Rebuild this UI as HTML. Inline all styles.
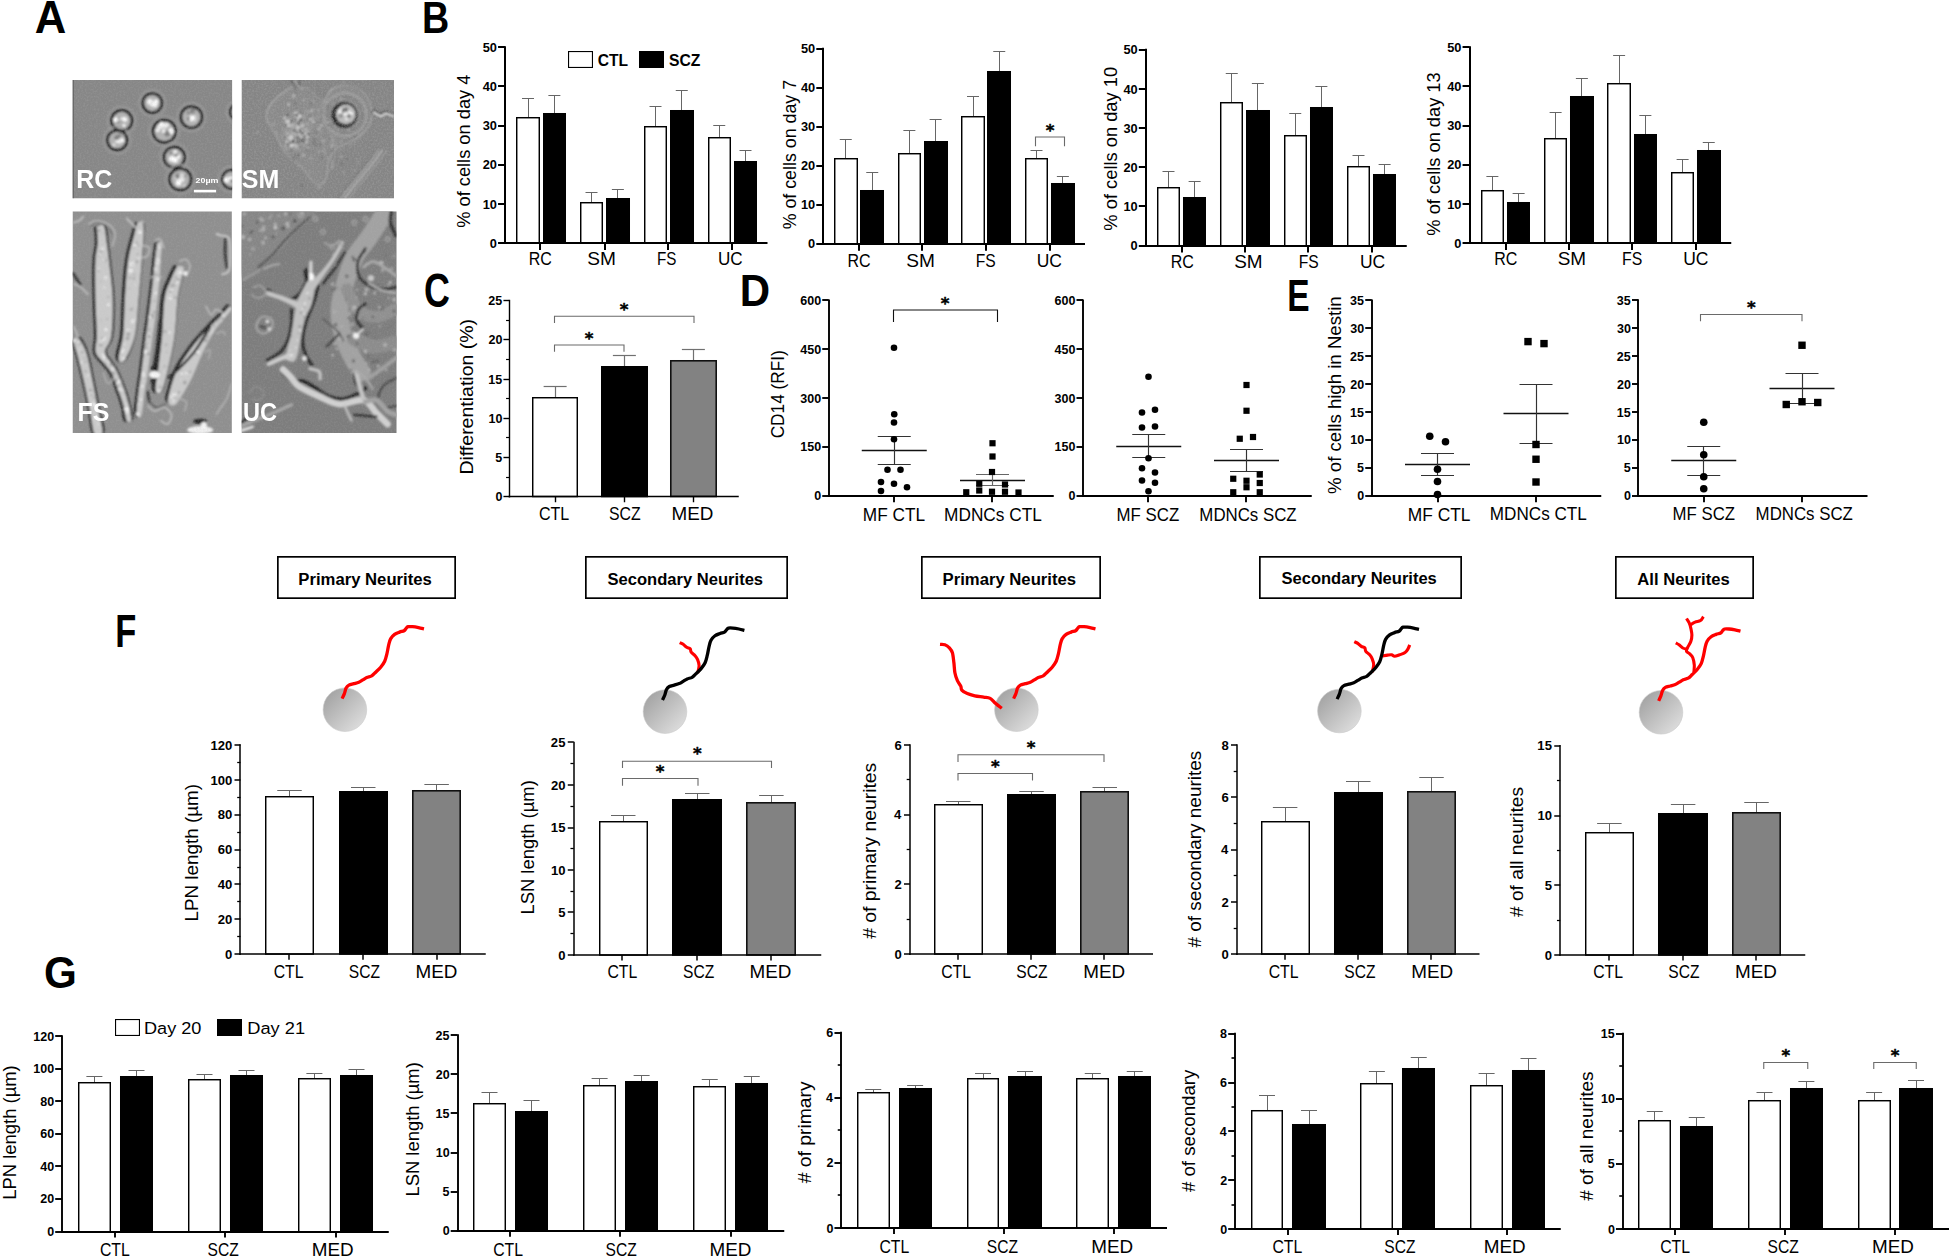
<!DOCTYPE html>
<html lang="en"><head><meta charset="utf-8"><title>Figure</title>
<style>
html,body{margin:0;padding:0;background:#fff}
svg{display:block}
svg text{font-family:"Liberation Sans",sans-serif}
</style></head><body>
<svg width="1949" height="1256" viewBox="0 0 1949 1256">
<rect width="1949" height="1256" fill="#fff"/>
<text transform="translate(34.66 32.50) scale(0.9386 1)" font-size="46.51" font-weight="bold" fill="#000">A</text>
<text transform="translate(421.95 32.50) scale(0.8647 1)" font-size="43.60" font-weight="bold" fill="#000">B</text>
<text transform="translate(424.06 307.03) scale(0.7583 1)" font-size="47.32" font-weight="bold" fill="#000">C</text>
<text transform="translate(739.66 305.50) scale(0.9483 1)" font-size="44.33" font-weight="bold" fill="#000">D</text>
<text transform="translate(1287.24 310.50) scale(0.7431 1)" font-size="45.06" font-weight="bold" fill="#000">E</text>
<text transform="translate(115.17 647.00) scale(0.7531 1)" font-size="45.78" font-weight="bold" fill="#000">F</text>
<text transform="translate(44.06 988.31) scale(0.9566 1)" font-size="44.14" font-weight="bold" fill="#000">G</text>
<g id="panelA">
<defs>
<filter id="b1" x="-10%" y="-10%" width="120%" height="120%"><feGaussianBlur stdDeviation="0.8"/></filter>
<filter id="b2" x="-10%" y="-10%" width="120%" height="120%"><feGaussianBlur stdDeviation="1.2"/></filter>
<filter id="b3" x="-10%" y="-10%" width="120%" height="120%"><feGaussianBlur stdDeviation="2.2"/></filter>
<filter id="bt" x="-5%" y="-5%" width="110%" height="110%"><feGaussianBlur stdDeviation="0.35"/></filter>
<filter id="nz" x="0" y="0" width="100%" height="100%"><feTurbulence type="fractalNoise" baseFrequency="0.55" numOctaves="2" seed="3" result="t"/><feColorMatrix type="matrix" values="0 0 0 0 0.5  0 0 0 0 0.5  0 0 0 0 0.5  1.2 0 0 0 -0.45"/></filter>
<clipPath id="cRC"><rect x="72.5" y="80" width="159.7" height="118.2"/></clipPath>
<clipPath id="cSM"><rect x="241.5" y="80" width="152.5" height="118.2"/></clipPath>
<clipPath id="cFS"><rect x="72.5" y="211.4" width="159.3" height="221.6"/></clipPath>
<clipPath id="cUC"><rect x="241.5" y="211.4" width="155" height="221.6"/></clipPath>
</defs>
<g clip-path="url(#cRC)">
<rect x="72.5" y="80" width="160" height="119" fill="#878787"/>
<g filter="url(#b1)">
<circle cx="152.3" cy="103.1" r="13.4" fill="none" stroke="#9c9c9c" stroke-width="1.4"/>
<circle cx="152.3" cy="103.1" r="10.8" fill="#1c1c1c"/>
<circle cx="152.3" cy="103.1" r="8.1" fill="#b2b2b2"/>
<circle cx="151.9" cy="103.9" r="2.3" fill="#ffffff"/>
<circle cx="152.6" cy="102.6" r="2.2" fill="#dcdcdc"/>
<circle cx="152.4" cy="103.6" r="1.9" fill="#f0f0f0"/>
<circle cx="154.5" cy="104.5" r="2.5" fill="#ffffff"/>
<circle cx="156.0" cy="101.8" r="2.2" fill="#ffffff"/>
<circle cx="150.1" cy="102.0" r="2.8" fill="#ffffff"/>
<circle cx="151.5" cy="102.8" r="1.9" fill="#dcdcdc"/>
<circle cx="153.7" cy="104.4" r="2.5" fill="#f0f0f0"/>
<circle cx="155.1" cy="105.2" r="1.6" fill="#ffffff"/>
<circle cx="151.9" cy="103.0" r="1.4" fill="#f0f0f0"/>
<circle cx="121.7" cy="120.6" r="14.1" fill="none" stroke="#9c9c9c" stroke-width="1.4"/>
<circle cx="121.7" cy="120.6" r="11.5" fill="#1c1c1c"/>
<circle cx="121.7" cy="120.6" r="8.8" fill="#b2b2b2"/>
<circle cx="118.0" cy="120.7" r="2.5" fill="#7e7e7e"/>
<circle cx="119.0" cy="119.0" r="1.7" fill="#8a8a8a"/>
<circle cx="124.0" cy="125.5" r="1.4" fill="#fff"/>
<circle cx="115.7" cy="119.7" r="2.4" fill="#fff"/>
<circle cx="121.3" cy="120.3" r="2.1" fill="#f0f0f0"/>
<circle cx="121.7" cy="119.6" r="2.0" fill="#ffffff"/>
<circle cx="122.2" cy="120.5" r="2.1" fill="#8a8a8a"/>
<circle cx="123.2" cy="119.1" r="2.3" fill="#dcdcdc"/>
<circle cx="116.2" cy="120.7" r="1.4" fill="#ffffff"/>
<circle cx="124.8" cy="119.5" r="2.3" fill="#ffffff"/>
<circle cx="117.2" cy="140.2" r="13.6" fill="none" stroke="#9c9c9c" stroke-width="1.4"/>
<circle cx="117.2" cy="140.2" r="11.0" fill="#1c1c1c"/>
<circle cx="117.2" cy="140.2" r="8.3" fill="#b2b2b2"/>
<circle cx="117.0" cy="138.2" r="2.2" fill="#fff"/>
<circle cx="118.0" cy="138.6" r="1.9" fill="#fff"/>
<circle cx="113.8" cy="145.1" r="1.8" fill="#dcdcdc"/>
<circle cx="117.5" cy="140.5" r="2.5" fill="#f0f0f0"/>
<circle cx="117.0" cy="137.7" r="2.7" fill="#7e7e7e"/>
<circle cx="119.7" cy="141.6" r="2.1" fill="#f0f0f0"/>
<circle cx="119.5" cy="135.2" r="1.7" fill="#7e7e7e"/>
<circle cx="121.6" cy="139.8" r="1.9" fill="#f0f0f0"/>
<circle cx="117.9" cy="141.1" r="1.6" fill="#f0f0f0"/>
<circle cx="122.5" cy="140.6" r="1.6" fill="#fff"/>
<circle cx="191.4" cy="117.1" r="14.4" fill="none" stroke="#9c9c9c" stroke-width="1.4"/>
<circle cx="191.4" cy="117.1" r="11.8" fill="#1c1c1c"/>
<circle cx="191.4" cy="117.1" r="9.1" fill="#b2b2b2"/>
<circle cx="194.4" cy="117.2" r="1.9" fill="#dcdcdc"/>
<circle cx="191.0" cy="117.9" r="2.6" fill="#dcdcdc"/>
<circle cx="188.4" cy="112.7" r="2.0" fill="#8a8a8a"/>
<circle cx="192.6" cy="110.9" r="2.5" fill="#7e7e7e"/>
<circle cx="189.1" cy="118.8" r="2.0" fill="#7e7e7e"/>
<circle cx="191.8" cy="117.3" r="1.6" fill="#f0f0f0"/>
<circle cx="194.7" cy="119.9" r="1.5" fill="#dcdcdc"/>
<circle cx="191.8" cy="117.7" r="1.8" fill="#ffffff"/>
<circle cx="192.8" cy="117.7" r="1.9" fill="#fff"/>
<circle cx="191.4" cy="119.6" r="1.8" fill="#ffffff"/>
<circle cx="164.3" cy="131.2" r="15.1" fill="none" stroke="#9c9c9c" stroke-width="1.4"/>
<circle cx="164.3" cy="131.2" r="12.5" fill="#1c1c1c"/>
<circle cx="164.3" cy="131.2" r="9.8" fill="#b2b2b2"/>
<circle cx="167.2" cy="133.8" r="2.8" fill="#7e7e7e"/>
<circle cx="163.6" cy="131.3" r="1.5" fill="#fff"/>
<circle cx="164.1" cy="127.4" r="2.3" fill="#dcdcdc"/>
<circle cx="171.7" cy="132.3" r="2.1" fill="#f0f0f0"/>
<circle cx="161.6" cy="124.5" r="2.4" fill="#fff"/>
<circle cx="171.1" cy="130.3" r="2.3" fill="#fff"/>
<circle cx="157.2" cy="130.4" r="1.8" fill="#f0f0f0"/>
<circle cx="158.3" cy="130.0" r="1.8" fill="#f0f0f0"/>
<circle cx="159.6" cy="127.1" r="2.4" fill="#f0f0f0"/>
<circle cx="166.5" cy="125.1" r="2.4" fill="#f0f0f0"/>
<circle cx="174.3" cy="157.2" r="14.1" fill="none" stroke="#9c9c9c" stroke-width="1.4"/>
<circle cx="174.3" cy="157.2" r="11.5" fill="#1c1c1c"/>
<circle cx="174.3" cy="157.2" r="8.8" fill="#b2b2b2"/>
<circle cx="175.4" cy="160.4" r="2.4" fill="#ffffff"/>
<circle cx="175.1" cy="154.0" r="1.6" fill="#dcdcdc"/>
<circle cx="177.3" cy="156.4" r="2.7" fill="#fff"/>
<circle cx="176.7" cy="156.5" r="1.6" fill="#f0f0f0"/>
<circle cx="172.0" cy="157.6" r="2.0" fill="#dcdcdc"/>
<circle cx="176.1" cy="154.4" r="2.3" fill="#8a8a8a"/>
<circle cx="170.7" cy="152.7" r="1.5" fill="#7e7e7e"/>
<circle cx="175.3" cy="152.1" r="2.0" fill="#f0f0f0"/>
<circle cx="170.3" cy="159.0" r="1.4" fill="#fff"/>
<circle cx="172.1" cy="158.9" r="2.7" fill="#fff"/>
<circle cx="180.3" cy="179.3" r="14.6" fill="none" stroke="#9c9c9c" stroke-width="1.4"/>
<circle cx="180.3" cy="179.3" r="12.0" fill="#1c1c1c"/>
<circle cx="180.3" cy="179.3" r="9.3" fill="#b2b2b2"/>
<circle cx="184.3" cy="185.5" r="1.3" fill="#dcdcdc"/>
<circle cx="185.2" cy="175.9" r="1.5" fill="#8a8a8a"/>
<circle cx="177.4" cy="177.3" r="2.7" fill="#f0f0f0"/>
<circle cx="179.4" cy="179.0" r="1.3" fill="#fff"/>
<circle cx="178.0" cy="176.2" r="2.7" fill="#7e7e7e"/>
<circle cx="181.7" cy="179.2" r="2.6" fill="#ffffff"/>
<circle cx="180.3" cy="181.5" r="1.7" fill="#dcdcdc"/>
<circle cx="178.5" cy="182.9" r="2.6" fill="#ffffff"/>
<circle cx="182.5" cy="177.9" r="2.0" fill="#dcdcdc"/>
<circle cx="181.8" cy="175.8" r="2.5" fill="#dcdcdc"/>
<circle cx="231.5" cy="179.3" r="13.1" fill="none" stroke="#9c9c9c" stroke-width="1.4"/>
<circle cx="231.5" cy="179.3" r="10.5" fill="#1c1c1c"/>
<circle cx="231.5" cy="179.3" r="7.8" fill="#b2b2b2"/>
<circle cx="232.1" cy="180.0" r="2.1" fill="#8a8a8a"/>
<circle cx="230.5" cy="179.7" r="1.3" fill="#8a8a8a"/>
<circle cx="232.0" cy="180.0" r="2.2" fill="#ffffff"/>
<circle cx="229.7" cy="178.6" r="2.1" fill="#dcdcdc"/>
<circle cx="226.9" cy="179.8" r="2.6" fill="#ffffff"/>
<circle cx="231.5" cy="180.9" r="2.5" fill="#dcdcdc"/>
<circle cx="231.3" cy="179.3" r="2.6" fill="#ffffff"/>
<circle cx="228.1" cy="180.6" r="2.1" fill="#dcdcdc"/>
<circle cx="232.0" cy="180.9" r="2.1" fill="#8a8a8a"/>
<circle cx="226.0" cy="180.1" r="2.3" fill="#fff"/>
<circle cx="238.0" cy="112.0" r="11.6" fill="none" stroke="#9c9c9c" stroke-width="1.4"/>
<circle cx="238.0" cy="112.0" r="9.0" fill="#1c1c1c"/>
<circle cx="238.0" cy="112.0" r="6.3" fill="#b2b2b2"/>
<circle cx="241.5" cy="110.2" r="1.6" fill="#7e7e7e"/>
<circle cx="238.3" cy="112.4" r="2.0" fill="#ffffff"/>
<circle cx="237.1" cy="110.3" r="1.6" fill="#fff"/>
<circle cx="238.8" cy="108.1" r="1.5" fill="#fff"/>
<circle cx="237.0" cy="110.7" r="1.7" fill="#f0f0f0"/>
<circle cx="238.9" cy="111.8" r="2.7" fill="#7e7e7e"/>
<circle cx="238.5" cy="111.5" r="2.3" fill="#f0f0f0"/>
<circle cx="239.0" cy="113.6" r="2.1" fill="#fff"/>
<circle cx="236.6" cy="112.7" r="1.4" fill="#fff"/>
<circle cx="240.4" cy="112.3" r="2.0" fill="#ffffff"/>
</g>
<rect x="72.5" y="80" width="160" height="119" filter="url(#nz)" opacity="0.35"/>
<rect x="72.5" y="80" width="1" height="119" fill="#4a4a4a"/>
<rect x="193.9" y="189.8" width="22.2" height="2.6" fill="#fff"/>
<g filter="url(#bt)">
<text transform="translate(195.59 182.80) scale(1.1425 1)" font-size="7.80" font-weight="bold" fill="#fff">20µm</text>
<text transform="translate(76.32 188.30) scale(0.9956 1)" font-size="25.00" font-weight="bold" fill="#fff">RC</text>
</g>
</g>
<g clip-path="url(#cSM)">
<rect x="241.5" y="80" width="153" height="119" fill="#858585"/>
<g filter="url(#b1)">
<path d="M292.17 86.03C289.83 87.70 281.97 92.72 278.13 96.06C274.28 99.40 271.11 102.25 269.10 106.09C267.09 109.94 264.92 114.11 266.09 119.13C267.26 124.14 273.11 130.66 276.12 136.18C279.13 141.70 280.13 147.21 284.14 152.23C288.16 157.24 295.51 161.42 300.19 166.27C304.87 171.12 308.72 178.31 312.23 181.32C315.74 184.32 318.92 185.16 321.26 184.32C323.60 183.49 325.10 180.15 326.27 176.30C327.44 172.46 326.61 165.94 328.28 161.26C329.95 156.58 331.62 152.06 336.30 148.22C340.98 144.37 350.84 142.20 356.36 138.19C361.88 134.17 367.06 129.49 369.40 124.14C371.74 118.80 371.74 111.61 370.40 106.09C369.07 100.57 365.39 94.56 361.38 91.05C357.36 87.53 351.35 85.36 346.33 85.03C341.32 84.69 335.13 86.36 331.29 89.04C327.44 91.71 325.77 99.91 323.26 101.08C320.75 102.25 319.08 98.23 316.24 96.06C313.40 93.89 310.22 89.71 306.21 88.04C302.20 86.36 294.51 86.36 292.17 86.03" fill="#8a8a8a" stroke="#ababab" stroke-width="1.5"/>
<path d="M292.17 86.03C289.83 87.70 281.97 92.72 278.13 96.06C274.28 99.40 271.11 102.25 269.10 106.09C267.09 109.94 264.92 114.11 266.09 119.13C267.26 124.14 273.11 130.66 276.12 136.18C279.13 141.70 280.13 147.21 284.14 152.23C288.16 157.24 295.51 161.42 300.19 166.27C304.87 171.12 308.72 178.31 312.23 181.32C315.74 184.32 318.92 185.16 321.26 184.32C323.60 183.49 325.10 180.15 326.27 176.30C327.44 172.46 326.61 165.94 328.28 161.26C329.95 156.58 331.62 152.06 336.30 148.22C340.98 144.37 350.84 142.20 356.36 138.19C361.88 134.17 367.06 129.49 369.40 124.14C371.74 118.80 371.74 111.61 370.40 106.09C369.07 100.57 365.39 94.56 361.38 91.05C357.36 87.53 351.35 85.36 346.33 85.03C341.32 84.69 335.13 86.36 331.29 89.04C327.44 91.71 325.77 99.91 323.26 101.08C320.75 102.25 319.08 98.23 316.24 96.06C313.40 93.89 310.22 89.71 306.21 88.04C302.20 86.36 294.51 86.36 292.17 86.03" fill="none" stroke="#6e6e6e" stroke-width="0.8" transform="translate(-1.2 -0.6)"/>
<path d="M323.26 101.08C322.59 103.58 319.58 110.27 319.25 116.12C318.92 121.97 320.09 129.49 321.26 136.18C322.43 142.87 325.10 152.06 326.27 156.24C327.44 160.42 327.94 160.42 328.28 161.26" fill="none" stroke="#9c9c9c" stroke-width="0.9"/>
<path d="M369.40 124.14C368.06 126.15 364.39 132.50 361.38 136.18C358.37 139.86 355.53 143.54 351.35 146.21C347.17 148.89 339.48 148.89 336.30 152.23C333.12 155.57 333.96 162.26 332.29 166.27C330.62 170.28 327.27 174.63 326.27 176.30" fill="none" stroke="#979797" stroke-width="0.9"/>
<ellipse cx="296.5" cy="132" rx="13" ry="19" fill="#9a9a9a" filter="url(#b3)"/>
<circle cx="289.9" cy="140.6" r="1.1" fill="#c0c0c0"/>
<circle cx="308.1" cy="147.5" r="1.0" fill="#c0c0c0"/>
<circle cx="301.0" cy="136.4" r="1.7" fill="#dedede"/>
<circle cx="295.7" cy="137.7" r="1.2" fill="#666"/>
<circle cx="289.0" cy="139.5" r="1.3" fill="#707070"/>
<circle cx="295.3" cy="127.9" r="0.9" fill="#dedede"/>
<circle cx="293.8" cy="134.0" r="1.7" fill="#c0c0c0"/>
<circle cx="297.1" cy="128.0" r="1.7" fill="#c0c0c0"/>
<circle cx="295.9" cy="137.5" r="0.8" fill="#d2d2d2"/>
<circle cx="301.2" cy="128.5" r="0.9" fill="#5a5a5a"/>
<circle cx="313.3" cy="121.7" r="1.1" fill="#dedede"/>
<circle cx="298.0" cy="140.9" r="1.1" fill="#5a5a5a"/>
<circle cx="294.2" cy="144.2" r="1.0" fill="#b4b4b4"/>
<circle cx="303.7" cy="100.2" r="0.8" fill="#cfcfcf"/>
<circle cx="295.3" cy="119.0" r="1.0" fill="#707070"/>
<circle cx="296.4" cy="143.6" r="1.5" fill="#d2d2d2"/>
<circle cx="291.3" cy="121.2" r="1.7" fill="#666"/>
<circle cx="288.6" cy="104.6" r="1.1" fill="#dedede"/>
<circle cx="290.9" cy="137.7" r="0.9" fill="#dedede"/>
<circle cx="306.0" cy="133.5" r="1.7" fill="#d2d2d2"/>
<circle cx="297.7" cy="136.0" r="1.6" fill="#666"/>
<circle cx="287.5" cy="122.8" r="0.8" fill="#dedede"/>
<circle cx="300.4" cy="141.7" r="1.1" fill="#b4b4b4"/>
<circle cx="304.9" cy="129.9" r="1.0" fill="#666"/>
<circle cx="297.1" cy="138.7" r="1.1" fill="#c0c0c0"/>
<circle cx="288.0" cy="134.2" r="1.0" fill="#cfcfcf"/>
<circle cx="307.1" cy="142.7" r="0.9" fill="#cfcfcf"/>
<circle cx="291.6" cy="137.7" r="1.4" fill="#c0c0c0"/>
<circle cx="288.8" cy="125.6" r="1.6" fill="#d2d2d2"/>
<circle cx="297.2" cy="115.5" r="1.3" fill="#666"/>
<circle cx="294.6" cy="117.3" r="0.8" fill="#d2d2d2"/>
<circle cx="294.9" cy="113.1" r="0.9" fill="#cfcfcf"/>
<circle cx="300.5" cy="119.9" r="1.7" fill="#5a5a5a"/>
<circle cx="298.0" cy="133.8" r="1.4" fill="#c0c0c0"/>
<circle cx="290.7" cy="140.3" r="0.9" fill="#cfcfcf"/>
<circle cx="288.8" cy="120.9" r="1.3" fill="#cfcfcf"/>
<circle cx="293.6" cy="133.3" r="1.7" fill="#c0c0c0"/>
<circle cx="294.8" cy="128.9" r="1.5" fill="#666"/>
<circle cx="301.1" cy="113.3" r="1.0" fill="#5a5a5a"/>
<circle cx="297.4" cy="147.3" r="1.3" fill="#d2d2d2"/>
<circle cx="309.8" cy="142.9" r="1.1" fill="#cfcfcf"/>
<circle cx="288.7" cy="122.1" r="0.9" fill="#dedede"/>
<circle cx="291.2" cy="145.5" r="1.5" fill="#dedede"/>
<circle cx="298.7" cy="132.5" r="1.1" fill="#c0c0c0"/>
<circle cx="292.5" cy="117.5" r="1.1" fill="#666"/>
<circle cx="288.5" cy="134.8" r="0.9" fill="#5a5a5a"/>
<circle cx="295.1" cy="136.3" r="1.3" fill="#666"/>
<circle cx="283.7" cy="137.2" r="1.8" fill="#707070"/>
<circle cx="303.1" cy="131.8" r="1.7" fill="#5a5a5a"/>
<circle cx="298.9" cy="134.3" r="1.5" fill="#666"/>
<circle cx="299.8" cy="130.6" r="1.6" fill="#666"/>
<circle cx="304.5" cy="121.5" r="1.0" fill="#707070"/>
<circle cx="293.0" cy="136.0" r="1.7" fill="#707070"/>
<circle cx="286.9" cy="141.7" r="1.2" fill="#d2d2d2"/>
<circle cx="290.8" cy="150.6" r="0.8" fill="#b4b4b4"/>
<circle cx="298.1" cy="127.7" r="1.7" fill="#cfcfcf"/>
<circle cx="300.9" cy="127.2" r="1.2" fill="#d2d2d2"/>
<circle cx="285.3" cy="145.7" r="0.9" fill="#d2d2d2"/>
<circle cx="296.7" cy="111.6" r="1.1" fill="#cfcfcf"/>
<circle cx="299.1" cy="124.8" r="1.7" fill="#5a5a5a"/>
<circle cx="303.6" cy="130.2" r="1.1" fill="#b4b4b4"/>
<circle cx="297.8" cy="121.4" r="0.8" fill="#d2d2d2"/>
<circle cx="310.4" cy="119.3" r="1.3" fill="#c0c0c0"/>
<circle cx="307.0" cy="137.4" r="1.3" fill="#dedede"/>
<circle cx="292.7" cy="125.4" r="0.8" fill="#dedede"/>
<circle cx="299.7" cy="141.8" r="1.1" fill="#666"/>
<circle cx="294.9" cy="103.5" r="1.1" fill="#5a5a5a"/>
<circle cx="293.4" cy="144.9" r="1.2" fill="#dedede"/>
<circle cx="294.5" cy="128.9" r="1.3" fill="#707070"/>
<circle cx="288.9" cy="128.6" r="1.1" fill="#707070"/>
<circle cx="288.3" cy="138.0" r="1.0" fill="#dedede"/>
<circle cx="294.5" cy="136.0" r="1.0" fill="#666"/>
<circle cx="297.9" cy="125.6" r="0.8" fill="#d2d2d2"/>
<circle cx="287.6" cy="143.9" r="1.0" fill="#666"/>
<circle cx="294.9" cy="135.4" r="1.1" fill="#b4b4b4"/>
<circle cx="302.0" cy="141.0" r="1.4" fill="#5a5a5a"/>
<circle cx="308.7" cy="144.5" r="1.2" fill="#707070"/>
<circle cx="290.7" cy="136.0" r="1.6" fill="#cfcfcf"/>
<circle cx="301.3" cy="140.1" r="1.6" fill="#707070"/>
<circle cx="304.2" cy="129.8" r="0.9" fill="#707070"/>
<circle cx="301.4" cy="130.8" r="0.9" fill="#dedede"/>
<circle cx="307.0" cy="155.1" r="0.9" fill="#707070"/>
<circle cx="306.6" cy="141.5" r="0.8" fill="#dedede"/>
<circle cx="297.9" cy="155.7" r="1.4" fill="#666"/>
<circle cx="305.8" cy="128.8" r="1.3" fill="#d2d2d2"/>
<circle cx="295.1" cy="127.3" r="0.9" fill="#5a5a5a"/>
<circle cx="292.4" cy="137.0" r="1.4" fill="#cfcfcf"/>
<circle cx="273.4" cy="124.0" r="1.1" fill="#b4b4b4"/>
<circle cx="287.3" cy="115.0" r="1.3" fill="#5a5a5a"/>
<circle cx="294.6" cy="131.5" r="1.2" fill="#666"/>
<circle cx="300.5" cy="134.5" r="1.7" fill="#d2d2d2"/>
<circle cx="300.6" cy="135.9" r="1.2" fill="#b4b4b4"/>
<circle cx="296.5" cy="134.9" r="1.1" fill="#d2d2d2"/>
<circle cx="291.6" cy="140.2" r="0.8" fill="#666"/>
<circle cx="295.6" cy="119.8" r="1.0" fill="#5a5a5a"/>
<circle cx="291.3" cy="150.2" r="1.0" fill="#5a5a5a"/>
<circle cx="294.8" cy="154.1" r="0.9" fill="#707070"/>
<circle cx="284.7" cy="117.9" r="1.3" fill="#cfcfcf"/>
<circle cx="299.9" cy="130.3" r="1.2" fill="#5a5a5a"/>
<circle cx="305.5" cy="134.3" r="1.2" fill="#cfcfcf"/>
<circle cx="299.3" cy="142.7" r="1.5" fill="#b4b4b4"/>
<circle cx="293.6" cy="96.0" r="1.7" fill="#b4b4b4"/>
<circle cx="299.9" cy="146.4" r="1.3" fill="#707070"/>
<circle cx="306.3" cy="135.3" r="1.2" fill="#b4b4b4"/>
<circle cx="303.7" cy="131.1" r="0.9" fill="#c0c0c0"/>
<circle cx="295.0" cy="141.8" r="1.8" fill="#c0c0c0"/>
<circle cx="285.3" cy="125.6" r="1.2" fill="#666"/>
<circle cx="299.5" cy="122.1" r="0.8" fill="#707070"/>
<circle cx="299.1" cy="144.6" r="1.2" fill="#b4b4b4"/>
<circle cx="286.4" cy="149.1" r="0.8" fill="#d2d2d2"/>
<circle cx="296.3" cy="146.9" r="1.2" fill="#d2d2d2"/>
<circle cx="298.7" cy="133.0" r="1.7" fill="#666"/>
<circle cx="297.1" cy="135.8" r="1.4" fill="#b4b4b4"/>
<circle cx="293.7" cy="158.3" r="1.4" fill="#666"/>
<circle cx="296.0" cy="116.1" r="1.7" fill="#666"/>
<circle cx="307.9" cy="132.6" r="1.7" fill="#c0c0c0"/>
<circle cx="301.3" cy="133.4" r="1.3" fill="#707070"/>
<circle cx="302.8" cy="129.2" r="1.1" fill="#d2d2d2"/>
<circle cx="297.7" cy="127.1" r="1.3" fill="#cfcfcf"/>
<circle cx="299.9" cy="115.9" r="1.6" fill="#dedede"/>
<circle cx="291.3" cy="126.4" r="1.1" fill="#b4b4b4"/>
<circle cx="298.2" cy="118.4" r="1.3" fill="#d2d2d2"/>
<circle cx="296.3" cy="124.3" r="0.9" fill="#cfcfcf"/>
<circle cx="287.5" cy="133.7" r="1.0" fill="#d2d2d2"/>
<circle cx="311.7" cy="111.4" r="1.1" fill="#c0c0c0"/>
<circle cx="298.1" cy="142.8" r="1.8" fill="#707070"/>
<circle cx="297.9" cy="137.2" r="1.3" fill="#5a5a5a"/>
<circle cx="296.0" cy="111.9" r="1.5" fill="#c0c0c0"/>
<circle cx="297.3" cy="123.6" r="1.1" fill="#666"/>
<circle cx="288.2" cy="144.5" r="1.0" fill="#5a5a5a"/>
<circle cx="298.2" cy="139.3" r="1.1" fill="#5a5a5a"/>
<circle cx="293.0" cy="141.6" r="1.8" fill="#5a5a5a"/>
<circle cx="294.3" cy="128.3" r="1.3" fill="#cfcfcf"/>
<circle cx="302.6" cy="139.3" r="1.6" fill="#707070"/>
<circle cx="297.9" cy="130.7" r="1.1" fill="#c0c0c0"/>
<circle cx="305.2" cy="136.6" r="1.6" fill="#5a5a5a"/>
<circle cx="302.3" cy="127.9" r="1.7" fill="#707070"/>
<circle cx="286.6" cy="121.3" r="1.5" fill="#cfcfcf"/>
<circle cx="303.6" cy="140.9" r="1.4" fill="#5a5a5a"/>
<circle cx="302.4" cy="134.4" r="0.8" fill="#666"/>
<circle cx="307.2" cy="136.3" r="1.7" fill="#cfcfcf"/>
<circle cx="299.2" cy="122.4" r="1.2" fill="#666"/>
<circle cx="297.8" cy="133.4" r="1.3" fill="#707070"/>
<circle cx="299.2" cy="134.1" r="1.2" fill="#dedede"/>
<circle cx="294.2" cy="128.7" r="1.0" fill="#666"/>
<circle cx="291.4" cy="136.8" r="1.1" fill="#cfcfcf"/>
<circle cx="292.7" cy="144.7" r="1.2" fill="#d2d2d2"/>
<circle cx="308.1" cy="134.2" r="1.6" fill="#5a5a5a"/>
<circle cx="290.7" cy="139.0" r="1.7" fill="#d2d2d2"/>
<circle cx="302.2" cy="125.8" r="1.6" fill="#d2d2d2"/>
<circle cx="304.3" cy="117.3" r="1.2" fill="#a4a4a4"/>
<circle cx="348.5" cy="130.8" r="1.1" fill="#b8b8b8"/>
<circle cx="346.8" cy="145.8" r="0.9" fill="#727272"/>
<circle cx="331.2" cy="147.6" r="0.7" fill="#a4a4a4"/>
<circle cx="331.0" cy="122.8" r="1.0" fill="#a4a4a4"/>
<circle cx="309.2" cy="171.4" r="0.6" fill="#b8b8b8"/>
<circle cx="310.7" cy="158.2" r="1.1" fill="#aeaeae"/>
<circle cx="346.1" cy="109.1" r="1.3" fill="#a4a4a4"/>
<circle cx="295.7" cy="91.5" r="1.1" fill="#727272"/>
<circle cx="344.5" cy="90.9" r="0.7" fill="#a4a4a4"/>
<circle cx="369.9" cy="142.7" r="0.7" fill="#6c6c6c"/>
<circle cx="333.3" cy="140.6" r="1.2" fill="#a4a4a4"/>
<circle cx="348.1" cy="135.9" r="1.2" fill="#aeaeae"/>
<circle cx="312.8" cy="109.5" r="0.9" fill="#b8b8b8"/>
<circle cx="294.0" cy="117.6" r="0.8" fill="#b8b8b8"/>
<circle cx="316.3" cy="145.0" r="0.9" fill="#6c6c6c"/>
<circle cx="300.7" cy="136.5" r="0.6" fill="#727272"/>
<circle cx="345.4" cy="125.7" r="1.0" fill="#727272"/>
<circle cx="326.4" cy="101.9" r="0.7" fill="#b8b8b8"/>
<circle cx="315.7" cy="133.2" r="0.9" fill="#6c6c6c"/>
<circle cx="341.0" cy="142.1" r="1.0" fill="#aeaeae"/>
<circle cx="332.7" cy="131.2" r="1.3" fill="#6c6c6c"/>
<circle cx="326.3" cy="99.7" r="0.6" fill="#727272"/>
<circle cx="346.1" cy="106.6" r="1.2" fill="#aeaeae"/>
<circle cx="365.6" cy="65.4" r="1.2" fill="#aeaeae"/>
<circle cx="342.6" cy="191.7" r="1.0" fill="#a4a4a4"/>
<circle cx="308.9" cy="92.7" r="0.8" fill="#6c6c6c"/>
<circle cx="309.7" cy="116.3" r="0.9" fill="#727272"/>
<circle cx="316.0" cy="171.6" r="0.7" fill="#727272"/>
<circle cx="345.4" cy="121.9" r="1.1" fill="#727272"/>
<circle cx="303.6" cy="127.2" r="0.6" fill="#a4a4a4"/>
<circle cx="297.5" cy="147.5" r="0.8" fill="#6c6c6c"/>
<circle cx="332.1" cy="119.1" r="1.2" fill="#aeaeae"/>
<circle cx="322.8" cy="120.5" r="1.3" fill="#b8b8b8"/>
<circle cx="296.0" cy="117.3" r="1.3" fill="#aeaeae"/>
<circle cx="321.7" cy="157.7" r="1.3" fill="#6c6c6c"/>
<circle cx="316.1" cy="200.9" r="1.1" fill="#6c6c6c"/>
<circle cx="317.8" cy="136.6" r="0.8" fill="#727272"/>
<circle cx="321.7" cy="120.5" r="1.3" fill="#6c6c6c"/>
<circle cx="301.9" cy="186.0" r="1.3" fill="#6c6c6c"/>
<circle cx="318.3" cy="88.4" r="0.8" fill="#6c6c6c"/>
<circle cx="305.3" cy="111.0" r="1.0" fill="#aeaeae"/>
<circle cx="332.2" cy="140.7" r="1.1" fill="#aeaeae"/>
<circle cx="347.6" cy="138.4" r="0.8" fill="#727272"/>
<circle cx="312.7" cy="141.4" r="1.1" fill="#727272"/>
<circle cx="335.4" cy="145.1" r="1.3" fill="#a4a4a4"/>
<circle cx="354.7" cy="170.2" r="0.8" fill="#a4a4a4"/>
<circle cx="314.7" cy="130.6" r="0.7" fill="#6c6c6c"/>
<circle cx="308.6" cy="138.9" r="0.6" fill="#727272"/>
<circle cx="344.0" cy="107.9" r="1.1" fill="#727272"/>
<circle cx="353.5" cy="113.0" r="0.8" fill="#aeaeae"/>
<circle cx="346.9" cy="136.1" r="0.9" fill="#a4a4a4"/>
<circle cx="347.0" cy="172.5" r="0.7" fill="#727272"/>
<circle cx="274.6" cy="110.0" r="0.7" fill="#a4a4a4"/>
<circle cx="292.1" cy="124.1" r="1.1" fill="#b8b8b8"/>
<circle cx="327.0" cy="114.3" r="0.8" fill="#6c6c6c"/>
<circle cx="274.7" cy="73.3" r="1.2" fill="#b8b8b8"/>
<circle cx="321.5" cy="125.4" r="1.3" fill="#b8b8b8"/>
<circle cx="348.8" cy="145.0" r="0.7" fill="#aeaeae"/>
<circle cx="319.8" cy="162.4" r="0.7" fill="#6c6c6c"/>
<circle cx="318.1" cy="109.7" r="1.0" fill="#b8b8b8"/>
<circle cx="303.6" cy="78.7" r="1.4" fill="#6c6c6c"/>
<circle cx="287.8" cy="79.6" r="0.8" fill="#727272"/>
<circle cx="338.2" cy="129.8" r="0.8" fill="#a4a4a4"/>
<circle cx="354.7" cy="114.5" r="0.9" fill="#b8b8b8"/>
<circle cx="314.6" cy="143.6" r="1.3" fill="#727272"/>
<circle cx="282.6" cy="136.7" r="1.2" fill="#aeaeae"/>
<circle cx="290.9" cy="142.8" r="1.1" fill="#6c6c6c"/>
<circle cx="327.1" cy="104.8" r="1.1" fill="#727272"/>
<circle cx="331.9" cy="120.9" r="0.6" fill="#aeaeae"/>
<circle cx="313.0" cy="118.1" r="1.4" fill="#aeaeae"/>
<circle cx="333.2" cy="130.5" r="1.1" fill="#aeaeae"/>
<circle cx="310.8" cy="90.9" r="0.7" fill="#727272"/>
<circle cx="323.0" cy="112.0" r="1.4" fill="#727272"/>
<circle cx="328.0" cy="122.4" r="1.3" fill="#b8b8b8"/>
<circle cx="333.1" cy="138.2" r="0.7" fill="#aeaeae"/>
<circle cx="365.9" cy="111.4" r="1.2" fill="#aeaeae"/>
<circle cx="335.5" cy="97.8" r="0.8" fill="#aeaeae"/>
<circle cx="347.0" cy="159.5" r="1.1" fill="#6c6c6c"/>
<circle cx="312.7" cy="150.9" r="0.6" fill="#6c6c6c"/>
<circle cx="328.0" cy="124.8" r="1.2" fill="#6c6c6c"/>
<circle cx="325.4" cy="95.7" r="1.0" fill="#6c6c6c"/>
<circle cx="318.1" cy="123.9" r="0.9" fill="#b8b8b8"/>
<circle cx="312.5" cy="126.7" r="1.0" fill="#aeaeae"/>
<circle cx="307.7" cy="124.0" r="1.3" fill="#aeaeae"/>
<circle cx="306.6" cy="119.1" r="0.9" fill="#727272"/>
<circle cx="332.6" cy="166.8" r="1.4" fill="#aeaeae"/>
<circle cx="316.6" cy="136.8" r="1.2" fill="#a4a4a4"/>
<circle cx="349.5" cy="121.4" r="1.4" fill="#727272"/>
<circle cx="318.7" cy="185.5" r="0.8" fill="#a4a4a4"/>
<circle cx="336.1" cy="121.4" r="0.7" fill="#aeaeae"/>
<circle cx="257.6" cy="132.5" r="1.0" fill="#aeaeae"/>
<circle cx="308.3" cy="111.8" r="0.9" fill="#b8b8b8"/>
<circle cx="349.0" cy="103.1" r="0.9" fill="#aeaeae"/>
<circle cx="309.6" cy="142.7" r="0.9" fill="#727272"/>
<circle cx="301.5" cy="127.8" r="1.3" fill="#a4a4a4"/>
<circle cx="332.3" cy="123.7" r="1.1" fill="#727272"/>
<circle cx="310.2" cy="110.3" r="0.9" fill="#a4a4a4"/>
<circle cx="337.5" cy="108.6" r="1.0" fill="#6c6c6c"/>
<circle cx="332.9" cy="150.6" r="1.2" fill="#727272"/>
<circle cx="324.3" cy="149.5" r="1.1" fill="#a4a4a4"/>
<circle cx="305.5" cy="127.1" r="1.2" fill="#727272"/>
<circle cx="328.9" cy="139.5" r="0.8" fill="#6c6c6c"/>
<circle cx="306.5" cy="114.6" r="0.8" fill="#a4a4a4"/>
<circle cx="319.1" cy="187.7" r="1.4" fill="#a4a4a4"/>
<circle cx="331.5" cy="125.4" r="0.9" fill="#a4a4a4"/>
<circle cx="331.5" cy="90.5" r="0.9" fill="#a4a4a4"/>
<circle cx="357.8" cy="161.5" r="0.8" fill="#b8b8b8"/>
<circle cx="318.7" cy="128.9" r="1.3" fill="#b8b8b8"/>
<circle cx="313.4" cy="101.5" r="1.1" fill="#b8b8b8"/>
<circle cx="338.0" cy="130.6" r="1.2" fill="#aeaeae"/>
<circle cx="319.4" cy="75.7" r="0.9" fill="#727272"/>
<circle cx="296.1" cy="109.9" r="1.3" fill="#727272"/>
<circle cx="341.0" cy="99.0" r="1.1" fill="#b8b8b8"/>
<circle cx="307.2" cy="135.7" r="1.2" fill="#b8b8b8"/>
<circle cx="323.0" cy="152.2" r="1.2" fill="#a4a4a4"/>
<circle cx="322.0" cy="153.2" r="1.0" fill="#727272"/>
<circle cx="338.0" cy="105.5" r="1.1" fill="#a4a4a4"/>
<circle cx="336.8" cy="114.8" r="0.6" fill="#b8b8b8"/>
<circle cx="330.3" cy="121.8" r="0.8" fill="#a4a4a4"/>
<circle cx="341.5" cy="163.5" r="1.4" fill="#727272"/>
<circle cx="298.4" cy="165.9" r="1.0" fill="#a4a4a4"/>
<circle cx="316.9" cy="99.8" r="1.1" fill="#6c6c6c"/>
<circle cx="300.6" cy="124.6" r="1.4" fill="#a4a4a4"/>
<circle cx="335.4" cy="127.1" r="1.0" fill="#aeaeae"/>
<circle cx="318.2" cy="95.2" r="1.1" fill="#6c6c6c"/>
<circle cx="318.8" cy="152.0" r="0.6" fill="#b8b8b8"/>
<circle cx="347.5" cy="110.9" r="1.1" fill="#727272"/>
<circle cx="320.6" cy="145.0" r="1.2" fill="#727272"/>
<circle cx="388.4" cy="114.3" r="1.4" fill="#b8b8b8"/>
<circle cx="324.6" cy="140.3" r="1.2" fill="#a4a4a4"/>
<circle cx="295.5" cy="133.9" r="0.8" fill="#a4a4a4"/>
<circle cx="303.9" cy="155.3" r="1.3" fill="#b8b8b8"/>
<circle cx="304.8" cy="132.0" r="1.0" fill="#a4a4a4"/>
<circle cx="326.4" cy="101.5" r="1.2" fill="#a4a4a4"/>
<circle cx="319.8" cy="151.2" r="0.8" fill="#b8b8b8"/>
<circle cx="311.6" cy="103.2" r="1.2" fill="#6c6c6c"/>
<circle cx="302.8" cy="155.2" r="0.9" fill="#b8b8b8"/>
<circle cx="295.1" cy="142.8" r="1.1" fill="#6c6c6c"/>
<circle cx="332.2" cy="144.7" r="0.9" fill="#aeaeae"/>
<circle cx="343.5" cy="82.0" r="1.2" fill="#a4a4a4"/>
<circle cx="303.0" cy="123.8" r="1.1" fill="#aeaeae"/>
<circle cx="324.0" cy="137.0" r="0.8" fill="#727272"/>
<circle cx="331.4" cy="135.9" r="0.8" fill="#b8b8b8"/>
<circle cx="315.1" cy="139.4" r="1.3" fill="#727272"/>
<circle cx="343.8" cy="172.0" r="1.1" fill="#aeaeae"/>
<circle cx="300.2" cy="83.7" r="1.2" fill="#6c6c6c"/>
<circle cx="332.5" cy="162.9" r="1.0" fill="#b8b8b8"/>
<circle cx="317.0" cy="117.5" r="0.7" fill="#b8b8b8"/>
<circle cx="323.1" cy="141.1" r="1.0" fill="#aeaeae"/>
<circle cx="276.6" cy="133.1" r="1.2" fill="#a4a4a4"/>
<circle cx="295.8" cy="128.3" r="1.3" fill="#aeaeae"/>
<circle cx="331.9" cy="145.8" r="1.2" fill="#b8b8b8"/>
<circle cx="301.6" cy="88.4" r="0.9" fill="#b8b8b8"/>
<circle cx="353.5" cy="128.0" r="0.7" fill="#6c6c6c"/>
<circle cx="318.7" cy="123.6" r="1.1" fill="#6c6c6c"/>
<circle cx="325.4" cy="118.1" r="1.0" fill="#a4a4a4"/>
<circle cx="354.7" cy="136.1" r="1.1" fill="#6c6c6c"/>
<circle cx="347.5" cy="147.7" r="0.9" fill="#727272"/>
<circle cx="278.3" cy="110.3" r="0.8" fill="#6c6c6c"/>
<circle cx="298.4" cy="142.3" r="1.3" fill="#6c6c6c"/>
<circle cx="307.0" cy="150.1" r="0.9" fill="#6c6c6c"/>
<circle cx="335.5" cy="112.2" r="0.8" fill="#b8b8b8"/>
<circle cx="326.9" cy="107.2" r="0.9" fill="#6c6c6c"/>
<circle cx="361.2" cy="174.3" r="0.7" fill="#aeaeae"/>
<circle cx="300.5" cy="146.1" r="0.9" fill="#727272"/>
<circle cx="338.9" cy="134.2" r="0.6" fill="#a4a4a4"/>
<circle cx="332.4" cy="103.5" r="1.2" fill="#aeaeae"/>
<circle cx="333.2" cy="76.9" r="1.1" fill="#727272"/>
<circle cx="340.9" cy="156.7" r="1.2" fill="#aeaeae"/>
<circle cx="345" cy="114.5" r="21.5" fill="none" stroke="#a6a6a6" stroke-width="1.3"/>
<circle cx="345" cy="114.5" r="17.5" fill="none" stroke="#787878" stroke-width="1.0"/>
<circle cx="344.4" cy="115" r="13.2" fill="#1e1e1e" opacity="0.9"/>
<circle cx="345.8" cy="114.4" r="9.8" fill="#bcbcbc"/>
<circle cx="346.7" cy="118.7" r="1.6" fill="#f0f0f0"/>
<circle cx="346.6" cy="115.0" r="1.1" fill="#fff"/>
<circle cx="349.5" cy="111.8" r="1.5" fill="#f0f0f0"/>
<circle cx="346.5" cy="110.4" r="1.4" fill="#8a8a8a"/>
<circle cx="345.7" cy="114.4" r="1.1" fill="#fff"/>
<circle cx="341.5" cy="109.1" r="1.2" fill="#fff"/>
<circle cx="339.9" cy="113.4" r="2.0" fill="#e4e4e4"/>
<circle cx="339.9" cy="111.3" r="1.6" fill="#fff"/>
<circle cx="343.8" cy="110.4" r="2.3" fill="#787878"/>
<circle cx="348.9" cy="113.8" r="1.6" fill="#fff"/>
<circle cx="348.5" cy="115.8" r="2.2" fill="#787878"/>
<circle cx="345.6" cy="114.2" r="1.9" fill="#fff"/>
<circle cx="351.6" cy="113.7" r="1.4" fill="#fff"/>
<circle cx="345.7" cy="114.3" r="2.0" fill="#f0f0f0"/>
<circle cx="340.6" cy="115.8" r="2.2" fill="#8a8a8a"/>
<circle cx="346.3" cy="109.3" r="2.1" fill="#787878"/>
<path d="M372 111L377 114L381 116L386 113L393 116" fill="none" stroke="#3e3e3e" stroke-width="4.5"/>
<path d="M373 112L377 114.5L381 116.5L386 113.5L394 116.5" fill="none" stroke="#dcdcdc" stroke-width="2.2"/>
<path d="M338.5 199C351.5 180 365.5 168 376.5 150" fill="none" stroke="#5e5e5e" stroke-width="1.3"/>
<path d="M340.4 199C353.4 180 367.4 168 378.4 150" fill="none" stroke="#b0b0b0" stroke-width="1.6"/>
<path d="M342.4 199C355.4 180 369.4 168 380.4 150" fill="none" stroke="#666" stroke-width="1.2"/>
<path d="M344.4 199C357.4 180 371.4 168 382.4 150" fill="none" stroke="#bcbcbc" stroke-width="1.7"/>
<path d="M346.6 199C359.6 180 373.6 168 384.6 150" fill="none" stroke="#626262" stroke-width="1.2"/>
<path d="M348.4 199C361.4 180 375.4 168 386.4 150" fill="none" stroke="#a8a8a8" stroke-width="1.2"/>
<path d="M291 80L296 88L300 80" fill="none" stroke="#5a5a5a" stroke-width="1.5"/>
<path d="M295 80L298 87" fill="none" stroke="#b4b4b4" stroke-width="1.2"/>
</g>
<rect x="241.5" y="80" width="153" height="119" filter="url(#nz)" opacity="0.5"/>
<g filter="url(#bt)">
<text transform="translate(241.75 188.30) scale(0.9993 1)" font-size="25.00" font-weight="bold" fill="#fff">SM</text>
</g>
</g>
<g clip-path="url(#cFS)">
<rect x="72.5" y="211" width="160" height="223" fill="#8f8f8f"/>
<g filter="url(#b1)">
<path d="M70.81 341.09C71.62 343.54 73.73 348.80 75.64 355.77C77.55 362.74 80.22 373.79 82.27 382.91C84.33 392.03 86.27 401.89 87.99 410.48C89.71 419.08 89.87 430.87 92.61 434.49C95.34 438.11 103.20 436.61 104.39 432.22C105.58 427.84 101.43 416.83 99.77 408.17C98.10 399.51 96.34 389.65 94.39 380.29C92.44 370.92 90.48 359.18 88.08 351.98C85.68 344.78 82.85 338.90 79.97 337.08C77.10 335.27 72.34 340.42 70.81 341.09" fill="#242424"/>
<path d="M72.65 340.29C73.46 342.77 75.63 348.15 77.56 355.18C79.49 362.22 82.16 373.34 84.23 382.49C86.29 391.64 88.23 401.49 89.95 410.10C91.68 418.70 92.49 430.36 94.57 434.11C96.65 437.86 101.89 436.86 102.43 432.60C102.97 428.34 99.47 417.20 97.80 408.56C96.14 399.91 94.38 390.04 92.44 380.71C90.50 371.38 88.55 359.70 86.17 352.56C83.79 345.43 80.40 339.93 78.14 337.88C75.89 335.84 73.56 339.89 72.65 340.29" fill="#cbcbcb"/>
<circle cx="77.5" cy="343.4" r="1.3" fill="#b8b8b8"/>
<circle cx="91.2" cy="406.9" r="0.8" fill="#e6e6e6"/>
<circle cx="82.1" cy="352.1" r="1.4" fill="#acacac"/>
<circle cx="90.6" cy="390.3" r="1.8" fill="#acacac"/>
<circle cx="79.3" cy="343.8" r="1.5" fill="#acacac"/>
<circle cx="84.4" cy="357.9" r="1.2" fill="#b8b8b8"/>
<circle cx="85.5" cy="371.3" r="1.2" fill="#acacac"/>
<circle cx="93.0" cy="403.4" r="1.1" fill="#e6e6e6"/>
<circle cx="94.2" cy="405.7" r="0.8" fill="#a2a2a2"/>
<circle cx="93.9" cy="397.8" r="1.0" fill="#acacac"/>
<circle cx="98.6" cy="423.8" r="1.6" fill="#d8d8d8"/>
<circle cx="76.5" cy="343.8" r="1.0" fill="#e6e6e6"/>
<circle cx="94.5" cy="404.7" r="1.7" fill="#f0f0f0"/>
<circle cx="85.5" cy="361.5" r="1.6" fill="#b8b8b8"/>
<circle cx="93.5" cy="417.7" r="1.4" fill="#acacac"/>
<circle cx="88.1" cy="375.7" r="1.8" fill="#d8d8d8"/>
<circle cx="79.6" cy="349.1" r="1.0" fill="#d8d8d8"/>
<circle cx="80.3" cy="350.8" r="0.9" fill="#d8d8d8"/>
<circle cx="77.2" cy="342.5" r="1.7" fill="#f0f0f0"/>
<circle cx="91.4" cy="394.8" r="1.0" fill="#a2a2a2"/>
<circle cx="77.4" cy="341.8" r="1.2" fill="#f0f0f0"/>
<circle cx="90.6" cy="392.8" r="0.9" fill="#e6e6e6"/>
<circle cx="93.7" cy="418.3" r="1.4" fill="#e6e6e6"/>
<circle cx="81.4" cy="362.6" r="1.1" fill="#f0f0f0"/>
<circle cx="74.9" cy="340.5" r="1.7" fill="#f0f0f0"/>
<path d="M94.08 226.97C94.22 229.70 95.15 237.53 94.91 243.33C94.66 249.12 92.98 252.53 92.60 261.76C92.22 270.98 92.40 286.53 92.65 298.69C92.89 310.86 93.99 325.70 94.07 334.74C94.14 343.77 91.61 347.72 93.11 352.92C94.60 358.13 100.32 362.39 103.03 365.99C105.73 369.59 107.11 370.12 109.33 374.55C111.54 378.98 114.37 387.20 116.31 392.58C118.25 397.95 119.68 402.04 120.97 406.82C122.27 411.60 122.08 419.12 124.08 421.25C126.07 423.38 131.85 422.39 132.92 419.59C133.99 416.79 131.65 409.52 130.48 404.44C129.31 399.36 127.97 394.82 125.90 389.11C123.84 383.40 120.50 374.98 118.09 370.17C115.69 365.36 113.37 363.42 111.45 360.24C109.54 357.07 106.33 355.16 106.59 351.13C106.85 347.09 111.71 344.87 113.02 336.04C114.33 327.21 114.81 310.63 114.44 298.15C114.07 285.67 111.78 270.41 110.79 261.15C109.80 251.89 109.35 248.52 108.49 242.61C107.62 236.70 108.01 228.30 105.61 225.69C103.21 223.09 96.00 226.76 94.08 226.97" fill="#242424"/>
<path d="M96.87 226.72C97.01 229.47 97.95 237.38 97.70 243.21C97.46 249.03 95.78 252.44 95.40 261.68C95.02 270.92 95.20 286.43 95.45 298.64C95.69 310.84 96.79 325.90 96.86 334.89C96.93 343.89 94.46 347.65 95.89 352.62C97.31 357.59 102.76 361.21 105.43 364.69C108.09 368.18 109.63 369.00 111.89 373.52C114.14 378.04 117.00 386.34 118.97 391.79C120.94 397.25 122.39 401.42 123.70 406.26C125.01 411.10 125.59 418.53 126.84 420.82C128.08 423.12 130.84 422.65 131.16 420.01C131.48 417.38 129.90 410.02 128.75 405.00C127.59 399.98 126.27 395.53 124.24 389.89C122.20 384.26 118.90 375.92 116.54 371.20C114.17 366.47 112.01 364.83 110.05 361.54C108.10 358.24 104.61 355.71 104.81 351.43C105.00 347.16 109.92 344.76 111.23 335.89C112.53 327.01 113.01 310.65 112.64 298.21C112.27 285.76 109.98 270.47 108.99 261.23C108.00 251.98 107.55 248.61 106.69 242.73C105.83 236.85 105.46 228.62 103.83 225.95C102.19 223.28 98.03 226.59 96.87 226.72" fill="#cbcbcb"/>
<circle cx="117.6" cy="383.2" r="1.7" fill="#d8d8d8"/>
<circle cx="108.2" cy="364.0" r="1.4" fill="#f0f0f0"/>
<circle cx="98.6" cy="270.8" r="1.0" fill="#a2a2a2"/>
<circle cx="106.8" cy="363.9" r="1.4" fill="#b8b8b8"/>
<circle cx="118.9" cy="381.4" r="1.7" fill="#f0f0f0"/>
<circle cx="114.4" cy="371.6" r="0.9" fill="#d8d8d8"/>
<circle cx="125.6" cy="409.1" r="1.7" fill="#f0f0f0"/>
<circle cx="110.1" cy="364.8" r="1.2" fill="#a2a2a2"/>
<circle cx="108.5" cy="304.8" r="1.7" fill="#e6e6e6"/>
<circle cx="126.8" cy="404.2" r="0.8" fill="#f0f0f0"/>
<circle cx="113.5" cy="373.4" r="1.6" fill="#a2a2a2"/>
<circle cx="101.5" cy="345.2" r="1.5" fill="#acacac"/>
<circle cx="102.6" cy="356.1" r="1.2" fill="#acacac"/>
<circle cx="105.8" cy="277.8" r="1.7" fill="#e6e6e6"/>
<circle cx="118.5" cy="385.6" r="0.8" fill="#a2a2a2"/>
<circle cx="105.1" cy="260.2" r="1.7" fill="#a2a2a2"/>
<circle cx="122.7" cy="390.1" r="1.2" fill="#e6e6e6"/>
<circle cx="101.1" cy="251.3" r="1.6" fill="#acacac"/>
<circle cx="99.6" cy="254.6" r="1.0" fill="#e6e6e6"/>
<circle cx="104.0" cy="287.8" r="0.9" fill="#a2a2a2"/>
<circle cx="100.7" cy="342.3" r="0.8" fill="#f0f0f0"/>
<circle cx="100.3" cy="341.0" r="1.3" fill="#d8d8d8"/>
<circle cx="119.6" cy="389.1" r="1.8" fill="#e6e6e6"/>
<circle cx="107.2" cy="319.1" r="0.9" fill="#a2a2a2"/>
<circle cx="102.5" cy="356.8" r="1.0" fill="#a2a2a2"/>
<circle cx="101.6" cy="250.2" r="1.0" fill="#b8b8b8"/>
<circle cx="104.7" cy="337.8" r="1.2" fill="#f0f0f0"/>
<circle cx="103.9" cy="357.7" r="1.6" fill="#f0f0f0"/>
<circle cx="102.8" cy="338.5" r="1.7" fill="#a2a2a2"/>
<circle cx="99.5" cy="344.9" r="1.0" fill="#a2a2a2"/>
<circle cx="98.9" cy="268.7" r="0.9" fill="#f0f0f0"/>
<circle cx="118.8" cy="386.4" r="0.9" fill="#b8b8b8"/>
<circle cx="101.3" cy="320.0" r="0.9" fill="#b8b8b8"/>
<circle cx="124.2" cy="396.9" r="0.9" fill="#d8d8d8"/>
<circle cx="103.1" cy="355.2" r="1.7" fill="#e6e6e6"/>
<circle cx="102.3" cy="233.1" r="0.9" fill="#b8b8b8"/>
<circle cx="103.6" cy="339.5" r="1.8" fill="#e6e6e6"/>
<circle cx="104.2" cy="287.4" r="1.7" fill="#d8d8d8"/>
<circle cx="127.4" cy="404.6" r="0.9" fill="#d8d8d8"/>
<circle cx="107.3" cy="328.6" r="1.1" fill="#b8b8b8"/>
<circle cx="112.8" cy="368.4" r="1.1" fill="#e6e6e6"/>
<circle cx="116.0" cy="380.6" r="1.6" fill="#a2a2a2"/>
<circle cx="98.9" cy="230.4" r="1.4" fill="#a2a2a2"/>
<circle cx="102.5" cy="248.7" r="1.8" fill="#e6e6e6"/>
<circle cx="104.1" cy="260.1" r="1.1" fill="#f0f0f0"/>
<circle cx="126.8" cy="412.5" r="1.2" fill="#d8d8d8"/>
<circle cx="98.8" cy="256.2" r="0.9" fill="#acacac"/>
<circle cx="127.0" cy="413.0" r="0.9" fill="#acacac"/>
<circle cx="100.7" cy="281.5" r="1.0" fill="#b8b8b8"/>
<circle cx="127.2" cy="412.5" r="1.7" fill="#e6e6e6"/>
<circle cx="112.5" cy="369.5" r="1.4" fill="#e6e6e6"/>
<circle cx="112.6" cy="372.1" r="1.2" fill="#acacac"/>
<circle cx="106.0" cy="329.4" r="1.6" fill="#f0f0f0"/>
<circle cx="107.7" cy="361.1" r="0.9" fill="#f0f0f0"/>
<circle cx="108.4" cy="296.9" r="1.0" fill="#acacac"/>
<path d="M134.40 222.26C133.92 224.03 133.09 226.50 131.52 232.87C129.95 239.23 126.59 249.64 124.97 260.45C123.35 271.26 122.61 285.44 121.80 297.72C120.99 310.00 121.13 324.07 120.10 334.11C119.08 344.15 114.78 353.49 115.63 357.95C116.47 362.41 121.87 364.44 125.18 360.89C128.49 357.34 133.13 346.97 135.49 336.67C137.85 326.38 138.18 311.49 139.34 299.12C140.50 286.75 141.61 273.21 142.46 262.45C143.30 251.70 144.25 241.16 144.41 234.59C144.56 228.01 145.04 225.06 143.37 223.01C141.71 220.96 135.90 222.39 134.40 222.26" fill="#242424"/>
<path d="M137.60 222.43C137.12 224.21 136.28 226.76 134.70 233.13C133.13 239.51 129.78 249.89 128.16 260.68C126.54 271.47 125.81 285.59 124.99 297.88C124.18 310.17 124.32 324.33 123.28 334.44C122.23 344.55 118.54 354.23 118.74 358.54C118.94 362.85 121.81 364.00 124.47 360.30C127.14 356.60 132.37 346.57 134.72 336.34C137.07 326.12 137.39 311.32 138.55 298.96C139.71 286.61 140.82 273.00 141.67 262.22C142.52 251.45 143.47 240.88 143.63 234.32C143.78 227.76 143.58 224.83 142.58 222.84C141.58 220.86 138.43 222.50 137.60 222.43" fill="#cbcbcb"/>
<circle cx="139.9" cy="226.7" r="0.9" fill="#acacac"/>
<circle cx="133.8" cy="247.7" r="0.9" fill="#acacac"/>
<circle cx="132.3" cy="321.8" r="1.7" fill="#e6e6e6"/>
<circle cx="139.9" cy="232.2" r="1.7" fill="#f0f0f0"/>
<circle cx="135.4" cy="284.7" r="0.8" fill="#e6e6e6"/>
<circle cx="130.6" cy="266.0" r="1.0" fill="#e6e6e6"/>
<circle cx="133.3" cy="265.6" r="1.0" fill="#e6e6e6"/>
<circle cx="123.5" cy="358.4" r="1.7" fill="#e6e6e6"/>
<circle cx="133.4" cy="320.2" r="1.2" fill="#f0f0f0"/>
<circle cx="138.7" cy="258.3" r="1.4" fill="#d8d8d8"/>
<circle cx="137.8" cy="254.1" r="1.1" fill="#acacac"/>
<circle cx="122.6" cy="352.1" r="1.2" fill="#f0f0f0"/>
<circle cx="133.9" cy="278.5" r="1.4" fill="#acacac"/>
<circle cx="133.5" cy="262.6" r="1.0" fill="#f0f0f0"/>
<circle cx="128.4" cy="334.3" r="1.7" fill="#a2a2a2"/>
<circle cx="136.7" cy="242.7" r="1.1" fill="#a2a2a2"/>
<circle cx="130.8" cy="263.6" r="1.4" fill="#f0f0f0"/>
<circle cx="130.0" cy="277.7" r="1.2" fill="#acacac"/>
<circle cx="129.4" cy="288.6" r="1.0" fill="#b8b8b8"/>
<circle cx="138.5" cy="245.3" r="0.9" fill="#a2a2a2"/>
<circle cx="123.4" cy="350.1" r="1.6" fill="#e6e6e6"/>
<circle cx="132.0" cy="308.4" r="1.4" fill="#b8b8b8"/>
<circle cx="134.8" cy="245.2" r="1.2" fill="#f0f0f0"/>
<circle cx="127.5" cy="338.2" r="1.8" fill="#a2a2a2"/>
<circle cx="127.8" cy="329.8" r="1.4" fill="#e6e6e6"/>
<circle cx="130.8" cy="329.9" r="1.1" fill="#d8d8d8"/>
<circle cx="134.0" cy="274.5" r="1.4" fill="#b8b8b8"/>
<circle cx="136.9" cy="261.7" r="1.8" fill="#acacac"/>
<circle cx="131.2" cy="309.5" r="1.6" fill="#acacac"/>
<circle cx="124.7" cy="344.4" r="1.6" fill="#d8d8d8"/>
<path d="M154.61 242.64C154.21 245.72 152.85 254.98 152.16 261.12C151.47 267.27 151.50 270.31 150.48 279.51C149.46 288.71 147.30 306.52 146.04 316.35C144.78 326.18 144.10 329.25 142.90 338.49C141.70 347.73 140.02 362.83 138.85 371.77C137.68 380.72 136.70 385.04 135.90 392.16C135.11 399.28 133.23 410.65 134.08 414.50C134.94 418.34 139.39 418.80 141.04 415.25C142.70 411.70 142.98 400.27 144.03 393.22C145.09 386.17 146.07 381.87 147.37 372.95C148.67 364.02 150.56 348.93 151.82 339.68C153.09 330.43 153.77 327.35 154.97 317.46C156.17 307.58 158.21 289.65 159.03 280.37C159.86 271.08 159.58 267.96 159.93 261.78C160.29 255.61 162.07 246.49 161.18 243.30C160.29 240.11 155.71 242.75 154.61 242.64" fill="#242424"/>
<path d="M157.31 242.75C156.90 245.83 155.55 255.07 154.86 261.22C154.17 267.36 154.19 270.41 153.17 279.62C152.15 288.83 149.99 306.65 148.73 316.48C147.47 326.32 146.79 329.40 145.59 338.64C144.39 347.88 142.71 362.98 141.54 371.92C140.37 380.87 139.39 385.19 138.59 392.30C137.80 399.42 136.29 410.81 136.78 414.61C137.27 418.42 140.26 418.72 141.55 415.13C142.84 411.54 143.49 400.14 144.54 393.08C145.60 386.02 146.58 381.72 147.88 372.80C149.18 363.87 151.07 348.78 152.33 339.54C153.60 330.29 154.28 327.21 155.48 317.33C156.68 307.45 158.71 289.53 159.54 280.26C160.37 270.98 160.08 267.87 160.44 261.69C160.80 255.51 162.21 246.34 161.69 243.19C161.16 240.03 158.04 242.82 157.31 242.75" fill="#cbcbcb"/>
<circle cx="152.7" cy="315.8" r="1.0" fill="#d8d8d8"/>
<circle cx="157.9" cy="279.4" r="1.8" fill="#e6e6e6"/>
<circle cx="160.1" cy="247.7" r="1.1" fill="#f0f0f0"/>
<circle cx="141.2" cy="399.6" r="1.2" fill="#f0f0f0"/>
<circle cx="142.2" cy="386.3" r="1.2" fill="#f0f0f0"/>
<circle cx="145.3" cy="379.5" r="1.5" fill="#f0f0f0"/>
<circle cx="157.1" cy="263.3" r="1.2" fill="#f0f0f0"/>
<circle cx="147.0" cy="344.2" r="1.2" fill="#acacac"/>
<circle cx="151.3" cy="333.9" r="1.4" fill="#b8b8b8"/>
<circle cx="144.2" cy="363.9" r="1.2" fill="#d8d8d8"/>
<circle cx="158.0" cy="258.2" r="0.9" fill="#d8d8d8"/>
<circle cx="145.3" cy="379.3" r="1.3" fill="#acacac"/>
<circle cx="143.4" cy="375.5" r="1.3" fill="#f0f0f0"/>
<circle cx="155.6" cy="269.1" r="1.4" fill="#e6e6e6"/>
<circle cx="154.5" cy="301.0" r="1.5" fill="#b8b8b8"/>
<circle cx="150.0" cy="317.1" r="1.5" fill="#f0f0f0"/>
<circle cx="157.5" cy="259.9" r="0.9" fill="#e6e6e6"/>
<circle cx="143.4" cy="373.0" r="1.6" fill="#f0f0f0"/>
<circle cx="154.3" cy="312.1" r="1.3" fill="#a2a2a2"/>
<circle cx="148.5" cy="345.7" r="0.9" fill="#f0f0f0"/>
<circle cx="138.8" cy="404.0" r="0.9" fill="#f0f0f0"/>
<circle cx="150.0" cy="335.2" r="1.6" fill="#e6e6e6"/>
<circle cx="145.7" cy="372.6" r="1.1" fill="#b8b8b8"/>
<circle cx="156.0" cy="268.0" r="1.1" fill="#e6e6e6"/>
<circle cx="139.6" cy="412.7" r="1.1" fill="#acacac"/>
<circle cx="145.5" cy="351.9" r="1.7" fill="#f0f0f0"/>
<circle cx="139.1" cy="414.0" r="1.4" fill="#a2a2a2"/>
<circle cx="159.0" cy="262.3" r="1.7" fill="#d8d8d8"/>
<circle cx="158.9" cy="259.6" r="1.1" fill="#f0f0f0"/>
<circle cx="152.3" cy="315.4" r="1.7" fill="#a2a2a2"/>
<circle cx="144.3" cy="380.3" r="1.0" fill="#d8d8d8"/>
<circle cx="149.3" cy="336.3" r="1.6" fill="#a2a2a2"/>
<circle cx="158.8" cy="246.2" r="1.0" fill="#d8d8d8"/>
<circle cx="148.8" cy="329.4" r="1.3" fill="#acacac"/>
<circle cx="152.9" cy="294.8" r="0.9" fill="#d8d8d8"/>
<circle cx="146.7" cy="347.2" r="1.1" fill="#a2a2a2"/>
<circle cx="152.7" cy="317.7" r="1.1" fill="#a2a2a2"/>
<circle cx="155.2" cy="274.5" r="1.1" fill="#a2a2a2"/>
<circle cx="148.4" cy="353.8" r="1.6" fill="#a2a2a2"/>
<circle cx="155.7" cy="293.0" r="1.2" fill="#f0f0f0"/>
<path d="M173.79 265.08C172.76 267.21 169.77 272.47 167.65 277.83C165.52 283.19 162.56 287.79 161.03 297.23C159.49 306.66 159.48 322.74 158.42 334.45C157.37 346.15 155.79 358.22 154.70 367.44C153.61 376.67 150.66 385.71 151.88 389.78C153.11 393.86 159.30 395.22 162.06 391.90C164.83 388.59 166.31 379.14 168.49 369.88C170.66 360.62 173.52 348.05 175.12 336.33C176.71 324.62 177.01 308.66 178.06 299.61C179.11 290.57 180.34 287.16 181.42 282.04C182.50 276.93 185.79 271.74 184.52 268.92C183.25 266.09 175.58 265.72 173.79 265.08" fill="#242424"/>
<path d="M177.46 265.82C176.44 267.93 173.46 273.19 171.35 278.47C169.24 283.76 166.33 288.16 164.80 297.53C163.28 306.90 163.27 322.98 162.21 334.69C161.15 346.41 159.56 358.57 158.47 367.83C157.37 377.08 155.13 386.29 155.64 390.23C156.14 394.17 159.46 394.91 161.51 391.45C163.56 388.00 165.75 378.72 167.92 369.50C170.09 360.27 172.94 347.79 174.53 336.09C176.12 324.39 176.42 308.42 177.48 299.31C178.54 290.19 179.82 286.59 180.91 281.40C182.01 276.21 184.63 270.77 184.05 268.18C183.47 265.58 178.56 266.21 177.46 265.82" fill="#cbcbcb"/>
<circle cx="174.5" cy="285.4" r="1.0" fill="#acacac"/>
<circle cx="175.2" cy="297.4" r="1.4" fill="#acacac"/>
<circle cx="158.7" cy="390.6" r="1.2" fill="#f0f0f0"/>
<circle cx="177.1" cy="282.3" r="1.5" fill="#e6e6e6"/>
<circle cx="160.2" cy="387.6" r="1.6" fill="#e6e6e6"/>
<circle cx="159.9" cy="371.9" r="1.5" fill="#b8b8b8"/>
<circle cx="170.3" cy="294.3" r="1.0" fill="#e6e6e6"/>
<circle cx="177.4" cy="274.3" r="1.3" fill="#d8d8d8"/>
<circle cx="174.7" cy="281.2" r="1.0" fill="#a2a2a2"/>
<circle cx="166.2" cy="344.8" r="1.7" fill="#b8b8b8"/>
<circle cx="169.0" cy="297.3" r="1.2" fill="#b8b8b8"/>
<circle cx="165.1" cy="331.6" r="1.5" fill="#acacac"/>
<circle cx="170.4" cy="298.4" r="1.7" fill="#e6e6e6"/>
<circle cx="173.2" cy="285.3" r="1.4" fill="#a2a2a2"/>
<circle cx="179.4" cy="272.2" r="1.2" fill="#d8d8d8"/>
<circle cx="171.2" cy="287.0" r="1.1" fill="#b8b8b8"/>
<circle cx="171.4" cy="290.4" r="1.3" fill="#f0f0f0"/>
<circle cx="169.8" cy="332.6" r="1.4" fill="#e6e6e6"/>
<circle cx="178.5" cy="277.8" r="1.1" fill="#e6e6e6"/>
<circle cx="158.4" cy="382.1" r="1.0" fill="#e6e6e6"/>
<circle cx="175.5" cy="277.2" r="1.7" fill="#b8b8b8"/>
<circle cx="180.0" cy="272.4" r="1.8" fill="#f0f0f0"/>
<circle cx="172.1" cy="285.1" r="1.7" fill="#acacac"/>
<circle cx="164.7" cy="366.3" r="1.5" fill="#b8b8b8"/>
<circle cx="166.9" cy="352.3" r="1.0" fill="#b8b8b8"/>
<circle cx="160.4" cy="387.4" r="1.3" fill="#a2a2a2"/>
<circle cx="178.3" cy="279.3" r="1.4" fill="#a2a2a2"/>
<circle cx="164.0" cy="372.3" r="1.0" fill="#d8d8d8"/>
<circle cx="168.8" cy="297.7" r="1.1" fill="#e6e6e6"/>
<circle cx="170.4" cy="291.7" r="1.5" fill="#acacac"/>
<path d="M226.76 304.34C225.17 306.14 220.51 311.69 217.25 315.12C214.00 318.56 211.84 319.99 207.24 324.97C202.64 329.95 195.13 337.75 189.65 345.02C184.17 352.28 178.05 361.36 174.35 368.56C170.66 375.76 168.94 382.87 167.48 388.21C166.02 393.54 164.44 397.91 165.57 400.57C166.70 403.24 171.58 405.22 174.25 404.19C176.92 403.16 178.74 398.90 181.59 394.38C184.44 389.86 187.96 384.03 191.35 377.06C194.74 370.08 198.17 360.37 201.93 352.54C205.69 344.71 210.50 335.56 213.91 330.07C217.32 324.58 219.48 323.23 222.39 319.59C225.29 315.94 230.64 310.72 231.37 308.18C232.10 305.64 227.53 304.98 226.76 304.34" fill="#242424"/>
<path d="M229.28 306.51C227.69 308.31 223.01 313.88 219.76 317.31C216.51 320.74 214.38 322.14 209.79 327.10C205.21 332.05 197.73 339.81 192.27 347.04C186.81 354.28 180.71 363.32 177.03 370.50C173.34 377.67 171.64 384.76 170.18 390.09C168.72 395.41 167.52 399.93 168.28 402.44C169.04 404.94 172.44 406.32 174.74 405.13C177.04 403.94 179.23 399.83 182.09 395.30C184.94 390.76 188.47 384.92 191.87 377.92C195.28 370.92 198.73 361.17 202.51 353.31C206.29 345.45 211.13 336.26 214.56 330.74C217.99 325.22 220.17 323.85 223.08 320.20C225.99 316.54 231.01 311.10 232.04 308.82C233.08 306.53 229.74 306.90 229.28 306.51" fill="#cbcbcb"/>
<circle cx="175.1" cy="398.0" r="0.8" fill="#b8b8b8"/>
<circle cx="196.7" cy="353.4" r="1.5" fill="#a2a2a2"/>
<circle cx="175.9" cy="394.3" r="1.1" fill="#e6e6e6"/>
<circle cx="184.9" cy="382.1" r="1.5" fill="#a2a2a2"/>
<circle cx="179.0" cy="392.3" r="1.2" fill="#a2a2a2"/>
<circle cx="223.1" cy="315.3" r="1.3" fill="#e6e6e6"/>
<circle cx="221.9" cy="317.6" r="0.9" fill="#d8d8d8"/>
<circle cx="181.6" cy="373.3" r="1.2" fill="#f0f0f0"/>
<circle cx="208.2" cy="335.1" r="0.8" fill="#acacac"/>
<circle cx="197.9" cy="352.2" r="1.8" fill="#f0f0f0"/>
<circle cx="210.5" cy="331.2" r="1.2" fill="#a2a2a2"/>
<circle cx="180.5" cy="380.2" r="0.9" fill="#d8d8d8"/>
<circle cx="174.6" cy="399.5" r="1.5" fill="#b8b8b8"/>
<circle cx="221.4" cy="319.5" r="0.8" fill="#acacac"/>
<circle cx="217.8" cy="321.8" r="1.4" fill="#b8b8b8"/>
<circle cx="221.1" cy="319.8" r="1.1" fill="#f0f0f0"/>
<circle cx="207.3" cy="337.0" r="1.2" fill="#a2a2a2"/>
<circle cx="211.9" cy="331.8" r="1.6" fill="#d8d8d8"/>
<circle cx="219.8" cy="319.3" r="1.6" fill="#b8b8b8"/>
<circle cx="190.0" cy="371.9" r="1.3" fill="#acacac"/>
<circle cx="174.0" cy="394.4" r="1.4" fill="#e6e6e6"/>
<circle cx="214.0" cy="325.7" r="1.2" fill="#acacac"/>
<circle cx="222.5" cy="318.5" r="1.3" fill="#a2a2a2"/>
<circle cx="171.4" cy="396.8" r="1.4" fill="#f0f0f0"/>
<circle cx="192.3" cy="353.6" r="0.9" fill="#b8b8b8"/>
<circle cx="181.6" cy="371.6" r="0.8" fill="#a2a2a2"/>
<circle cx="173.9" cy="394.5" r="1.2" fill="#f0f0f0"/>
<circle cx="172.5" cy="396.6" r="0.9" fill="#d8d8d8"/>
<circle cx="184.8" cy="382.7" r="1.7" fill="#a2a2a2"/>
<circle cx="186.1" cy="373.3" r="1.6" fill="#e6e6e6"/>
<circle cx="173.6" cy="400.2" r="1.1" fill="#f0f0f0"/>
<circle cx="184.9" cy="373.1" r="1.4" fill="#d8d8d8"/>
<circle cx="205.1" cy="340.2" r="1.6" fill="#a2a2a2"/>
<circle cx="173.7" cy="400.9" r="0.9" fill="#f0f0f0"/>
<circle cx="206.5" cy="340.7" r="1.2" fill="#a2a2a2"/>
<path d="M88.33 224.48C89.57 223.87 92.34 220.79 95.73 220.79C99.12 220.79 105.43 222.33 108.67 224.48C111.90 226.64 114.52 230.03 115.13 233.73C115.75 237.42 112.82 244.51 112.36 246.67" fill="none" stroke="#b8b8b8" stroke-width="1.6"/>
<path d="M89.81 226.70C90.95 226.09 93.75 223.07 96.65 223.01C99.55 222.94 104.51 224.36 107.19 226.33C109.87 228.30 111.81 233.42 112.73 234.84" fill="none" stroke="#5c5c5c" stroke-width="1.0"/>
<path d="M126.23 218.01C127.15 218.94 129.92 221.87 131.77 223.56C133.62 225.25 135.47 228.64 137.32 228.18C139.16 227.72 141.94 222.02 142.86 220.79" fill="none" stroke="#c6c6c6" stroke-width="1.8"/>
<path d="M142.86 245.74C143.94 246.05 148.56 245.90 149.33 247.59C150.10 249.28 148.71 254.21 147.48 255.91C146.25 257.60 142.86 257.45 141.94 257.76" fill="none" stroke="#bdbdbd" stroke-width="1.6"/>
<path d="M154.88 240.20C155.80 240.04 158.88 237.89 160.42 239.27C161.96 240.66 163.50 246.97 164.12 248.51" fill="none" stroke="#bcbcbc" stroke-width="1.6"/>
<path d="M178.91 261.45C180.14 261.14 184.45 258.68 186.30 259.60C188.15 260.53 190.00 264.23 190.00 267.00C190.00 269.77 186.92 274.70 186.30 276.24" fill="none" stroke="#b6b6b6" stroke-width="1.8"/>
<circle cx="185.4" cy="273.5" r="2.4" fill="#f0f0f0"/>
<path d="M151.18 278.09C152.10 277.47 154.88 274.39 156.72 274.39C158.57 274.39 161.35 277.47 162.27 278.09" fill="none" stroke="#b2b2b2" stroke-width="1.6"/>
<path d="M225.49 237.42C225.42 240.20 224.81 248.82 225.12 254.06C225.42 259.30 226.96 266.38 227.33 268.85" fill="none" stroke="#333" stroke-width="2.6"/>
<path d="M215.87 233.73C216.80 234.03 219.26 234.80 221.42 235.57C223.58 236.35 227.33 235.27 228.81 238.35C230.29 241.43 230.29 248.67 230.29 254.06C230.29 259.45 230.29 267.31 228.81 270.70C227.33 274.08 222.65 273.78 221.42 274.39" fill="none" stroke="#c8c8c8" stroke-width="2.2"/>
<path d="M72.62 272.54C73.39 273.78 75.86 277.78 77.24 279.94C78.63 282.09 80.32 284.56 80.94 285.48" fill="none" stroke="#2a2a2a" stroke-width="2.4"/>
<path d="M73.55 283.63C74.78 284.25 78.47 285.48 80.94 287.33C83.40 289.18 87.10 293.49 88.33 294.72" fill="none" stroke="#b8b8b8" stroke-width="2.2"/>
<path d="M73.55 326.15C74.16 327.69 76.93 332.00 77.24 335.39C77.55 338.78 75.70 344.63 75.39 346.48" fill="none" stroke="#b8b8b8" stroke-width="2"/>
<path d="M72.62 222.64C73.70 222.33 77.24 221.87 79.09 220.79C80.94 219.71 82.94 216.94 83.71 216.17" fill="none" stroke="#c4c4c4" stroke-width="1.8"/>
<path d="M205.71 305.82C206.63 307.36 209.56 314.44 211.25 315.06C212.95 315.67 213.87 309.82 215.87 309.51C217.88 309.20 222.04 312.59 223.27 313.21" fill="none" stroke="#b8b8b8" stroke-width="1.8"/>
<path d="M215.87 333.54C217.11 333.23 221.73 331.39 223.27 331.69C224.81 332.00 224.81 334.77 225.12 335.39" fill="none" stroke="#b4b4b4" stroke-width="1.4"/>
<path d="M204.78 352.03C205.71 351.72 209.71 348.95 210.33 350.18C210.95 351.41 208.79 357.88 208.48 359.42" fill="none" stroke="#b0b0b0" stroke-width="1.4"/>
<path d="M231.59 383.45C230.82 385.91 228.97 393.92 226.96 398.24C224.96 402.55 221.42 406.55 219.57 409.33C217.72 412.10 216.49 413.95 215.87 414.87" fill="none" stroke="#b6b6b6" stroke-width="1.6"/>
<path d="M147.48 405.63C148.71 406.55 152.10 410.87 154.88 411.18C157.65 411.48 161.35 406.86 164.12 407.48C166.89 408.09 170.90 412.10 171.51 414.87C172.13 417.65 169.66 423.19 167.82 424.11C165.97 425.04 161.65 421.03 160.42 420.42" fill="none" stroke="#bcbcbc" stroke-width="1.8"/>
<path d="M149.33 401.93C150.56 402.86 153.95 407.17 156.72 407.48C159.50 407.79 164.43 404.40 165.97 403.78" fill="none" stroke="#4a4a4a" stroke-width="1.2"/>
<path d="M103.12 372.36C103.89 374.21 105.89 382.52 107.74 383.45C109.59 384.37 113.13 378.83 114.21 377.90" fill="none" stroke="#b2b2b2" stroke-width="1.5"/>
<path d="M177.06 398.24C178.60 398.85 185.07 399.78 186.30 401.93C187.53 404.09 184.76 409.64 184.45 411.18" fill="none" stroke="#b4b4b4" stroke-width="1.5"/>
<path d="M160.42 320.60C159.96 324.92 158.63 338.78 157.65 346.48C156.66 354.18 155.43 360.65 154.51 366.81C153.58 372.97 152.50 380.68 152.10 383.45" fill="none" stroke="#262626" stroke-width="3.6"/>
<path d="M147.48 390.84C147.79 392.69 149.02 400.09 149.33 401.93" fill="none" stroke="#2a2a2a" stroke-width="2.2"/>
<ellipse cx="154.5" cy="374.6" rx="5.5" ry="3.6" fill="#f6f6f6"/>
<circle cx="153.4" cy="368.3" r="2.6" fill="#1e1e1e"/>
<path d="M167.82 377.90C169.66 376.36 174.28 373.28 178.91 368.66C183.53 364.04 190.30 357.26 195.54 350.18C200.78 343.09 207.86 330.15 210.33 326.15" fill="none" stroke="#2a2a2a" stroke-width="2.6"/>
<ellipse cx="200.2" cy="421.3" rx="7" ry="2.6" fill="#222"/>
<ellipse cx="200.2" cy="430.0" rx="13" ry="4" fill="#f0f0f0"/>
<circle cx="203.9" cy="425.0" r="3" fill="#f8f8f8"/>
<circle cx="127.1" cy="409.3" r="2.2" fill="#f4f4f4"/>
<circle cx="137.9" cy="413.9" r="2.0" fill="#f0f0f0"/>
<circle cx="130.8" cy="270.7" r="2.2" fill="#ececec"/>
</g>
<rect x="72.5" y="211" width="160" height="223" filter="url(#nz)" opacity="0.3"/>
<g filter="url(#bt)">
<text transform="translate(77.42 421.30) scale(0.9983 1)" font-size="25.00" font-weight="bold" fill="#fff">FS</text>
</g>
</g>
<g clip-path="url(#cUC)">
<rect x="241.5" y="211" width="156" height="223" fill="#7d7d7d"/>
<g filter="url(#b1)">
<path d="M241.55 211.55C253.56 211.55 304.39 208.46 313.63 211.55C322.88 214.63 302.24 223.87 297.00 230.03C291.76 236.19 288.68 242.35 282.21 248.51C275.74 254.68 264.96 262.38 258.18 267.00C251.40 271.62 244.32 285.48 241.55 276.24C238.77 267.00 241.55 222.33 241.55 211.55" fill="#868686" stroke="none"/>
<circle cx="276.0" cy="233.5" r="1.0" fill="#a8a8a8"/>
<circle cx="287.3" cy="223.8" r="2.0" fill="#b4b4b4"/>
<circle cx="253.0" cy="248.7" r="1.8" fill="#a8a8a8"/>
<circle cx="275.3" cy="224.1" r="1.6" fill="#b4b4b4"/>
<circle cx="249.7" cy="239.4" r="1.6" fill="#b4b4b4"/>
<circle cx="273.0" cy="237.1" r="1.8" fill="#606060"/>
<circle cx="249.9" cy="254.6" r="1.0" fill="#a8a8a8"/>
<circle cx="244.4" cy="213.9" r="1.8" fill="#a8a8a8"/>
<circle cx="269.6" cy="218.2" r="1.1" fill="#b4b4b4"/>
<circle cx="294.7" cy="220.9" r="1.9" fill="#555"/>
<circle cx="242.3" cy="225.7" r="1.2" fill="#606060"/>
<circle cx="285.6" cy="214.0" r="1.7" fill="#b4b4b4"/>
<circle cx="263.2" cy="229.7" r="1.7" fill="#b4b4b4"/>
<circle cx="257.1" cy="222.3" r="1.5" fill="#606060"/>
<circle cx="271.3" cy="215.6" r="1.2" fill="#a8a8a8"/>
<circle cx="275.4" cy="227.6" r="1.8" fill="#c8c8c8"/>
<circle cx="288.0" cy="226.4" r="1.5" fill="#b4b4b4"/>
<circle cx="262.4" cy="219.9" r="1.6" fill="#b4b4b4"/>
<circle cx="290.4" cy="213.5" r="1.1" fill="#606060"/>
<circle cx="265.5" cy="237.9" r="1.1" fill="#c8c8c8"/>
<circle cx="278.8" cy="215.8" r="1.3" fill="#a8a8a8"/>
<circle cx="260.5" cy="218.8" r="1.7" fill="#a8a8a8"/>
<circle cx="251.9" cy="231.6" r="1.5" fill="#606060"/>
<circle cx="260.7" cy="230.2" r="1.5" fill="#a8a8a8"/>
<circle cx="242.8" cy="237.0" r="2.2" fill="#b4b4b4"/>
<circle cx="250.3" cy="232.9" r="1.0" fill="#555"/>
<circle cx="263.3" cy="243.3" r="1.7" fill="#a8a8a8"/>
<circle cx="302.1" cy="213.4" r="1.6" fill="#b4b4b4"/>
<circle cx="263.7" cy="227.2" r="1.9" fill="#a8a8a8"/>
<circle cx="283.1" cy="228.4" r="1.9" fill="#555"/>
<circle cx="262.9" cy="242.1" r="1.4" fill="#b4b4b4"/>
<path d="M258.18 267.00C260.65 264.84 268.66 258.37 272.97 254.06C277.28 249.75 280.05 245.43 284.06 241.12C288.06 236.81 292.69 232.19 297.00 228.18C301.31 224.18 307.78 218.94 309.94 217.09" fill="none" stroke="#4e4e4e" stroke-width="1.8" stroke-linecap="round"/>
<path d="M263.73 268.85C265.27 268.23 270.35 265.92 272.97 265.15C275.59 264.38 278.36 264.38 279.44 264.23" fill="none" stroke="#b0b0b0" stroke-width="1.8" stroke-linecap="round"/>
<path d="M243.39 279.94C244.93 279.01 249.86 276.09 252.64 274.39C255.41 272.70 258.80 270.54 260.03 269.77" fill="none" stroke="#9a9a9a" stroke-width="2.5" stroke-linecap="round"/>
<circle cx="315.5" cy="218.9" r="2.2" fill="none" stroke="#a8a8a8" stroke-width="1.2"/>
<circle cx="322.9" cy="231.9" r="2.2" fill="none" stroke="#a8a8a8" stroke-width="1.2"/>
<circle cx="332.1" cy="246.7" r="2.2" fill="none" stroke="#a8a8a8" stroke-width="1.2"/>
<circle cx="339.5" cy="243.0" r="2.2" fill="none" stroke="#a8a8a8" stroke-width="1.2"/>
<circle cx="300.7" cy="215.2" r="2.2" fill="none" stroke="#a8a8a8" stroke-width="1.2"/>
<circle cx="354.3" cy="222.6" r="2.2" fill="none" stroke="#a8a8a8" stroke-width="1.2"/>
<circle cx="365.4" cy="218.9" r="2.2" fill="none" stroke="#a8a8a8" stroke-width="1.2"/>
<circle cx="376.5" cy="233.7" r="2.2" fill="none" stroke="#a8a8a8" stroke-width="1.2"/>
<circle cx="387.6" cy="239.3" r="2.2" fill="none" stroke="#a8a8a8" stroke-width="1.2"/>
<path d="M382.03 217.09C379.87 220.48 373.71 230.65 369.09 237.42C364.47 244.20 358.30 250.05 354.30 257.76C350.29 265.46 347.52 275.01 345.06 283.63C342.59 292.26 339.82 300.89 339.51 309.51C339.20 318.14 341.05 327.38 343.21 335.39C345.37 343.40 349.37 351.41 352.45 357.57C355.53 363.73 360.15 369.89 361.69 372.36" fill="none" stroke="#a2a2a2" stroke-width="18.0" stroke-linecap="round"/>
<path d="M346.91 289.18C348.75 292.57 353.07 304.89 358.00 309.51C362.93 314.13 370.32 316.91 376.48 316.91C382.64 316.91 391.88 310.74 394.96 309.51" fill="none" stroke="#909090" stroke-width="12.0" stroke-linecap="round"/>
<path d="M354.30 339.09C357.38 340.32 366.01 345.86 372.78 346.48C379.56 347.10 391.27 343.40 394.96 342.78" fill="none" stroke="#8c8c8c" stroke-width="14.0" stroke-linecap="round"/>
<circle cx="383.0" cy="370.1" r="1.0" fill="#a4a4a4"/>
<circle cx="332.6" cy="355.2" r="1.3" fill="#bcbcbc"/>
<circle cx="357.0" cy="343.6" r="1.9" fill="#747474"/>
<circle cx="336.3" cy="287.9" r="1.2" fill="#747474"/>
<circle cx="366.8" cy="363.1" r="1.2" fill="#a4a4a4"/>
<circle cx="368.8" cy="261.7" r="1.0" fill="#747474"/>
<circle cx="354.3" cy="307.6" r="2.0" fill="#bcbcbc"/>
<circle cx="377.4" cy="361.3" r="1.8" fill="#686868"/>
<circle cx="388.6" cy="284.8" r="1.1" fill="#b2b2b2"/>
<circle cx="379.8" cy="326.3" r="1.1" fill="#b2b2b2"/>
<circle cx="345.8" cy="299.5" r="1.0" fill="#747474"/>
<circle cx="349.9" cy="311.6" r="0.9" fill="#a4a4a4"/>
<circle cx="378.2" cy="366.1" r="1.5" fill="#b2b2b2"/>
<circle cx="336.7" cy="348.8" r="1.5" fill="#a4a4a4"/>
<circle cx="332.4" cy="284.2" r="1.6" fill="#b2b2b2"/>
<circle cx="372.3" cy="361.4" r="1.1" fill="#686868"/>
<circle cx="386.7" cy="255.4" r="1.4" fill="#747474"/>
<circle cx="374.8" cy="292.2" r="0.9" fill="#bcbcbc"/>
<circle cx="382.2" cy="262.5" r="1.5" fill="#bcbcbc"/>
<circle cx="394.2" cy="299.5" r="1.9" fill="#b2b2b2"/>
<circle cx="333.7" cy="289.7" r="1.6" fill="#686868"/>
<circle cx="335.6" cy="324.8" r="1.7" fill="#686868"/>
<circle cx="342.0" cy="254.4" r="1.1" fill="#747474"/>
<circle cx="380.3" cy="262.8" r="1.8" fill="#bcbcbc"/>
<circle cx="353.7" cy="332.7" r="1.8" fill="#a4a4a4"/>
<circle cx="373.4" cy="323.4" r="1.2" fill="#747474"/>
<circle cx="348.3" cy="336.4" r="1.7" fill="#686868"/>
<circle cx="373.1" cy="317.2" r="1.6" fill="#747474"/>
<circle cx="349.6" cy="314.1" r="1.9" fill="#a4a4a4"/>
<circle cx="348.0" cy="318.2" r="0.9" fill="#686868"/>
<circle cx="341.6" cy="326.6" r="1.3" fill="#b2b2b2"/>
<circle cx="391.0" cy="326.1" r="0.9" fill="#747474"/>
<circle cx="363.7" cy="317.9" r="1.0" fill="#747474"/>
<circle cx="355.1" cy="269.9" r="1.0" fill="#a4a4a4"/>
<circle cx="365.3" cy="293.7" r="1.7" fill="#bcbcbc"/>
<circle cx="393.9" cy="311.2" r="1.6" fill="#686868"/>
<circle cx="388.7" cy="298.2" r="1.1" fill="#b2b2b2"/>
<circle cx="338.9" cy="339.0" r="0.9" fill="#bcbcbc"/>
<circle cx="374.5" cy="293.7" r="1.1" fill="#bcbcbc"/>
<circle cx="357.9" cy="360.9" r="1.9" fill="#a4a4a4"/>
<circle cx="334.0" cy="254.7" r="1.7" fill="#a4a4a4"/>
<circle cx="346.7" cy="276.2" r="1.7" fill="#686868"/>
<circle cx="350.9" cy="369.8" r="1.1" fill="#747474"/>
<circle cx="381.8" cy="308.7" r="1.9" fill="#686868"/>
<circle cx="392.1" cy="268.4" r="1.2" fill="#b2b2b2"/>
<circle cx="353.0" cy="309.7" r="1.9" fill="#a4a4a4"/>
<circle cx="352.2" cy="324.4" r="1.9" fill="#a4a4a4"/>
<circle cx="368.5" cy="356.7" r="1.1" fill="#686868"/>
<circle cx="335.0" cy="343.8" r="1.3" fill="#bcbcbc"/>
<circle cx="386.4" cy="369.9" r="1.2" fill="#b2b2b2"/>
<circle cx="382.7" cy="270.2" r="1.9" fill="#a4a4a4"/>
<circle cx="389.4" cy="270.1" r="1.7" fill="#b2b2b2"/>
<circle cx="379.3" cy="307.2" r="1.3" fill="#bcbcbc"/>
<circle cx="353.5" cy="360.9" r="1.7" fill="#686868"/>
<circle cx="393.7" cy="256.1" r="1.1" fill="#b2b2b2"/>
<circle cx="334.5" cy="311.9" r="1.1" fill="#bcbcbc"/>
<circle cx="376.0" cy="338.4" r="0.9" fill="#686868"/>
<circle cx="336.2" cy="265.3" r="1.9" fill="#a4a4a4"/>
<circle cx="365.1" cy="252.5" r="1.1" fill="#747474"/>
<circle cx="341.4" cy="339.5" r="1.4" fill="#b2b2b2"/>
<circle cx="365.4" cy="351.5" r="1.9" fill="#b2b2b2"/>
<circle cx="354.1" cy="277.7" r="2.0" fill="#a4a4a4"/>
<circle cx="378.1" cy="284.5" r="1.0" fill="#686868"/>
<circle cx="349.0" cy="366.5" r="1.0" fill="#b2b2b2"/>
<circle cx="357.8" cy="318.1" r="1.2" fill="#b2b2b2"/>
<circle cx="352.6" cy="257.1" r="1.3" fill="#686868"/>
<circle cx="366.6" cy="333.9" r="2.0" fill="#686868"/>
<circle cx="357.2" cy="289.9" r="1.3" fill="#a4a4a4"/>
<circle cx="356.4" cy="297.8" r="1.3" fill="#a4a4a4"/>
<circle cx="388.6" cy="327.3" r="1.1" fill="#747474"/>
<circle cx="390.3" cy="282.3" r="1.5" fill="#bcbcbc"/>
<circle cx="394.4" cy="349.9" r="1.6" fill="#b2b2b2"/>
<circle cx="385.1" cy="345.0" r="1.9" fill="#b2b2b2"/>
<circle cx="357.6" cy="318.3" r="1.6" fill="#bcbcbc"/>
<circle cx="366.6" cy="289.5" r="2.0" fill="#b2b2b2"/>
<circle cx="361.9" cy="328.8" r="1.4" fill="#686868"/>
<circle cx="369.3" cy="369.9" r="1.1" fill="#bcbcbc"/>
<circle cx="354.4" cy="259.8" r="2.0" fill="#686868"/>
<circle cx="370.6" cy="332.3" r="1.2" fill="#747474"/>
<circle cx="373.9" cy="361.5" r="1.7" fill="#686868"/>
<path d="M365.39 248.51C364.16 250.67 359.07 256.83 358.00 261.45C356.92 266.07 357.07 272.24 358.92 276.24C360.77 280.25 364.93 283.33 369.09 285.48C373.25 287.64 379.41 288.87 383.87 289.18C388.34 289.49 393.89 287.64 395.89 287.33" fill="none" stroke="#303030" stroke-width="2.6" stroke-linecap="round"/>
<path d="M369.09 283.63C371.55 284.87 379.31 289.49 383.87 291.03C388.43 292.57 394.35 292.57 396.44 292.88" fill="none" stroke="#b4b4b4" stroke-width="2.0" stroke-linecap="round"/>
<path d="M365.39 303.97C364.22 304.89 359.75 306.74 358.37 309.51C356.98 312.28 356.21 317.37 357.07 320.60C357.93 323.84 362.46 327.53 363.54 328.92" fill="none" stroke="#2e2e2e" stroke-width="2.8" stroke-linecap="round"/>
<path d="M363.54 267.00C365.08 266.07 369.39 261.45 372.78 261.45C376.17 261.45 379.93 264.53 383.87 267.00C387.82 269.46 394.35 274.70 396.44 276.24" fill="none" stroke="#a8a8a8" stroke-width="3.0" stroke-linecap="round"/>
<circle cx="370.9" cy="278.1" r="3.2" fill="#c8c8c8"/>
<path d="M339.51 333.54C338.28 334.77 334.27 338.78 332.12 340.94C329.96 343.09 327.50 345.56 326.57 346.48" fill="none" stroke="#3a3a3a" stroke-width="2.0" stroke-linecap="round"/>
<path d="M322.88 318.75C324.42 319.99 329.35 323.68 332.12 326.15C334.89 328.61 337.66 331.08 339.51 333.54C341.36 336.01 342.59 339.70 343.21 340.94" fill="none" stroke="#5a5a5a" stroke-width="1.6" stroke-linecap="round"/>
<circle cx="356.1" cy="335.8" r="3.0" fill="#f4f4f4"/>
<path d="M358.00 333.54C358.92 332.77 362.62 329.69 363.54 328.92" fill="none" stroke="#e0e0e0" stroke-width="1.8" stroke-linecap="round"/>
<path d="M391.27 211.55C391.11 213.39 389.57 218.63 390.34 222.64C391.11 226.64 394.96 233.42 395.89 235.57" fill="none" stroke="#2c2c2c" stroke-width="3.0" stroke-linecap="round"/>
<path d="M396.44 357.57C394.04 359.42 386.59 365.27 382.03 368.66C377.47 372.05 371.24 376.36 369.09 377.90" fill="none" stroke="#a0a0a0" stroke-width="4.0" stroke-linecap="round"/>
<path d="M396.44 377.90C394.35 379.14 386.89 381.91 383.87 385.30C380.86 388.69 378.33 394.54 378.33 398.24C378.33 401.93 380.86 406.25 383.87 407.48C386.89 408.71 394.35 405.94 396.44 405.63" fill="none" stroke="#4a4a4a" stroke-width="2.2" stroke-linecap="round"/>
<path d="M267.42 290.10C269.27 291.18 274.51 295.03 278.51 296.57C282.52 298.11 287.76 299.96 291.45 299.35C295.15 298.73 298.08 296.11 300.70 292.88C303.31 289.64 306.09 282.09 307.16 279.94" fill="none" stroke="#262626" stroke-width="3.2" stroke-linecap="round"/>
<path d="M318.26 285.48C317.48 288.26 315.64 296.26 313.63 302.12C311.63 307.97 308.09 314.44 306.24 320.60C304.39 326.76 302.70 333.54 302.54 339.09C302.39 344.63 303.78 349.56 305.32 353.87C306.86 358.19 310.71 363.12 311.79 364.96" fill="none" stroke="#262626" stroke-width="3.0" stroke-linecap="round"/>
<path d="M291.45 309.51C291.45 311.98 292.07 319.06 291.45 324.30C290.84 329.54 289.60 336.31 287.76 340.94C285.91 345.56 283.75 348.79 280.36 352.03C276.97 355.26 269.58 358.96 267.42 360.34" fill="none" stroke="#2a2a2a" stroke-width="3.0" stroke-linecap="round"/>
<path d="M345.06 252.21C343.52 254.68 339.51 261.76 335.82 267.00C332.12 272.24 325.03 280.86 322.88 283.63" fill="none" stroke="#303030" stroke-width="2.4" stroke-linecap="round"/>
<path d="M309.26 261.43C309.13 263.89 309.11 272.32 308.48 276.16C307.84 279.99 307.21 280.50 305.45 284.46C303.69 288.42 299.76 294.73 297.91 299.90C296.06 305.07 295.47 309.75 294.35 315.49C293.23 321.23 292.42 328.49 291.18 334.36C289.95 340.23 287.81 346.56 286.94 350.70C286.06 354.83 284.76 357.38 285.94 359.18C287.12 360.98 292.03 362.48 294.01 361.51C295.99 360.54 296.66 357.54 297.82 353.36C298.98 349.17 299.74 342.26 300.97 336.42C302.20 330.58 303.41 323.67 305.19 318.32C306.96 312.97 310.07 309.64 311.61 304.33C313.15 299.03 314.21 291.18 314.42 286.51C314.63 281.84 313.20 280.50 312.87 276.32C312.55 272.15 313.06 263.95 312.46 261.47C311.86 258.99 309.79 261.44 309.26 261.43" fill="#c2c2c2"/>
<path d="M304.39 304.01C302.42 303.27 296.73 301.08 292.55 299.54C288.37 298.00 283.55 296.21 279.31 294.79C275.08 293.36 269.38 290.98 267.14 290.98C264.90 290.98 264.10 293.42 265.86 294.77C267.62 296.12 273.63 297.45 277.72 299.10C281.80 300.75 286.41 302.78 290.36 304.70C294.31 306.61 299.09 310.69 301.43 310.57C303.77 310.46 303.90 305.11 304.39 304.01" fill="#c6c6c6"/>
<path d="M314.47 289.42C316.49 286.53 323.03 277.17 326.56 272.08C330.10 266.98 332.82 263.55 335.66 258.83C338.49 254.10 342.71 246.47 343.59 243.70C344.48 240.94 342.86 240.07 340.98 242.23C339.09 244.40 335.29 252.17 332.28 256.69C329.26 261.20 326.75 264.56 322.88 269.32C319.02 274.07 310.50 281.89 309.10 285.24C307.70 288.59 313.57 288.72 314.47 289.42" fill="#c2c2c2"/>
<path d="M290.49 351.96C288.97 352.62 285.19 354.13 281.38 355.90C277.57 357.68 269.65 360.93 267.60 362.59C265.56 364.25 266.52 366.30 269.09 365.86C271.66 365.43 279.15 361.35 283.04 359.98C286.93 358.61 291.18 358.98 292.42 357.64C293.66 356.30 290.81 352.90 290.49 351.96" fill="#cccccc"/>
<circle cx="290.6" cy="351.0" r="1.1" fill="#e6e6e6"/>
<circle cx="299.8" cy="326.6" r="1.5" fill="#9a9a9a"/>
<circle cx="290.9" cy="352.3" r="1.1" fill="#a8a8a8"/>
<circle cx="305.2" cy="302.7" r="0.8" fill="#e6e6e6"/>
<circle cx="309.6" cy="298.3" r="1.2" fill="#9a9a9a"/>
<circle cx="303.0" cy="308.7" r="1.0" fill="#e6e6e6"/>
<circle cx="308.4" cy="294.4" r="0.8" fill="#a8a8a8"/>
<circle cx="298.7" cy="333.3" r="1.1" fill="#a8a8a8"/>
<circle cx="302.9" cy="318.1" r="1.5" fill="#9a9a9a"/>
<circle cx="302.5" cy="317.9" r="1.1" fill="#dedede"/>
<circle cx="297.3" cy="340.2" r="1.0" fill="#dedede"/>
<circle cx="300.4" cy="330.4" r="1.1" fill="#e6e6e6"/>
<circle cx="305.2" cy="303.7" r="0.9" fill="#dedede"/>
<circle cx="304.2" cy="307.6" r="1.1" fill="#a8a8a8"/>
<circle cx="305.0" cy="303.9" r="1.1" fill="#e6e6e6"/>
<circle cx="295.8" cy="347.4" r="0.9" fill="#e6e6e6"/>
<circle cx="291.5" cy="354.6" r="1.4" fill="#e6e6e6"/>
<circle cx="305.7" cy="312.6" r="0.7" fill="#a8a8a8"/>
<circle cx="290.0" cy="355.4" r="0.9" fill="#dedede"/>
<circle cx="303.7" cy="313.3" r="1.2" fill="#dedede"/>
<circle cx="293.1" cy="356.0" r="0.8" fill="#dedede"/>
<circle cx="302.2" cy="309.2" r="0.8" fill="#e6e6e6"/>
<circle cx="301.1" cy="312.8" r="1.4" fill="#9a9a9a"/>
<circle cx="307.6" cy="293.3" r="1.2" fill="#e6e6e6"/>
<circle cx="292.2" cy="336.0" r="0.8" fill="#9a9a9a"/>
<circle cx="303.8" cy="317.2" r="1.1" fill="#9a9a9a"/>
<circle cx="310.5" cy="276.6" r="3.9" fill="#fafafa"/>
<path d="M310.9 261.5L310.5 272.5" stroke="#d8d8d8" stroke-width="2.2"/>
<path d="M303.47 270.70C304.08 270.23 306.24 266.69 307.16 267.92C308.09 269.15 309.17 275.78 309.01 278.09C308.86 280.40 307.16 283.02 306.24 281.79C305.32 280.55 303.93 272.54 303.47 270.70" fill="#222" stroke="none"/>
<path d="M324.72 242.97C325.96 243.43 329.65 246.05 332.12 245.74C334.58 245.43 337.82 240.66 339.51 241.12C341.21 241.58 341.82 247.28 342.28 248.51" fill="none" stroke="#a8a8a8" stroke-width="1.6" stroke-linecap="round"/>
<path d="M253.56 287.33C254.64 287.02 257.87 284.56 260.03 285.48C262.19 286.41 266.81 290.72 266.50 292.88C266.19 295.03 260.65 298.11 258.18 298.42C255.72 298.73 252.79 295.34 251.71 294.72" fill="none" stroke="#a2a2a2" stroke-width="1.8" stroke-linecap="round"/>
<circle cx="304.4" cy="358.5" r="2.4" fill="#ececec"/>
<path d="M256.33 324.30C257.26 323.07 259.41 317.83 261.88 316.91C264.34 315.98 269.43 316.91 271.12 318.75C272.81 320.60 273.28 325.53 272.04 328.00C270.81 330.46 266.19 333.23 263.73 333.54C261.26 333.85 258.49 331.39 257.26 329.84C256.02 328.30 256.49 325.22 256.33 324.30" fill="none" stroke="#a6a6a6" stroke-width="2.2" stroke-linecap="round"/>
<circle cx="267.4" cy="321.5" r="2" fill="#dedede"/>
<circle cx="269.3" cy="328.9" r="2" fill="#d8d8d8"/>
<path d="M260.03 326.15C260.95 326.46 264.65 327.69 265.57 328.00" fill="none" stroke="#3e3e3e" stroke-width="2.0" stroke-linecap="round"/>
<path d="M282.21 372.36C283.75 373.59 287.76 378.21 291.45 379.75C295.15 381.29 300.39 380.21 304.39 381.60C308.40 382.99 311.48 385.61 315.48 388.07C319.49 390.53 323.80 394.54 328.42 396.39C333.04 398.24 338.28 399.62 343.21 399.16C348.14 398.70 354.30 395.46 358.00 393.62C361.69 391.77 364.16 388.99 365.39 388.07" fill="none" stroke="#222" stroke-width="3.4" stroke-linecap="round"/>
<path d="M354.30 373.28C354.61 374.98 354.61 380.52 356.15 383.45C357.69 386.38 362.31 389.61 363.54 390.84" fill="none" stroke="#262626" stroke-width="2.6" stroke-linecap="round"/>
<path d="M283.13 369.59C284.52 370.97 288.83 375.13 291.45 377.90C294.07 380.68 294.23 383.14 298.85 386.22C303.47 389.30 312.40 393.40 319.18 396.39C325.96 399.38 332.12 403.54 339.51 404.15C346.91 404.77 357.38 398.61 363.54 400.09C369.70 401.56 372.48 409.02 376.48 413.02C380.49 417.03 385.72 422.27 387.57 424.11" fill="none" stroke="#d2d2d2" stroke-width="6.6" stroke-linecap="round"/>
<path d="M363.54 399.16C362.77 396.54 360.15 387.92 358.92 383.45C357.69 378.98 356.61 374.21 356.15 372.36" fill="none" stroke="#c6c6c6" stroke-width="4.4" stroke-linecap="round"/>
<path d="M309.94 368.66C311.48 369.12 317.48 369.74 319.18 371.43C320.87 373.13 319.95 377.60 320.10 378.83" fill="none" stroke="#c2c2c2" stroke-width="3.4" stroke-linecap="round"/>
<path d="M345.06 406.55C345.67 407.94 347.68 412.56 348.75 414.87C349.83 417.18 351.06 419.49 351.53 420.42" fill="none" stroke="#bebebe" stroke-width="2.6" stroke-linecap="round"/>
<path d="M354.30 414.87C356.15 415.03 361.69 415.49 365.39 415.80C369.09 416.10 374.63 416.57 376.48 416.72" fill="none" stroke="#2c2c2c" stroke-width="2.2" stroke-linecap="round"/>
<path d="M365.39 401.93C367.24 401.63 372.78 398.54 376.48 400.09C380.18 401.63 384.24 408.71 387.57 411.18C390.90 413.64 394.96 414.26 396.44 414.87" fill="none" stroke="#a2a2a2" stroke-width="5.0" stroke-linecap="round"/>
<path d="M356.15 371.43C357.69 372.51 362.62 374.98 365.39 377.90C368.16 380.83 371.55 387.15 372.78 388.99" fill="none" stroke="#aaaaaa" stroke-width="2.2" stroke-linecap="round"/>
<path d="M241.55 425.96C243.70 425.04 249.86 422.27 254.48 420.42C259.11 418.57 263.11 417.49 269.27 414.87C275.43 412.25 287.76 406.40 291.45 404.71" fill="none" stroke="#a8a8a8" stroke-width="3.2" stroke-linecap="round"/>
<path d="M241.55 430.58C243.39 429.97 250.79 427.50 252.64 426.89" fill="none" stroke="#eaeaea" stroke-width="2.6" stroke-linecap="round"/>
<path d="M241.55 422.27C242.47 421.65 246.17 419.19 247.09 418.57" fill="none" stroke="#2a2a2a" stroke-width="2.4" stroke-linecap="round"/>
<path d="M248.94 392.69C250.17 391.61 253.87 386.22 256.33 386.22C258.80 386.22 263.11 390.38 263.73 392.69C264.34 395.00 262.03 399.01 260.03 400.09C258.03 401.16 253.10 399.31 251.71 399.16" fill="none" stroke="#8e8e8e" stroke-width="1.6" stroke-linecap="round"/>
</g>
<rect x="241.5" y="211" width="156" height="223" filter="url(#nz)" opacity="0.3"/>
<g filter="url(#bt)">
<text transform="translate(242.89 421.30) scale(0.9429 1)" font-size="25.00" font-weight="bold" fill="#fff">UC</text>
</g>
</g>
</g>
<path d="M528.50 98.75L528.50 118.00" stroke="#666" stroke-width="1.00"/>
<path d="M522.00 98.50L534.00 98.50" stroke="#666" stroke-width="1.00"/>
<rect x="516.73" y="117.72" width="22.55" height="125.55" fill="#fff" stroke="#000" stroke-width="1.45"/>
<path d="M554.50 95.50L554.50 114.00" stroke="#666" stroke-width="1.00"/>
<path d="M548.38 95.50L560.38 95.50" stroke="#666" stroke-width="1.00"/>
<rect x="543.73" y="113.72" width="21.55" height="129.55" fill="#000" stroke="#000" stroke-width="1.45"/>
<path d="M591.50 192.75L591.50 203.00" stroke="#666" stroke-width="1.00"/>
<path d="M585.50 192.50L597.50 192.50" stroke="#666" stroke-width="1.00"/>
<rect x="580.73" y="202.72" width="21.55" height="40.55" fill="#fff" stroke="#000" stroke-width="1.45"/>
<path d="M617.50 189.25L617.50 199.00" stroke="#666" stroke-width="1.00"/>
<path d="M611.88 189.50L623.88 189.50" stroke="#666" stroke-width="1.00"/>
<rect x="606.73" y="198.72" width="22.55" height="44.55" fill="#000" stroke="#000" stroke-width="1.45"/>
<path d="M655.50 106.50L655.50 127.00" stroke="#666" stroke-width="1.00"/>
<path d="M649.50 106.50L661.50 106.50" stroke="#666" stroke-width="1.00"/>
<rect x="644.73" y="126.72" width="21.55" height="116.55" fill="#fff" stroke="#000" stroke-width="1.45"/>
<path d="M681.50 90.75L681.50 111.00" stroke="#666" stroke-width="1.00"/>
<path d="M675.75 90.50L687.75 90.50" stroke="#666" stroke-width="1.00"/>
<rect x="670.73" y="110.72" width="22.55" height="132.55" fill="#000" stroke="#000" stroke-width="1.45"/>
<path d="M719.50 125.75L719.50 138.00" stroke="#666" stroke-width="1.00"/>
<path d="M713.25 125.50L725.25 125.50" stroke="#666" stroke-width="1.00"/>
<rect x="708.73" y="137.72" width="21.55" height="105.55" fill="#fff" stroke="#000" stroke-width="1.45"/>
<path d="M745.50 150.25L745.50 162.00" stroke="#666" stroke-width="1.00"/>
<path d="M739.50 150.50L751.50 150.50" stroke="#666" stroke-width="1.00"/>
<rect x="734.73" y="161.72" width="21.55" height="81.55" fill="#000" stroke="#000" stroke-width="1.45"/>
<path d="M505.00 46.30L505.00 244.10" stroke="#000" stroke-width="2.00"/>
<path d="M504.05 243.00L767.50 243.00" stroke="#000" stroke-width="2.00"/>
<path d="M498.05 243.00L505.05 243.00" stroke="#000" stroke-width="2.00"/>
<text x="489.86" y="247.71" font-size="12.80" font-weight="bold">0</text>
<path d="M498.05 204.00L505.05 204.00" stroke="#000" stroke-width="2.00"/>
<text x="482.75" y="208.55" font-size="12.80" font-weight="bold">10</text>
<path d="M498.05 165.00L505.05 165.00" stroke="#000" stroke-width="2.00"/>
<text x="482.75" y="169.39" font-size="12.80" font-weight="bold">20</text>
<path d="M498.05 126.00L505.05 126.00" stroke="#000" stroke-width="2.00"/>
<text x="482.75" y="130.23" font-size="12.80" font-weight="bold">30</text>
<path d="M498.05 86.00L505.05 86.00" stroke="#000" stroke-width="2.00"/>
<text x="482.75" y="91.07" font-size="12.80" font-weight="bold">40</text>
<path d="M498.05 47.00L505.05 47.00" stroke="#000" stroke-width="2.00"/>
<text x="482.75" y="51.91" font-size="12.80" font-weight="bold">50</text>
<path d="M540.00 243.10L540.00 249.90" stroke="#000" stroke-width="2.00"/>
<path d="M605.00 243.10L605.00 249.90" stroke="#000" stroke-width="2.00"/>
<path d="M668.00 243.10L668.00 249.90" stroke="#000" stroke-width="2.00"/>
<path d="M732.00 243.10L732.00 249.90" stroke="#000" stroke-width="2.00"/>
<text transform="translate(528.68 265.00) scale(0.8960 1)" font-size="17.90" fill="#000">RC</text>
<text transform="translate(587.14 265.00) scale(1.0685 1)" font-size="17.90" fill="#000">SM</text>
<text transform="translate(656.99 265.00) scale(0.8501 1)" font-size="17.90" fill="#000">FS</text>
<text transform="translate(717.92 265.00) scale(0.9556 1)" font-size="17.90" fill="#000">UC</text>
<text transform="translate(470.10 227.20) rotate(-90) scale(0.9924 1) translate(-0.64 0)" font-size="18.40" fill="#000">% of cells on day 4</text>
<rect x="568.55" y="51.55" width="23.90" height="15.90" fill="#fff" stroke="#000" stroke-width="1.10"/>
<rect x="639.55" y="51.55" width="23.90" height="15.90" fill="#000" stroke="#000" stroke-width="1.10"/>
<text transform="translate(597.63 66.00) scale(0.8977 1)" font-size="17.40" font-weight="bold" fill="#000">CTL</text>
<text transform="translate(669.03 66.00) scale(0.9024 1)" font-size="17.40" font-weight="bold" fill="#000">SCZ</text>
<path d="M845.50 139.00L845.50 159.00" stroke="#666" stroke-width="1.00"/>
<path d="M839.75 139.50L851.75 139.50" stroke="#666" stroke-width="1.00"/>
<rect x="834.73" y="158.72" width="22.55" height="85.55" fill="#fff" stroke="#000" stroke-width="1.45"/>
<path d="M872.50 172.25L872.50 191.00" stroke="#666" stroke-width="1.00"/>
<path d="M866.25 172.50L878.25 172.50" stroke="#666" stroke-width="1.00"/>
<rect x="860.73" y="190.72" width="22.55" height="53.55" fill="#000" stroke="#000" stroke-width="1.45"/>
<path d="M909.50 130.75L909.50 154.00" stroke="#666" stroke-width="1.00"/>
<path d="M903.38 130.50L915.38 130.50" stroke="#666" stroke-width="1.00"/>
<rect x="898.73" y="153.72" width="21.55" height="90.55" fill="#fff" stroke="#000" stroke-width="1.45"/>
<path d="M935.50 119.00L935.50 142.00" stroke="#666" stroke-width="1.00"/>
<path d="M929.62 119.50L941.62 119.50" stroke="#666" stroke-width="1.00"/>
<rect x="924.73" y="141.72" width="22.55" height="102.55" fill="#000" stroke="#000" stroke-width="1.45"/>
<path d="M973.50 96.50L973.50 117.00" stroke="#666" stroke-width="1.00"/>
<path d="M967.00 96.50L979.00 96.50" stroke="#666" stroke-width="1.00"/>
<rect x="961.73" y="116.72" width="22.55" height="127.55" fill="#fff" stroke="#000" stroke-width="1.45"/>
<path d="M999.50 51.75L999.50 72.00" stroke="#666" stroke-width="1.00"/>
<path d="M993.25 51.50L1005.25 51.50" stroke="#666" stroke-width="1.00"/>
<rect x="987.73" y="71.72" width="22.55" height="172.55" fill="#000" stroke="#000" stroke-width="1.45"/>
<path d="M1036.50 150.75L1036.50 159.00" stroke="#666" stroke-width="1.00"/>
<path d="M1030.50 150.50L1042.50 150.50" stroke="#666" stroke-width="1.00"/>
<rect x="1025.72" y="158.72" width="21.55" height="85.55" fill="#fff" stroke="#000" stroke-width="1.45"/>
<path d="M1062.50 176.50L1062.50 184.00" stroke="#666" stroke-width="1.00"/>
<path d="M1056.88 176.50L1068.88 176.50" stroke="#666" stroke-width="1.00"/>
<rect x="1051.72" y="183.72" width="22.55" height="60.55" fill="#000" stroke="#000" stroke-width="1.45"/>
<path d="M823.00 47.80L823.00 244.85" stroke="#000" stroke-width="2.00"/>
<path d="M822.30 244.00L1085.00 244.00" stroke="#000" stroke-width="2.00"/>
<path d="M816.30 244.00L823.30 244.00" stroke="#000" stroke-width="2.00"/>
<text x="808.11" y="248.46" font-size="12.80" font-weight="bold">0</text>
<path d="M816.30 205.00L823.30 205.00" stroke="#000" stroke-width="2.00"/>
<text x="801.00" y="209.45" font-size="12.80" font-weight="bold">10</text>
<path d="M816.30 166.00L823.30 166.00" stroke="#000" stroke-width="2.00"/>
<text x="801.00" y="170.44" font-size="12.80" font-weight="bold">20</text>
<path d="M816.30 127.00L823.30 127.00" stroke="#000" stroke-width="2.00"/>
<text x="801.00" y="131.43" font-size="12.80" font-weight="bold">30</text>
<path d="M816.30 88.00L823.30 88.00" stroke="#000" stroke-width="2.00"/>
<text x="801.00" y="92.42" font-size="12.80" font-weight="bold">40</text>
<path d="M816.30 49.00L823.30 49.00" stroke="#000" stroke-width="2.00"/>
<text x="801.00" y="53.41" font-size="12.80" font-weight="bold">50</text>
<path d="M859.00 243.85L859.00 250.65" stroke="#000" stroke-width="2.00"/>
<path d="M922.00 243.85L922.00 250.65" stroke="#000" stroke-width="2.00"/>
<path d="M986.00 243.85L986.00 250.65" stroke="#000" stroke-width="2.00"/>
<path d="M1050.00 243.85L1050.00 250.65" stroke="#000" stroke-width="2.00"/>
<text transform="translate(847.43 267.00) scale(0.8960 1)" font-size="17.90" fill="#000">RC</text>
<text transform="translate(906.14 267.00) scale(1.0685 1)" font-size="17.90" fill="#000">SM</text>
<text transform="translate(975.71 267.00) scale(0.8744 1)" font-size="17.90" fill="#000">FS</text>
<text transform="translate(1036.65 267.00) scale(0.9766 1)" font-size="17.90" fill="#000">UC</text>
<text transform="translate(795.60 228.75) rotate(-90) scale(0.9682 1) translate(-0.64 0)" font-size="18.40" fill="#000">% of cells on day 7</text>
<path d="M1035.50 146.25L1035.50 137.00L1064.50 137.00L1064.50 146.25" fill="none" stroke="#6a6a6a" stroke-width="1.10"/>
<text x="1045.67" y="135.97" font-size="16.60" font-weight="bold" stroke="#000" stroke-width="0.45" style="font-family:'DejaVu Sans','Liberation Sans',sans-serif">*</text>
<path d="M1168.50 171.25L1168.50 188.00" stroke="#666" stroke-width="1.00"/>
<path d="M1162.50 171.50L1174.50 171.50" stroke="#666" stroke-width="1.00"/>
<rect x="1157.72" y="187.72" width="21.55" height="58.55" fill="#fff" stroke="#000" stroke-width="1.45"/>
<path d="M1194.50 181.75L1194.50 198.00" stroke="#666" stroke-width="1.00"/>
<path d="M1188.62 181.50L1200.62 181.50" stroke="#666" stroke-width="1.00"/>
<rect x="1183.72" y="197.72" width="21.55" height="48.55" fill="#000" stroke="#000" stroke-width="1.45"/>
<path d="M1231.50 73.75L1231.50 103.00" stroke="#666" stroke-width="1.00"/>
<path d="M1225.75 73.50L1237.75 73.50" stroke="#666" stroke-width="1.00"/>
<rect x="1220.72" y="102.72" width="21.55" height="143.55" fill="#fff" stroke="#000" stroke-width="1.45"/>
<path d="M1257.50 83.25L1257.50 111.00" stroke="#666" stroke-width="1.00"/>
<path d="M1251.88 83.50L1263.88 83.50" stroke="#666" stroke-width="1.00"/>
<rect x="1246.72" y="110.72" width="22.55" height="135.55" fill="#000" stroke="#000" stroke-width="1.45"/>
<path d="M1295.50 113.50L1295.50 136.00" stroke="#666" stroke-width="1.00"/>
<path d="M1289.25 113.50L1301.25 113.50" stroke="#666" stroke-width="1.00"/>
<rect x="1284.72" y="135.72" width="21.55" height="110.55" fill="#fff" stroke="#000" stroke-width="1.45"/>
<path d="M1321.50 86.75L1321.50 108.00" stroke="#666" stroke-width="1.00"/>
<path d="M1315.38 86.50L1327.38 86.50" stroke="#666" stroke-width="1.00"/>
<rect x="1310.72" y="107.72" width="21.55" height="138.55" fill="#000" stroke="#000" stroke-width="1.45"/>
<path d="M1358.50 155.75L1358.50 167.00" stroke="#666" stroke-width="1.00"/>
<path d="M1352.50 155.50L1364.50 155.50" stroke="#666" stroke-width="1.00"/>
<rect x="1347.72" y="166.72" width="21.55" height="79.55" fill="#fff" stroke="#000" stroke-width="1.45"/>
<path d="M1384.50 164.50L1384.50 175.00" stroke="#666" stroke-width="1.00"/>
<path d="M1378.62 164.50L1390.62 164.50" stroke="#666" stroke-width="1.00"/>
<rect x="1373.72" y="174.72" width="21.55" height="71.55" fill="#000" stroke="#000" stroke-width="1.45"/>
<path d="M1146.00 48.80L1146.00 246.60" stroke="#000" stroke-width="2.00"/>
<path d="M1144.80 246.00L1406.75 246.00" stroke="#000" stroke-width="2.00"/>
<path d="M1138.80 246.00L1145.80 246.00" stroke="#000" stroke-width="2.00"/>
<text x="1130.61" y="250.21" font-size="12.80" font-weight="bold">0</text>
<path d="M1138.80 206.00L1145.80 206.00" stroke="#000" stroke-width="2.00"/>
<text x="1123.50" y="211.05" font-size="12.80" font-weight="bold">10</text>
<path d="M1138.80 167.00L1145.80 167.00" stroke="#000" stroke-width="2.00"/>
<text x="1123.50" y="171.89" font-size="12.80" font-weight="bold">20</text>
<path d="M1138.80 128.00L1145.80 128.00" stroke="#000" stroke-width="2.00"/>
<text x="1123.50" y="132.73" font-size="12.80" font-weight="bold">30</text>
<path d="M1138.80 89.00L1145.80 89.00" stroke="#000" stroke-width="2.00"/>
<text x="1123.50" y="93.57" font-size="12.80" font-weight="bold">40</text>
<path d="M1138.80 50.00L1145.80 50.00" stroke="#000" stroke-width="2.00"/>
<text x="1123.50" y="54.41" font-size="12.80" font-weight="bold">50</text>
<path d="M1182.00 245.60L1182.00 252.40" stroke="#000" stroke-width="2.00"/>
<path d="M1245.00 245.60L1245.00 252.40" stroke="#000" stroke-width="2.00"/>
<path d="M1308.00 245.60L1308.00 252.40" stroke="#000" stroke-width="2.00"/>
<path d="M1372.00 245.60L1372.00 252.40" stroke="#000" stroke-width="2.00"/>
<text transform="translate(1170.68 268.00) scale(0.8960 1)" font-size="17.90" fill="#000">RC</text>
<text transform="translate(1234.15 268.00) scale(1.0583 1)" font-size="17.90" fill="#000">SM</text>
<text transform="translate(1298.71 268.00) scale(0.8744 1)" font-size="17.90" fill="#000">FS</text>
<text transform="translate(1359.90 268.00) scale(0.9766 1)" font-size="17.90" fill="#000">UC</text>
<text transform="translate(1116.90 230.00) rotate(-90) scale(0.9948 1) translate(-0.64 0)" font-size="18.40" fill="#000">% of cells on day 10</text>
<path d="M1492.50 176.75L1492.50 191.00" stroke="#666" stroke-width="1.00"/>
<path d="M1486.38 176.50L1498.38 176.50" stroke="#666" stroke-width="1.00"/>
<rect x="1481.72" y="190.72" width="21.55" height="52.55" fill="#fff" stroke="#000" stroke-width="1.45"/>
<path d="M1518.50 193.00L1518.50 203.00" stroke="#666" stroke-width="1.00"/>
<path d="M1512.62 193.50L1524.62 193.50" stroke="#666" stroke-width="1.00"/>
<rect x="1507.72" y="202.72" width="21.55" height="40.55" fill="#000" stroke="#000" stroke-width="1.45"/>
<path d="M1555.50 112.50L1555.50 139.00" stroke="#666" stroke-width="1.00"/>
<path d="M1549.62 112.50L1561.62 112.50" stroke="#666" stroke-width="1.00"/>
<rect x="1544.72" y="138.72" width="21.55" height="104.55" fill="#fff" stroke="#000" stroke-width="1.45"/>
<path d="M1581.50 78.75L1581.50 97.00" stroke="#666" stroke-width="1.00"/>
<path d="M1575.88 78.50L1587.88 78.50" stroke="#666" stroke-width="1.00"/>
<rect x="1570.72" y="96.72" width="22.55" height="146.55" fill="#000" stroke="#000" stroke-width="1.45"/>
<path d="M1619.50 55.00L1619.50 84.00" stroke="#666" stroke-width="1.00"/>
<path d="M1613.12 55.50L1625.12 55.50" stroke="#666" stroke-width="1.00"/>
<rect x="1607.72" y="83.72" width="22.55" height="159.55" fill="#fff" stroke="#000" stroke-width="1.45"/>
<path d="M1645.50 115.25L1645.50 135.00" stroke="#666" stroke-width="1.00"/>
<path d="M1639.38 115.50L1651.38 115.50" stroke="#666" stroke-width="1.00"/>
<rect x="1634.72" y="134.72" width="21.55" height="108.55" fill="#000" stroke="#000" stroke-width="1.45"/>
<path d="M1682.50 159.50L1682.50 173.00" stroke="#666" stroke-width="1.00"/>
<path d="M1676.62 159.50L1688.62 159.50" stroke="#666" stroke-width="1.00"/>
<rect x="1671.72" y="172.72" width="21.55" height="70.55" fill="#fff" stroke="#000" stroke-width="1.45"/>
<path d="M1708.50 142.00L1708.50 151.00" stroke="#666" stroke-width="1.00"/>
<path d="M1702.75 142.50L1714.75 142.50" stroke="#666" stroke-width="1.00"/>
<rect x="1697.72" y="150.72" width="22.55" height="92.55" fill="#000" stroke="#000" stroke-width="1.45"/>
<path d="M1470.00 46.30L1470.00 244.10" stroke="#000" stroke-width="2.00"/>
<path d="M1468.55 243.00L1731.25 243.00" stroke="#000" stroke-width="2.00"/>
<path d="M1462.55 243.00L1469.55 243.00" stroke="#000" stroke-width="2.00"/>
<text x="1454.36" y="247.71" font-size="12.80" font-weight="bold">0</text>
<path d="M1462.55 204.00L1469.55 204.00" stroke="#000" stroke-width="2.00"/>
<text x="1447.25" y="208.55" font-size="12.80" font-weight="bold">10</text>
<path d="M1462.55 165.00L1469.55 165.00" stroke="#000" stroke-width="2.00"/>
<text x="1447.25" y="169.39" font-size="12.80" font-weight="bold">20</text>
<path d="M1462.55 126.00L1469.55 126.00" stroke="#000" stroke-width="2.00"/>
<text x="1447.25" y="130.23" font-size="12.80" font-weight="bold">30</text>
<path d="M1462.55 86.00L1469.55 86.00" stroke="#000" stroke-width="2.00"/>
<text x="1447.25" y="91.07" font-size="12.80" font-weight="bold">40</text>
<path d="M1462.55 47.00L1469.55 47.00" stroke="#000" stroke-width="2.00"/>
<text x="1447.25" y="51.91" font-size="12.80" font-weight="bold">50</text>
<path d="M1506.00 243.10L1506.00 249.90" stroke="#000" stroke-width="2.00"/>
<path d="M1569.00 243.10L1569.00 249.90" stroke="#000" stroke-width="2.00"/>
<path d="M1632.00 243.10L1632.00 249.90" stroke="#000" stroke-width="2.00"/>
<path d="M1696.00 243.10L1696.00 249.90" stroke="#000" stroke-width="2.00"/>
<text transform="translate(1494.18 264.50) scale(0.8960 1)" font-size="17.90" fill="#000">RC</text>
<text transform="translate(1557.65 264.50) scale(1.0583 1)" font-size="17.90" fill="#000">SM</text>
<text transform="translate(1621.94 264.50) scale(0.8866 1)" font-size="17.90" fill="#000">FS</text>
<text transform="translate(1683.15 264.50) scale(0.9766 1)" font-size="17.90" fill="#000">UC</text>
<text transform="translate(1440.40 235.00) rotate(-90) scale(0.9923 1) translate(-0.64 0)" font-size="18.40" fill="#000">% of cells on day 13</text>
<path d="M555.50 386.75L555.50 398.00" stroke="#707070" stroke-width="1.20"/>
<path d="M543.62 386.50L566.62 386.50" stroke="#707070" stroke-width="1.20"/>
<rect x="532.73" y="397.73" width="44.55" height="98.80" fill="#fff" stroke="#000" stroke-width="1.45"/>
<path d="M624.50 355.50L624.50 367.00" stroke="#707070" stroke-width="1.20"/>
<path d="M612.88 355.50L635.88 355.50" stroke="#707070" stroke-width="1.20"/>
<rect x="601.73" y="366.73" width="45.55" height="129.80" fill="#000" stroke="#000" stroke-width="1.45"/>
<path d="M693.50 349.25L693.50 361.00" stroke="#707070" stroke-width="1.20"/>
<path d="M681.88 349.50L704.88 349.50" stroke="#707070" stroke-width="1.20"/>
<rect x="670.80" y="360.80" width="45.40" height="135.65" fill="#828282" stroke="#111" stroke-width="1.60"/>
<path d="M509.50 299.80L509.50 497.45" stroke="#000" stroke-width="1.40"/>
<path d="M508.55 496.50L738.75 496.50" stroke="#000" stroke-width="1.40"/>
<path d="M503.45 496.50L509.25 496.50" stroke="#000" stroke-width="1.40"/>
<text x="495.41" y="501.25" font-size="12.50" font-weight="bold">0</text>
<path d="M503.45 457.50L509.25 457.50" stroke="#000" stroke-width="1.40"/>
<text x="495.26" y="462.00" font-size="12.50" font-weight="bold">5</text>
<path d="M503.45 418.50L509.25 418.50" stroke="#000" stroke-width="1.40"/>
<text x="488.47" y="422.75" font-size="12.50" font-weight="bold">10</text>
<path d="M503.45 379.50L509.25 379.50" stroke="#000" stroke-width="1.40"/>
<text x="488.32" y="383.50" font-size="12.50" font-weight="bold">15</text>
<path d="M503.45 339.50L509.25 339.50" stroke="#000" stroke-width="1.40"/>
<text x="488.47" y="344.25" font-size="12.50" font-weight="bold">20</text>
<path d="M503.45 300.50L509.25 300.50" stroke="#000" stroke-width="1.40"/>
<text x="488.32" y="305.00" font-size="12.50" font-weight="bold">25</text>
<path d="M506.05 477.50L509.25 477.50" stroke="#000" stroke-width="1.19"/>
<path d="M506.05 437.50L509.25 437.50" stroke="#000" stroke-width="1.19"/>
<path d="M506.05 398.50L509.25 398.50" stroke="#000" stroke-width="1.19"/>
<path d="M506.05 359.50L509.25 359.50" stroke="#000" stroke-width="1.19"/>
<path d="M506.05 320.50L509.25 320.50" stroke="#000" stroke-width="1.19"/>
<path d="M555.50 496.75L555.50 502.25" stroke="#000" stroke-width="1.40"/>
<path d="M624.50 496.75L624.50 502.25" stroke="#000" stroke-width="1.40"/>
<path d="M693.50 496.75L693.50 502.25" stroke="#000" stroke-width="1.40"/>
<path d="M554.50 323.00L554.50 316.25L694.00 316.25L694.00 323.00" fill="none" stroke="#6a6a6a" stroke-width="1.10"/>
<text x="619.67" y="314.97" font-size="16.60" font-weight="bold" stroke="#000" stroke-width="0.45" style="font-family:'DejaVu Sans','Liberation Sans',sans-serif">*</text>
<path d="M554.50 351.75L554.50 345.00L624.00 345.00L624.00 351.75" fill="none" stroke="#6a6a6a" stroke-width="1.10"/>
<text x="584.67" y="344.22" font-size="16.60" font-weight="bold" stroke="#000" stroke-width="0.45" style="font-family:'DejaVu Sans','Liberation Sans',sans-serif">*</text>
<text transform="translate(538.95 520.00) scale(0.8976 1)" font-size="17.90" fill="#000">CTL</text>
<text transform="translate(609.04 520.00) scale(0.8851 1)" font-size="17.90" fill="#000">SCZ</text>
<text transform="translate(671.44 520.00) scale(1.0546 1)" font-size="17.90" fill="#000">MED</text>
<text transform="translate(472.85 473.00) rotate(-90) scale(1.0603 1) translate(-1.52 0)" font-size="18.40" fill="#000">Differentiation (%)</text>
<path d="M829.00 299.55L829.00 496.70" stroke="#000" stroke-width="1.90"/>
<path d="M827.80 496.00L1053.75 496.00" stroke="#000" stroke-width="1.90"/>
<path d="M822.25 496.00L828.75 496.00" stroke="#000" stroke-width="1.90"/>
<text x="814.21" y="500.25" font-size="12.50" font-weight="bold">0</text>
<path d="M822.25 447.00L828.75 447.00" stroke="#000" stroke-width="1.90"/>
<text x="800.31" y="451.44" font-size="12.50" font-weight="bold">150</text>
<path d="M822.25 398.00L828.75 398.00" stroke="#000" stroke-width="1.90"/>
<text x="800.31" y="402.62" font-size="12.50" font-weight="bold">300</text>
<path d="M822.25 349.00L828.75 349.00" stroke="#000" stroke-width="1.90"/>
<text x="800.31" y="353.81" font-size="12.50" font-weight="bold">450</text>
<path d="M822.25 300.00L828.75 300.00" stroke="#000" stroke-width="1.90"/>
<text x="800.31" y="305.00" font-size="12.50" font-weight="bold">600</text>
<path d="M894.00 495.75L894.00 502.25" stroke="#000" stroke-width="1.90"/>
<path d="M992.00 495.75L992.00 502.25" stroke="#000" stroke-width="1.90"/>
<path d="M861.75 450.50L926.75 450.50" stroke="#111" stroke-width="1.30"/>
<path d="M894.50 436.00L894.50 464.75" stroke="#333" stroke-width="1.15"/>
<path d="M877.75 436.50L910.75 436.50" stroke="#333" stroke-width="1.15"/>
<path d="M877.75 464.50L910.75 464.50" stroke="#333" stroke-width="1.15"/>
<circle cx="894.00" cy="347.75" r="3.30"/>
<circle cx="894.25" cy="414.25" r="3.30"/>
<circle cx="894.00" cy="422.50" r="3.30"/>
<circle cx="894.00" cy="439.25" r="3.30"/>
<circle cx="887.50" cy="469.75" r="3.30"/>
<circle cx="900.50" cy="469.75" r="3.30"/>
<circle cx="881.00" cy="482.00" r="3.30"/>
<circle cx="894.00" cy="483.75" r="3.30"/>
<circle cx="907.00" cy="487.25" r="3.30"/>
<circle cx="881.00" cy="491.00" r="3.30"/>
<path d="M960.00 480.50L1025.00 480.50" stroke="#111" stroke-width="1.30"/>
<path d="M992.50 474.50L992.50 485.50" stroke="#666" stroke-width="1.15"/>
<path d="M976.00 474.50L1009.00 474.50" stroke="#666" stroke-width="1.15"/>
<path d="M976.00 485.50L1009.00 485.50" stroke="#666" stroke-width="1.15"/>
<rect x="989.40" y="440.15" width="6.20" height="6.20"/>
<rect x="989.40" y="453.40" width="6.20" height="6.20"/>
<rect x="988.90" y="468.90" width="6.20" height="6.20"/>
<rect x="976.15" y="480.65" width="6.20" height="6.20"/>
<rect x="1001.90" y="481.40" width="6.20" height="6.20"/>
<rect x="976.15" y="487.40" width="6.20" height="6.20"/>
<rect x="988.90" y="488.65" width="6.20" height="6.20"/>
<rect x="1001.90" y="488.65" width="6.20" height="6.20"/>
<rect x="963.15" y="489.15" width="6.20" height="6.20"/>
<rect x="1015.40" y="489.40" width="6.20" height="6.20"/>
<path d="M893.50 322.00L893.50 310.00L997.50 310.00L997.50 322.00" fill="none" stroke="#111" stroke-width="1.10"/>
<text x="940.67" y="308.72" font-size="16.60" font-weight="bold" stroke="#000" stroke-width="0.45" style="font-family:'DejaVu Sans','Liberation Sans',sans-serif">*</text>
<text transform="translate(862.83 520.75) scale(0.9631 1)" font-size="17.90" fill="#000">MF CTL</text>
<text transform="translate(944.08 520.75) scale(0.9638 1)" font-size="17.90" fill="#000">MDNCs CTL</text>
<text transform="translate(783.50 437.50) rotate(-90) scale(0.9375 1) translate(-0.92 0)" font-size="18.40" fill="#000">CD14 (RFI)</text>
<path d="M1083.00 299.55L1083.00 496.70" stroke="#000" stroke-width="1.90"/>
<path d="M1082.05 496.00L1311.75 496.00" stroke="#000" stroke-width="1.90"/>
<path d="M1076.50 496.00L1083.00 496.00" stroke="#000" stroke-width="1.90"/>
<text x="1068.46" y="500.25" font-size="12.50" font-weight="bold">0</text>
<path d="M1076.50 447.00L1083.00 447.00" stroke="#000" stroke-width="1.90"/>
<text x="1054.56" y="451.44" font-size="12.50" font-weight="bold">150</text>
<path d="M1076.50 398.00L1083.00 398.00" stroke="#000" stroke-width="1.90"/>
<text x="1054.56" y="402.62" font-size="12.50" font-weight="bold">300</text>
<path d="M1076.50 349.00L1083.00 349.00" stroke="#000" stroke-width="1.90"/>
<text x="1054.56" y="353.81" font-size="12.50" font-weight="bold">450</text>
<path d="M1076.50 300.00L1083.00 300.00" stroke="#000" stroke-width="1.90"/>
<text x="1054.56" y="305.00" font-size="12.50" font-weight="bold">600</text>
<path d="M1148.00 495.75L1148.00 502.25" stroke="#000" stroke-width="1.90"/>
<path d="M1246.00 495.75L1246.00 502.25" stroke="#000" stroke-width="1.90"/>
<path d="M1116.25 446.50L1181.25 446.50" stroke="#111" stroke-width="1.30"/>
<path d="M1148.50 434.50L1148.50 457.25" stroke="#333" stroke-width="1.15"/>
<path d="M1132.25 434.50L1165.25 434.50" stroke="#333" stroke-width="1.15"/>
<path d="M1132.25 457.50L1165.25 457.50" stroke="#333" stroke-width="1.15"/>
<circle cx="1148.50" cy="376.75" r="3.30"/>
<circle cx="1142.00" cy="412.50" r="3.30"/>
<circle cx="1155.00" cy="409.75" r="3.30"/>
<circle cx="1142.00" cy="427.50" r="3.30"/>
<circle cx="1155.00" cy="426.50" r="3.30"/>
<circle cx="1148.50" cy="458.25" r="3.30"/>
<circle cx="1142.00" cy="468.25" r="3.30"/>
<circle cx="1155.00" cy="472.50" r="3.30"/>
<circle cx="1142.00" cy="480.50" r="3.30"/>
<circle cx="1155.00" cy="482.75" r="3.30"/>
<circle cx="1148.50" cy="491.25" r="3.30"/>
<path d="M1214.00 460.50L1279.00 460.50" stroke="#111" stroke-width="1.30"/>
<path d="M1246.50 449.00L1246.50 471.00" stroke="#333" stroke-width="1.15"/>
<path d="M1230.00 449.50L1263.00 449.50" stroke="#333" stroke-width="1.15"/>
<path d="M1230.00 471.50L1263.00 471.50" stroke="#333" stroke-width="1.15"/>
<rect x="1243.40" y="381.90" width="6.20" height="6.20"/>
<rect x="1243.40" y="407.65" width="6.20" height="6.20"/>
<rect x="1236.65" y="435.65" width="6.20" height="6.20"/>
<rect x="1249.90" y="433.90" width="6.20" height="6.20"/>
<rect x="1256.65" y="471.40" width="6.20" height="6.20"/>
<rect x="1230.15" y="475.65" width="6.20" height="6.20"/>
<rect x="1243.40" y="477.65" width="6.20" height="6.20"/>
<rect x="1256.65" y="479.90" width="6.20" height="6.20"/>
<rect x="1243.40" y="484.15" width="6.20" height="6.20"/>
<rect x="1230.15" y="489.15" width="6.20" height="6.20"/>
<rect x="1256.65" y="489.15" width="6.20" height="6.20"/>
<text transform="translate(1116.61 521.25) scale(0.9408 1)" font-size="17.90" fill="#000">MF SCZ</text>
<text transform="translate(1199.36 521.25) scale(0.9418 1)" font-size="17.90" fill="#000">MDNCs SCZ</text>
<path d="M1372.00 299.55L1372.00 496.70" stroke="#000" stroke-width="1.90"/>
<path d="M1370.80 496.00L1601.25 496.00" stroke="#000" stroke-width="1.90"/>
<path d="M1365.25 496.00L1371.75 496.00" stroke="#000" stroke-width="1.90"/>
<text x="1357.21" y="500.25" font-size="12.50" font-weight="bold">0</text>
<path d="M1365.25 468.00L1371.75 468.00" stroke="#000" stroke-width="1.90"/>
<text x="1357.06" y="472.36" font-size="12.50" font-weight="bold">5</text>
<path d="M1365.25 440.00L1371.75 440.00" stroke="#000" stroke-width="1.90"/>
<text x="1350.28" y="444.46" font-size="12.50" font-weight="bold">10</text>
<path d="M1365.25 412.00L1371.75 412.00" stroke="#000" stroke-width="1.90"/>
<text x="1350.12" y="416.57" font-size="12.50" font-weight="bold">15</text>
<path d="M1365.25 384.00L1371.75 384.00" stroke="#000" stroke-width="1.90"/>
<text x="1350.28" y="388.68" font-size="12.50" font-weight="bold">20</text>
<path d="M1365.25 356.00L1371.75 356.00" stroke="#000" stroke-width="1.90"/>
<text x="1350.12" y="360.79" font-size="12.50" font-weight="bold">25</text>
<path d="M1365.25 328.00L1371.75 328.00" stroke="#000" stroke-width="1.90"/>
<text x="1350.28" y="332.89" font-size="12.50" font-weight="bold">30</text>
<path d="M1365.25 300.00L1371.75 300.00" stroke="#000" stroke-width="1.90"/>
<text x="1350.12" y="305.00" font-size="12.50" font-weight="bold">35</text>
<path d="M1438.00 495.75L1438.00 502.25" stroke="#000" stroke-width="1.90"/>
<path d="M1536.00 495.75L1536.00 502.25" stroke="#000" stroke-width="1.90"/>
<path d="M1405.00 464.50L1470.00 464.50" stroke="#111" stroke-width="1.30"/>
<path d="M1437.50 453.25L1437.50 475.75" stroke="#333" stroke-width="1.15"/>
<path d="M1421.00 453.50L1454.00 453.50" stroke="#333" stroke-width="1.15"/>
<path d="M1421.00 475.50L1454.00 475.50" stroke="#333" stroke-width="1.15"/>
<circle cx="1429.75" cy="436.25" r="3.80"/>
<circle cx="1445.50" cy="441.75" r="3.80"/>
<circle cx="1437.50" cy="469.25" r="3.80"/>
<circle cx="1437.50" cy="481.50" r="3.80"/>
<circle cx="1437.50" cy="494.50" r="3.80"/>
<path d="M1503.50 413.50L1568.50 413.50" stroke="#111" stroke-width="1.30"/>
<path d="M1536.50 384.00L1536.50 443.75" stroke="#333" stroke-width="1.15"/>
<path d="M1519.50 384.50L1552.50 384.50" stroke="#333" stroke-width="1.15"/>
<path d="M1519.50 443.50L1552.50 443.50" stroke="#333" stroke-width="1.15"/>
<rect x="1524.30" y="337.90" width="7.40" height="7.40"/>
<rect x="1540.30" y="339.90" width="7.40" height="7.40"/>
<rect x="1532.30" y="440.80" width="7.40" height="7.40"/>
<rect x="1532.30" y="455.55" width="7.40" height="7.40"/>
<rect x="1532.30" y="478.30" width="7.40" height="7.40"/>
<text transform="translate(1407.82 520.75) scale(0.9711 1)" font-size="17.90" fill="#000">MF CTL</text>
<text transform="translate(1489.84 520.00) scale(0.9563 1)" font-size="17.90" fill="#000">MDNCs CTL</text>
<text transform="translate(1341.10 493.25) rotate(-90) scale(1.0115 1) translate(-0.64 0)" font-size="18.40" fill="#000">% of cells high in Nestin</text>
<path d="M1638.00 299.55L1638.00 496.70" stroke="#000" stroke-width="1.90"/>
<path d="M1637.55 496.00L1867.50 496.00" stroke="#000" stroke-width="1.90"/>
<path d="M1632.00 496.00L1638.50 496.00" stroke="#000" stroke-width="1.90"/>
<text x="1623.96" y="500.25" font-size="12.50" font-weight="bold">0</text>
<path d="M1632.00 468.00L1638.50 468.00" stroke="#000" stroke-width="1.90"/>
<text x="1623.81" y="472.36" font-size="12.50" font-weight="bold">5</text>
<path d="M1632.00 440.00L1638.50 440.00" stroke="#000" stroke-width="1.90"/>
<text x="1617.03" y="444.46" font-size="12.50" font-weight="bold">10</text>
<path d="M1632.00 412.00L1638.50 412.00" stroke="#000" stroke-width="1.90"/>
<text x="1616.87" y="416.57" font-size="12.50" font-weight="bold">15</text>
<path d="M1632.00 384.00L1638.50 384.00" stroke="#000" stroke-width="1.90"/>
<text x="1617.03" y="388.68" font-size="12.50" font-weight="bold">20</text>
<path d="M1632.00 356.00L1638.50 356.00" stroke="#000" stroke-width="1.90"/>
<text x="1616.87" y="360.79" font-size="12.50" font-weight="bold">25</text>
<path d="M1632.00 328.00L1638.50 328.00" stroke="#000" stroke-width="1.90"/>
<text x="1617.03" y="332.89" font-size="12.50" font-weight="bold">30</text>
<path d="M1632.00 300.00L1638.50 300.00" stroke="#000" stroke-width="1.90"/>
<text x="1616.87" y="305.00" font-size="12.50" font-weight="bold">35</text>
<path d="M1704.00 495.75L1704.00 502.25" stroke="#000" stroke-width="1.90"/>
<path d="M1802.00 495.75L1802.00 502.25" stroke="#000" stroke-width="1.90"/>
<path d="M1671.25 460.50L1736.25 460.50" stroke="#111" stroke-width="1.30"/>
<path d="M1703.50 446.00L1703.50 475.00" stroke="#333" stroke-width="1.15"/>
<path d="M1687.25 446.50L1720.25 446.50" stroke="#333" stroke-width="1.15"/>
<path d="M1687.25 475.50L1720.25 475.50" stroke="#333" stroke-width="1.15"/>
<circle cx="1703.75" cy="422.25" r="3.80"/>
<circle cx="1703.75" cy="454.75" r="3.80"/>
<circle cx="1703.75" cy="476.75" r="3.80"/>
<circle cx="1703.75" cy="488.75" r="3.80"/>
<path d="M1769.50 388.50L1834.50 388.50" stroke="#111" stroke-width="1.30"/>
<path d="M1802.50 373.75L1802.50 403.00" stroke="#333" stroke-width="1.15"/>
<path d="M1785.50 373.50L1818.50 373.50" stroke="#333" stroke-width="1.15"/>
<path d="M1785.50 403.50L1818.50 403.50" stroke="#333" stroke-width="1.15"/>
<rect x="1798.30" y="341.55" width="7.40" height="7.40"/>
<rect x="1782.55" y="400.80" width="7.40" height="7.40"/>
<rect x="1798.30" y="398.05" width="7.40" height="7.40"/>
<rect x="1814.05" y="398.80" width="7.40" height="7.40"/>
<path d="M1700.50 321.25L1700.50 314.50L1802.00 314.50L1802.00 321.25" fill="none" stroke="#6a6a6a" stroke-width="1.10"/>
<text x="1746.92" y="313.22" font-size="16.60" font-weight="bold" stroke="#000" stroke-width="0.45" style="font-family:'DejaVu Sans','Liberation Sans',sans-serif">*</text>
<text transform="translate(1672.62 520.00) scale(0.9369 1)" font-size="17.90" fill="#000">MF SCZ</text>
<text transform="translate(1755.61 520.00) scale(0.9418 1)" font-size="17.90" fill="#000">MDNCs SCZ</text>
<rect x="277.85" y="556.85" width="177.30" height="41.30" fill="#fff" stroke="#000" stroke-width="1.70"/>
<text transform="translate(298.37 584.50) scale(1.0053 1)" font-size="16.60" font-weight="bold" fill="#000">Primary Neurites</text>
<rect x="585.85" y="556.85" width="201.30" height="41.30" fill="#fff" stroke="#000" stroke-width="1.70"/>
<text transform="translate(607.50 584.50) scale(0.9984 1)" font-size="16.60" font-weight="bold" fill="#000">Secondary Neurites</text>
<rect x="921.85" y="556.85" width="178.30" height="41.30" fill="#fff" stroke="#000" stroke-width="1.70"/>
<text transform="translate(942.62 584.50) scale(1.0053 1)" font-size="16.60" font-weight="bold" fill="#000">Primary Neurites</text>
<rect x="1259.85" y="556.85" width="201.30" height="41.30" fill="#fff" stroke="#000" stroke-width="1.70"/>
<text transform="translate(1281.50 583.75) scale(0.9967 1)" font-size="16.60" font-weight="bold" fill="#000">Secondary Neurites</text>
<rect x="1615.85" y="556.85" width="137.30" height="41.30" fill="#fff" stroke="#000" stroke-width="1.70"/>
<text transform="translate(1637.33 584.50) scale(1.0013 1)" font-size="16.60" font-weight="bold" fill="#000">All Neurites</text>
<g id="neurites">
<defs><linearGradient id="cg" x1="0.15" y1="0.15" x2="0.85" y2="0.85"><stop offset="0" stop-color="#a6a6a6"/><stop offset="1" stop-color="#dadada"/></linearGradient></defs>
<circle cx="344.90" cy="709.70" r="21.8" fill="url(#cg)" stroke="#c9c9c9" stroke-width="0.6"/>
<circle cx="665.00" cy="711.60" r="21.8" fill="url(#cg)" stroke="#c9c9c9" stroke-width="0.6"/>
<circle cx="1016.40" cy="709.70" r="21.8" fill="url(#cg)" stroke="#c9c9c9" stroke-width="0.6"/>
<circle cx="1339.40" cy="711.00" r="21.8" fill="url(#cg)" stroke="#c9c9c9" stroke-width="0.6"/>
<circle cx="1661.00" cy="712.30" r="21.8" fill="url(#cg)" stroke="#c9c9c9" stroke-width="0.6"/>
<path d="M342.10 698.60C342.48 697.77 343.73 695.35 344.40 693.60C345.07 691.85 345.35 689.52 346.10 688.10C346.85 686.68 347.62 685.83 348.90 685.10C350.18 684.37 352.15 684.18 353.80 683.70C355.45 683.22 357.30 682.83 358.80 682.20C360.30 681.57 361.47 680.68 362.80 679.90C364.13 679.12 365.32 678.17 366.80 677.50C368.28 676.83 370.22 676.78 371.70 675.90C373.18 675.02 374.20 673.65 375.70 672.20C377.20 670.75 379.20 669.02 380.70 667.20C382.20 665.38 383.67 663.53 384.70 661.30C385.73 659.07 386.23 656.53 386.90 653.80C387.57 651.07 388.08 647.38 388.70 644.90C389.32 642.42 389.62 640.65 390.60 638.90C391.58 637.15 393.10 635.53 394.60 634.40C396.10 633.27 398.02 632.72 399.60 632.10C401.18 631.48 403.02 631.32 404.10 630.70C405.18 630.08 405.43 629.07 406.10 628.40C406.77 627.73 407.03 626.98 408.10 626.70C409.17 626.42 410.77 626.55 412.50 626.70C414.23 626.85 416.58 627.23 418.50 627.60C420.42 627.97 423.08 628.68 424.00 628.90" fill="none" stroke="#ff0000" stroke-width="3.3" stroke-linejoin="round" stroke-linecap="butt"/>
<path d="M697.60 673.10C697.85 671.87 699.10 667.93 699.10 665.70C699.10 663.47 698.27 661.37 697.60 659.70C696.93 658.03 696.17 656.95 695.10 655.70C694.03 654.45 692.02 653.35 691.20 652.20C690.38 651.05 690.95 649.62 690.20 648.80C689.45 647.98 687.87 648.05 686.70 647.30C685.53 646.55 684.37 645.08 683.20 644.30C682.03 643.52 680.28 642.88 679.70 642.60" fill="none" stroke="#ff0000" stroke-width="3.1" stroke-linejoin="round" stroke-linecap="butt"/>
<path d="M662.50 700.00C662.88 699.17 664.13 696.75 664.80 695.00C665.47 693.25 665.75 690.92 666.50 689.50C667.25 688.08 668.02 687.23 669.30 686.50C670.58 685.77 672.55 685.58 674.20 685.10C675.85 684.62 677.70 684.23 679.20 683.60C680.70 682.97 681.87 682.08 683.20 681.30C684.53 680.52 685.72 679.57 687.20 678.90C688.68 678.23 690.62 678.18 692.10 677.30C693.58 676.42 694.60 675.05 696.10 673.60C697.60 672.15 699.60 670.42 701.10 668.60C702.60 666.78 704.07 664.93 705.10 662.70C706.13 660.47 706.63 657.93 707.30 655.20C707.97 652.47 708.48 648.78 709.10 646.30C709.72 643.82 710.02 642.05 711.00 640.30C711.98 638.55 713.50 636.93 715.00 635.80C716.50 634.67 718.42 634.12 720.00 633.50C721.58 632.88 723.42 632.72 724.50 632.10C725.58 631.48 725.83 630.47 726.50 629.80C727.17 629.13 727.43 628.38 728.50 628.10C729.57 627.82 731.17 627.95 732.90 628.10C734.63 628.25 736.98 628.63 738.90 629.00C740.82 629.37 743.48 630.08 744.40 630.30" fill="none" stroke="#000" stroke-width="3.3" stroke-linejoin="round" stroke-linecap="butt"/>
<path d="M1013.60 698.60C1013.98 697.77 1015.23 695.35 1015.90 693.60C1016.57 691.85 1016.85 689.52 1017.60 688.10C1018.35 686.68 1019.12 685.83 1020.40 685.10C1021.68 684.37 1023.65 684.18 1025.30 683.70C1026.95 683.22 1028.80 682.83 1030.30 682.20C1031.80 681.57 1032.97 680.68 1034.30 679.90C1035.63 679.12 1036.82 678.17 1038.30 677.50C1039.78 676.83 1041.72 676.78 1043.20 675.90C1044.68 675.02 1045.70 673.65 1047.20 672.20C1048.70 670.75 1050.70 669.02 1052.20 667.20C1053.70 665.38 1055.17 663.53 1056.20 661.30C1057.23 659.07 1057.73 656.53 1058.40 653.80C1059.07 651.07 1059.58 647.38 1060.20 644.90C1060.82 642.42 1061.12 640.65 1062.10 638.90C1063.08 637.15 1064.60 635.53 1066.10 634.40C1067.60 633.27 1069.52 632.72 1071.10 632.10C1072.68 631.48 1074.52 631.32 1075.60 630.70C1076.68 630.08 1076.93 629.07 1077.60 628.40C1078.27 627.73 1078.53 626.98 1079.60 626.70C1080.67 626.42 1082.27 626.55 1084.00 626.70C1085.73 626.85 1088.08 627.23 1090.00 627.60C1091.92 627.97 1094.58 628.68 1095.50 628.90" fill="none" stroke="#ff0000" stroke-width="3.3" stroke-linejoin="round" stroke-linecap="butt"/>
<path d="M1001.80 708.30C1000.78 707.52 997.63 705.25 995.70 703.60C993.77 701.95 992.20 699.48 990.20 698.40C988.20 697.32 986.27 697.53 983.70 697.10C981.13 696.67 977.53 696.38 974.80 695.80C972.07 695.22 969.47 694.55 967.30 693.60C965.13 692.65 962.88 691.35 961.80 690.10C960.72 688.85 961.53 687.67 960.80 686.10C960.07 684.53 958.38 682.93 957.40 680.70C956.42 678.47 955.48 675.68 954.90 672.70C954.32 669.72 954.32 666.12 953.90 662.80C953.48 659.48 953.15 655.30 952.40 652.80C951.65 650.30 950.65 649.15 949.40 647.80C948.15 646.45 946.47 645.27 944.90 644.70C943.33 644.13 940.82 644.45 940.00 644.40" fill="none" stroke="#ff0000" stroke-width="3.3" stroke-linejoin="round" stroke-linecap="butt"/>
<path d="M1372.20 672.20C1372.45 670.97 1373.70 667.03 1373.70 664.80C1373.70 662.57 1372.87 660.47 1372.20 658.80C1371.53 657.13 1370.77 656.05 1369.70 654.80C1368.63 653.55 1366.62 652.45 1365.80 651.30C1364.98 650.15 1365.55 648.72 1364.80 647.90C1364.05 647.08 1362.47 647.15 1361.30 646.40C1360.13 645.65 1358.97 644.18 1357.80 643.40C1356.63 642.62 1354.88 641.98 1354.30 641.70" fill="none" stroke="#ff0000" stroke-width="3.1" stroke-linejoin="round" stroke-linecap="butt"/>
<path d="M1382.70 656.00C1383.52 655.85 1386.12 655.30 1387.60 655.10C1389.08 654.90 1390.43 654.60 1391.60 654.80C1392.77 655.00 1393.27 656.30 1394.60 656.30C1395.93 656.30 1397.85 655.42 1399.60 654.80C1401.35 654.18 1403.70 653.58 1405.10 652.60C1406.50 651.62 1407.23 650.18 1408.00 648.90C1408.77 647.62 1409.42 645.57 1409.70 644.90" fill="none" stroke="#ff0000" stroke-width="3.1" stroke-linejoin="round" stroke-linecap="butt"/>
<path d="M1337.10 699.10C1337.48 698.27 1338.73 695.85 1339.40 694.10C1340.07 692.35 1340.35 690.02 1341.10 688.60C1341.85 687.18 1342.62 686.33 1343.90 685.60C1345.18 684.87 1347.15 684.68 1348.80 684.20C1350.45 683.72 1352.30 683.33 1353.80 682.70C1355.30 682.07 1356.47 681.18 1357.80 680.40C1359.13 679.62 1360.32 678.67 1361.80 678.00C1363.28 677.33 1365.22 677.28 1366.70 676.40C1368.18 675.52 1369.20 674.15 1370.70 672.70C1372.20 671.25 1374.20 669.52 1375.70 667.70C1377.20 665.88 1378.67 664.03 1379.70 661.80C1380.73 659.57 1381.23 657.03 1381.90 654.30C1382.57 651.57 1383.08 647.88 1383.70 645.40C1384.32 642.92 1384.62 641.15 1385.60 639.40C1386.58 637.65 1388.10 636.03 1389.60 634.90C1391.10 633.77 1393.02 633.22 1394.60 632.60C1396.18 631.98 1398.02 631.82 1399.10 631.20C1400.18 630.58 1400.43 629.57 1401.10 628.90C1401.77 628.23 1402.03 627.48 1403.10 627.20C1404.17 626.92 1405.77 627.05 1407.50 627.20C1409.23 627.35 1411.58 627.73 1413.50 628.10C1415.42 628.47 1418.08 629.18 1419.00 629.40" fill="none" stroke="#000" stroke-width="3.3" stroke-linejoin="round" stroke-linecap="butt"/>
<path d="M1658.60 700.90C1658.98 700.07 1660.23 697.65 1660.90 695.90C1661.57 694.15 1661.85 691.82 1662.60 690.40C1663.35 688.98 1664.12 688.13 1665.40 687.40C1666.68 686.67 1668.65 686.48 1670.30 686.00C1671.95 685.52 1673.80 685.13 1675.30 684.50C1676.80 683.87 1677.97 682.98 1679.30 682.20C1680.63 681.42 1681.82 680.47 1683.30 679.80C1684.78 679.13 1686.72 679.08 1688.20 678.20C1689.68 677.32 1690.70 675.95 1692.20 674.50C1693.70 673.05 1695.70 671.32 1697.20 669.50C1698.70 667.68 1700.17 665.83 1701.20 663.60C1702.23 661.37 1702.73 658.83 1703.40 656.10C1704.07 653.37 1704.58 649.68 1705.20 647.20C1705.82 644.72 1706.12 642.95 1707.10 641.20C1708.08 639.45 1709.60 637.83 1711.10 636.70C1712.60 635.57 1714.52 635.02 1716.10 634.40C1717.68 633.78 1719.52 633.62 1720.60 633.00C1721.68 632.38 1721.93 631.37 1722.60 630.70C1723.27 630.03 1723.53 629.28 1724.60 629.00C1725.67 628.72 1727.27 628.85 1729.00 629.00C1730.73 629.15 1733.08 629.53 1735.00 629.90C1736.92 630.27 1739.58 630.98 1740.50 631.20" fill="none" stroke="#ff0000" stroke-width="3.3" stroke-linejoin="round" stroke-linecap="butt"/>
<path d="M1693.90 672.20C1693.97 671.03 1694.48 667.62 1694.30 665.20C1694.12 662.78 1693.55 659.58 1692.80 657.70C1692.05 655.82 1690.85 654.98 1689.80 653.90C1688.75 652.82 1686.87 652.27 1686.50 651.20C1686.13 650.13 1686.88 649.10 1687.60 647.50C1688.32 645.90 1690.08 643.67 1690.80 641.60C1691.52 639.53 1691.90 637.35 1691.90 635.10C1691.90 632.85 1691.25 630.15 1690.80 628.10C1690.35 626.05 1689.92 624.40 1689.20 622.80C1688.48 621.20 1686.95 619.22 1686.50 618.50" fill="none" stroke="#ff0000" stroke-width="3.1" stroke-linejoin="round" stroke-linecap="butt"/>
<path d="M1686.50 649.10C1685.88 648.92 1684.05 648.72 1682.80 648.00C1681.55 647.28 1680.17 645.65 1679.00 644.80C1677.83 643.95 1676.33 643.22 1675.80 642.90" fill="none" stroke="#ff0000" stroke-width="3.0" stroke-linejoin="round" stroke-linecap="butt"/>
<path d="M1690.30 624.90C1691.10 624.45 1693.40 622.92 1695.10 622.20C1696.80 621.48 1699.12 621.53 1700.50 620.60C1701.88 619.67 1702.92 617.27 1703.40 616.60" fill="none" stroke="#ff0000" stroke-width="3.0" stroke-linejoin="round" stroke-linecap="butt"/>
</g>
<path d="M289.50 790.75L289.50 797.00" stroke="#666" stroke-width="1.00"/>
<path d="M277.25 790.50L301.75 790.50" stroke="#666" stroke-width="1.00"/>
<rect x="265.73" y="796.73" width="47.55" height="157.30" fill="#fff" stroke="#000" stroke-width="1.45"/>
<path d="M363.50 787.00L363.50 792.00" stroke="#666" stroke-width="1.00"/>
<path d="M351.00 787.50L375.50 787.50" stroke="#666" stroke-width="1.00"/>
<rect x="339.73" y="791.73" width="47.55" height="162.30" fill="#000" stroke="#000" stroke-width="1.45"/>
<path d="M436.50 784.75L436.50 791.00" stroke="#666" stroke-width="1.00"/>
<path d="M424.38 784.50L448.88 784.50" stroke="#666" stroke-width="1.00"/>
<rect x="412.80" y="790.80" width="47.40" height="163.15" fill="#828282" stroke="#111" stroke-width="1.60"/>
<path d="M240.00 744.25L240.00 955.00" stroke="#000" stroke-width="1.50"/>
<path d="M239.75 954.00L485.75 954.00" stroke="#000" stroke-width="1.50"/>
<path d="M234.50 954.00L240.50 954.00" stroke="#000" stroke-width="1.50"/>
<text x="225.05" y="958.97" font-size="13.10" font-weight="bold">0</text>
<path d="M234.50 919.00L240.50 919.00" stroke="#000" stroke-width="1.50"/>
<text x="217.78" y="924.09" font-size="13.10" font-weight="bold">20</text>
<path d="M234.50 884.00L240.50 884.00" stroke="#000" stroke-width="1.50"/>
<text x="217.78" y="889.22" font-size="13.10" font-weight="bold">40</text>
<path d="M234.50 850.00L240.50 850.00" stroke="#000" stroke-width="1.50"/>
<text x="217.78" y="854.34" font-size="13.10" font-weight="bold">60</text>
<path d="M234.50 815.00L240.50 815.00" stroke="#000" stroke-width="1.50"/>
<text x="217.78" y="819.47" font-size="13.10" font-weight="bold">80</text>
<path d="M234.50 780.00L240.50 780.00" stroke="#000" stroke-width="1.50"/>
<text x="210.48" y="784.59" font-size="13.10" font-weight="bold">100</text>
<path d="M234.50 745.00L240.50 745.00" stroke="#000" stroke-width="1.50"/>
<text x="210.48" y="749.72" font-size="13.10" font-weight="bold">120</text>
<path d="M237.20 936.50L240.50 936.50" stroke="#000" stroke-width="1.27"/>
<path d="M237.20 901.50L240.50 901.50" stroke="#000" stroke-width="1.27"/>
<path d="M237.20 867.50L240.50 867.50" stroke="#000" stroke-width="1.27"/>
<path d="M237.20 832.50L240.50 832.50" stroke="#000" stroke-width="1.27"/>
<path d="M237.20 797.50L240.50 797.50" stroke="#000" stroke-width="1.27"/>
<path d="M237.20 762.50L240.50 762.50" stroke="#000" stroke-width="1.27"/>
<path d="M289.00 954.25L289.00 959.75" stroke="#000" stroke-width="1.50"/>
<path d="M363.00 954.25L363.00 959.75" stroke="#000" stroke-width="1.50"/>
<path d="M437.00 954.25L437.00 959.75" stroke="#000" stroke-width="1.50"/>
<text transform="translate(273.71 977.50) scale(0.8821 1)" font-size="17.90" fill="#000">CTL</text>
<text transform="translate(348.80 977.50) scale(0.8706 1)" font-size="17.90" fill="#000">SCZ</text>
<text transform="translate(415.44 977.50) scale(1.0546 1)" font-size="17.90" fill="#000">MED</text>
<text transform="translate(197.85 920.00) rotate(-90) scale(1.0251 1) translate(-1.52 0)" font-size="18.40" fill="#000">LPN length (µm)</text>
<path d="M623.50 815.00L623.50 822.00" stroke="#666" stroke-width="1.00"/>
<path d="M611.00 815.50L635.50 815.50" stroke="#666" stroke-width="1.00"/>
<rect x="599.73" y="821.73" width="47.55" height="133.30" fill="#fff" stroke="#000" stroke-width="1.45"/>
<path d="M697.50 793.75L697.50 800.00" stroke="#666" stroke-width="1.00"/>
<path d="M685.00 793.50L709.50 793.50" stroke="#666" stroke-width="1.00"/>
<rect x="672.73" y="799.73" width="48.55" height="155.30" fill="#000" stroke="#000" stroke-width="1.45"/>
<path d="M771.50 795.50L771.50 803.00" stroke="#666" stroke-width="1.00"/>
<path d="M759.12 795.50L783.62 795.50" stroke="#666" stroke-width="1.00"/>
<rect x="746.80" y="802.80" width="48.40" height="152.15" fill="#828282" stroke="#111" stroke-width="1.60"/>
<path d="M574.00 741.75L574.00 955.75" stroke="#000" stroke-width="1.50"/>
<path d="M573.00 955.00L821.25 955.00" stroke="#000" stroke-width="1.50"/>
<path d="M567.75 955.00L573.75 955.00" stroke="#000" stroke-width="1.50"/>
<text x="558.30" y="959.72" font-size="13.10" font-weight="bold">0</text>
<path d="M567.75 912.00L573.75 912.00" stroke="#000" stroke-width="1.50"/>
<text x="558.14" y="917.22" font-size="13.10" font-weight="bold">5</text>
<path d="M567.75 870.00L573.75 870.00" stroke="#000" stroke-width="1.50"/>
<text x="551.03" y="874.72" font-size="13.10" font-weight="bold">10</text>
<path d="M567.75 828.00L573.75 828.00" stroke="#000" stroke-width="1.50"/>
<text x="550.87" y="832.22" font-size="13.10" font-weight="bold">15</text>
<path d="M567.75 785.00L573.75 785.00" stroke="#000" stroke-width="1.50"/>
<text x="551.03" y="789.72" font-size="13.10" font-weight="bold">20</text>
<path d="M567.75 742.00L573.75 742.00" stroke="#000" stroke-width="1.50"/>
<text x="550.87" y="747.22" font-size="13.10" font-weight="bold">25</text>
<path d="M570.45 933.50L573.75 933.50" stroke="#000" stroke-width="1.27"/>
<path d="M570.45 891.50L573.75 891.50" stroke="#000" stroke-width="1.27"/>
<path d="M570.45 848.50L573.75 848.50" stroke="#000" stroke-width="1.27"/>
<path d="M570.45 806.50L573.75 806.50" stroke="#000" stroke-width="1.27"/>
<path d="M570.45 763.50L573.75 763.50" stroke="#000" stroke-width="1.27"/>
<path d="M622.00 955.00L622.00 960.50" stroke="#000" stroke-width="1.50"/>
<path d="M697.00 955.00L697.00 960.50" stroke="#000" stroke-width="1.50"/>
<path d="M771.00 955.00L771.00 960.50" stroke="#000" stroke-width="1.50"/>
<text transform="translate(607.46 978.00) scale(0.8821 1)" font-size="17.90" fill="#000">CTL</text>
<text transform="translate(683.05 978.00) scale(0.8706 1)" font-size="17.90" fill="#000">SCZ</text>
<text transform="translate(749.44 978.00) scale(1.0546 1)" font-size="17.90" fill="#000">MED</text>
<text transform="translate(533.60 913.00) rotate(-90) scale(1.0004 1) translate(-1.52 0)" font-size="18.40" fill="#000">LSN length (µm)</text>
<path d="M622.50 768.00L622.50 761.25L771.50 761.25L771.50 768.00" fill="none" stroke="#6a6a6a" stroke-width="1.10"/>
<text x="692.92" y="759.47" font-size="16.60" font-weight="bold" stroke="#000" stroke-width="0.45" style="font-family:'DejaVu Sans','Liberation Sans',sans-serif">*</text>
<path d="M622.50 785.75L622.50 778.50L698.00 778.50L698.00 785.75" fill="none" stroke="#6a6a6a" stroke-width="1.10"/>
<text x="655.67" y="776.72" font-size="16.60" font-weight="bold" stroke="#000" stroke-width="0.45" style="font-family:'DejaVu Sans','Liberation Sans',sans-serif">*</text>
<path d="M958.50 801.25L958.50 805.00" stroke="#666" stroke-width="1.00"/>
<path d="M946.00 801.50L970.50 801.50" stroke="#666" stroke-width="1.00"/>
<rect x="934.73" y="804.73" width="47.55" height="149.30" fill="#fff" stroke="#000" stroke-width="1.45"/>
<path d="M1031.50 791.00L1031.50 795.00" stroke="#666" stroke-width="1.00"/>
<path d="M1019.25 791.50L1043.75 791.50" stroke="#666" stroke-width="1.00"/>
<rect x="1007.73" y="794.73" width="47.55" height="159.30" fill="#000" stroke="#000" stroke-width="1.45"/>
<path d="M1104.50 787.50L1104.50 792.00" stroke="#666" stroke-width="1.00"/>
<path d="M1092.50 787.50L1117.00 787.50" stroke="#666" stroke-width="1.00"/>
<rect x="1080.80" y="791.80" width="47.40" height="162.15" fill="#828282" stroke="#111" stroke-width="1.60"/>
<path d="M910.00 744.25L910.00 955.00" stroke="#000" stroke-width="1.50"/>
<path d="M909.25 954.00L1153.00 954.00" stroke="#000" stroke-width="1.50"/>
<path d="M904.00 954.00L910.00 954.00" stroke="#000" stroke-width="1.50"/>
<text x="894.55" y="958.97" font-size="13.10" font-weight="bold">0</text>
<path d="M904.00 884.00L910.00 884.00" stroke="#000" stroke-width="1.50"/>
<text x="894.52" y="889.22" font-size="13.10" font-weight="bold">2</text>
<path d="M904.00 815.00L910.00 815.00" stroke="#000" stroke-width="1.50"/>
<text x="894.09" y="819.47" font-size="13.10" font-weight="bold">4</text>
<path d="M904.00 745.00L910.00 745.00" stroke="#000" stroke-width="1.50"/>
<text x="894.49" y="749.72" font-size="13.10" font-weight="bold">6</text>
<path d="M906.70 919.50L910.00 919.50" stroke="#000" stroke-width="1.27"/>
<path d="M906.70 849.50L910.00 849.50" stroke="#000" stroke-width="1.27"/>
<path d="M906.70 779.50L910.00 779.50" stroke="#000" stroke-width="1.27"/>
<path d="M958.00 954.25L958.00 959.75" stroke="#000" stroke-width="1.50"/>
<path d="M1031.00 954.25L1031.00 959.75" stroke="#000" stroke-width="1.50"/>
<path d="M1104.00 954.25L1104.00 959.75" stroke="#000" stroke-width="1.50"/>
<text transform="translate(941.21 977.50) scale(0.8821 1)" font-size="17.90" fill="#000">CTL</text>
<text transform="translate(1016.30 977.50) scale(0.8706 1)" font-size="17.90" fill="#000">SCZ</text>
<text transform="translate(1083.19 977.50) scale(1.0546 1)" font-size="17.90" fill="#000">MED</text>
<text transform="translate(876.10 938.75) rotate(-90) scale(1.0510 1) translate(-0.09 0)" font-size="18.40" fill="#000"># of primary neurites</text>
<path d="M958.00 762.00L958.00 754.75L1104.00 754.75L1104.00 762.00" fill="none" stroke="#6a6a6a" stroke-width="1.10"/>
<text x="1026.67" y="752.97" font-size="16.60" font-weight="bold" stroke="#000" stroke-width="0.45" style="font-family:'DejaVu Sans','Liberation Sans',sans-serif">*</text>
<path d="M958.00 780.50L958.00 773.50L1032.50 773.50L1032.50 780.50" fill="none" stroke="#6a6a6a" stroke-width="1.10"/>
<text x="990.92" y="771.72" font-size="16.60" font-weight="bold" stroke="#000" stroke-width="0.45" style="font-family:'DejaVu Sans','Liberation Sans',sans-serif">*</text>
<path d="M1285.50 807.75L1285.50 822.00" stroke="#666" stroke-width="1.00"/>
<path d="M1272.88 807.50L1297.38 807.50" stroke="#666" stroke-width="1.00"/>
<rect x="1261.72" y="821.73" width="47.55" height="132.30" fill="#fff" stroke="#000" stroke-width="1.45"/>
<path d="M1358.50 781.50L1358.50 793.00" stroke="#666" stroke-width="1.00"/>
<path d="M1346.00 781.50L1370.50 781.50" stroke="#666" stroke-width="1.00"/>
<rect x="1334.72" y="792.73" width="47.55" height="161.30" fill="#000" stroke="#000" stroke-width="1.45"/>
<path d="M1431.50 777.00L1431.50 792.00" stroke="#666" stroke-width="1.00"/>
<path d="M1419.25 777.50L1443.75 777.50" stroke="#666" stroke-width="1.00"/>
<rect x="1407.80" y="791.80" width="47.40" height="162.15" fill="#828282" stroke="#111" stroke-width="1.60"/>
<path d="M1237.00 744.25L1237.00 955.00" stroke="#000" stroke-width="1.50"/>
<path d="M1236.25 954.00L1479.50 954.00" stroke="#000" stroke-width="1.50"/>
<path d="M1231.00 954.00L1237.00 954.00" stroke="#000" stroke-width="1.50"/>
<text x="1221.55" y="958.97" font-size="13.10" font-weight="bold">0</text>
<path d="M1231.00 902.00L1237.00 902.00" stroke="#000" stroke-width="1.50"/>
<text x="1221.52" y="906.65" font-size="13.10" font-weight="bold">2</text>
<path d="M1231.00 850.00L1237.00 850.00" stroke="#000" stroke-width="1.50"/>
<text x="1221.10" y="854.34" font-size="13.10" font-weight="bold">4</text>
<path d="M1231.00 797.00L1237.00 797.00" stroke="#000" stroke-width="1.50"/>
<text x="1221.49" y="802.03" font-size="13.10" font-weight="bold">6</text>
<path d="M1231.00 745.00L1237.00 745.00" stroke="#000" stroke-width="1.50"/>
<text x="1221.42" y="749.72" font-size="13.10" font-weight="bold">8</text>
<path d="M1233.70 928.50L1237.00 928.50" stroke="#000" stroke-width="1.27"/>
<path d="M1233.70 875.50L1237.00 875.50" stroke="#000" stroke-width="1.27"/>
<path d="M1233.70 823.50L1237.00 823.50" stroke="#000" stroke-width="1.27"/>
<path d="M1233.70 771.50L1237.00 771.50" stroke="#000" stroke-width="1.27"/>
<path d="M1285.00 954.25L1285.00 959.75" stroke="#000" stroke-width="1.50"/>
<path d="M1358.00 954.25L1358.00 959.75" stroke="#000" stroke-width="1.50"/>
<path d="M1431.00 954.25L1431.00 959.75" stroke="#000" stroke-width="1.50"/>
<text transform="translate(1268.71 978.25) scale(0.8821 1)" font-size="17.90" fill="#000">CTL</text>
<text transform="translate(1344.30 978.25) scale(0.8706 1)" font-size="17.90" fill="#000">SCZ</text>
<text transform="translate(1411.19 978.25) scale(1.0546 1)" font-size="17.90" fill="#000">MED</text>
<text transform="translate(1200.60 947.50) rotate(-90) scale(1.0300 1) translate(-0.09 0)" font-size="18.40" fill="#000"># of secondary neurites</text>
<path d="M1609.50 823.50L1609.50 833.00" stroke="#666" stroke-width="1.00"/>
<path d="M1597.12 823.50L1621.62 823.50" stroke="#666" stroke-width="1.00"/>
<rect x="1585.72" y="832.73" width="47.55" height="122.30" fill="#fff" stroke="#000" stroke-width="1.45"/>
<path d="M1683.50 804.25L1683.50 814.00" stroke="#666" stroke-width="1.00"/>
<path d="M1670.88 804.50L1695.38 804.50" stroke="#666" stroke-width="1.00"/>
<rect x="1658.72" y="813.73" width="48.55" height="141.30" fill="#000" stroke="#000" stroke-width="1.45"/>
<path d="M1756.50 802.00L1756.50 813.00" stroke="#666" stroke-width="1.00"/>
<path d="M1744.25 802.50L1768.75 802.50" stroke="#666" stroke-width="1.00"/>
<rect x="1732.80" y="812.80" width="47.40" height="142.15" fill="#828282" stroke="#111" stroke-width="1.60"/>
<path d="M1560.00 745.00L1560.00 955.75" stroke="#000" stroke-width="1.50"/>
<path d="M1559.50 955.00L1805.25 955.00" stroke="#000" stroke-width="1.50"/>
<path d="M1554.25 955.00L1560.25 955.00" stroke="#000" stroke-width="1.50"/>
<text x="1544.80" y="959.72" font-size="13.10" font-weight="bold">0</text>
<path d="M1554.25 885.00L1560.25 885.00" stroke="#000" stroke-width="1.50"/>
<text x="1544.64" y="889.97" font-size="13.10" font-weight="bold">5</text>
<path d="M1554.25 816.00L1560.25 816.00" stroke="#000" stroke-width="1.50"/>
<text x="1537.53" y="820.22" font-size="13.10" font-weight="bold">10</text>
<path d="M1554.25 746.00L1560.25 746.00" stroke="#000" stroke-width="1.50"/>
<text x="1537.37" y="750.47" font-size="13.10" font-weight="bold">15</text>
<path d="M1556.95 920.50L1560.25 920.50" stroke="#000" stroke-width="1.27"/>
<path d="M1556.95 850.50L1560.25 850.50" stroke="#000" stroke-width="1.27"/>
<path d="M1556.95 780.50L1560.25 780.50" stroke="#000" stroke-width="1.27"/>
<path d="M1609.00 955.00L1609.00 960.50" stroke="#000" stroke-width="1.50"/>
<path d="M1683.00 955.00L1683.00 960.50" stroke="#000" stroke-width="1.50"/>
<path d="M1756.00 955.00L1756.00 960.50" stroke="#000" stroke-width="1.50"/>
<text transform="translate(1593.21 977.50) scale(0.8821 1)" font-size="17.90" fill="#000">CTL</text>
<text transform="translate(1668.30 977.50) scale(0.8706 1)" font-size="17.90" fill="#000">SCZ</text>
<text transform="translate(1734.94 977.50) scale(1.0546 1)" font-size="17.90" fill="#000">MED</text>
<text transform="translate(1523.10 917.00) rotate(-90) scale(1.0438 1) translate(-0.09 0)" font-size="18.40" fill="#000"># of all neurites</text>
<path d="M94.50 1076.00L94.50 1083.00" stroke="#666" stroke-width="1.00"/>
<path d="M86.38 1076.50L102.38 1076.50" stroke="#666" stroke-width="1.00"/>
<rect x="78.72" y="1082.72" width="31.55" height="149.55" fill="#fff" stroke="#000" stroke-width="1.45"/>
<path d="M136.50 1070.75L136.50 1077.00" stroke="#666" stroke-width="1.00"/>
<path d="M128.50 1070.50L144.50 1070.50" stroke="#666" stroke-width="1.00"/>
<rect x="120.72" y="1076.72" width="31.55" height="155.55" fill="#000" stroke="#000" stroke-width="1.45"/>
<path d="M204.50 1074.25L204.50 1080.00" stroke="#666" stroke-width="1.00"/>
<path d="M196.50 1074.50L212.50 1074.50" stroke="#666" stroke-width="1.00"/>
<rect x="188.72" y="1079.72" width="31.55" height="152.55" fill="#fff" stroke="#000" stroke-width="1.45"/>
<path d="M246.50 1070.25L246.50 1076.00" stroke="#666" stroke-width="1.00"/>
<path d="M238.50 1070.50L254.50 1070.50" stroke="#666" stroke-width="1.00"/>
<rect x="230.72" y="1075.72" width="31.55" height="156.55" fill="#000" stroke="#000" stroke-width="1.45"/>
<path d="M314.50 1073.25L314.50 1079.00" stroke="#666" stroke-width="1.00"/>
<path d="M306.38 1073.50L322.38 1073.50" stroke="#666" stroke-width="1.00"/>
<rect x="298.73" y="1078.72" width="31.55" height="153.55" fill="#fff" stroke="#000" stroke-width="1.45"/>
<path d="M356.50 1069.75L356.50 1076.00" stroke="#666" stroke-width="1.00"/>
<path d="M348.50 1069.50L364.50 1069.50" stroke="#666" stroke-width="1.00"/>
<rect x="340.73" y="1075.72" width="31.55" height="156.55" fill="#000" stroke="#000" stroke-width="1.45"/>
<path d="M62.00 1035.30L62.00 1232.45" stroke="#000" stroke-width="1.90"/>
<path d="M61.05 1232.00L388.75 1232.00" stroke="#000" stroke-width="1.90"/>
<path d="M55.20 1232.00L62.00 1232.00" stroke="#000" stroke-width="1.90"/>
<text x="47.16" y="1236.00" font-size="12.50" font-weight="bold">0</text>
<path d="M55.20 1199.00L62.00 1199.00" stroke="#000" stroke-width="1.90"/>
<text x="40.23" y="1203.46" font-size="12.50" font-weight="bold">20</text>
<path d="M55.20 1166.00L62.00 1166.00" stroke="#000" stroke-width="1.90"/>
<text x="40.23" y="1170.92" font-size="12.50" font-weight="bold">40</text>
<path d="M55.20 1134.00L62.00 1134.00" stroke="#000" stroke-width="1.90"/>
<text x="40.23" y="1138.38" font-size="12.50" font-weight="bold">60</text>
<path d="M55.20 1101.00L62.00 1101.00" stroke="#000" stroke-width="1.90"/>
<text x="40.23" y="1105.83" font-size="12.50" font-weight="bold">80</text>
<path d="M55.20 1069.00L62.00 1069.00" stroke="#000" stroke-width="1.90"/>
<text x="33.26" y="1073.29" font-size="12.50" font-weight="bold">100</text>
<path d="M55.20 1036.00L62.00 1036.00" stroke="#000" stroke-width="1.90"/>
<text x="33.26" y="1040.75" font-size="12.50" font-weight="bold">120</text>
<path d="M115.00 1231.50L115.00 1237.50" stroke="#000" stroke-width="1.90"/>
<path d="M225.00 1231.50L225.00 1237.50" stroke="#000" stroke-width="1.90"/>
<path d="M336.00 1231.50L336.00 1237.50" stroke="#000" stroke-width="1.90"/>
<text transform="translate(99.96 1255.50) scale(0.8821 1)" font-size="17.90" fill="#000">CTL</text>
<text transform="translate(207.55 1255.50) scale(0.8706 1)" font-size="17.90" fill="#000">SCZ</text>
<text transform="translate(311.69 1255.50) scale(1.0546 1)" font-size="17.90" fill="#000">MED</text>
<text transform="translate(15.60 1198.25) rotate(-90) scale(1.0023 1) translate(-1.52 0)" font-size="18.40" fill="#000">LPN length (µm)</text>
<rect x="115.55" y="1019.55" width="23.90" height="15.90" fill="#fff" stroke="#000" stroke-width="1.10"/>
<rect x="217.55" y="1019.55" width="23.90" height="15.90" fill="#000" stroke="#000" stroke-width="1.10"/>
<text transform="translate(144.00 1034.00) scale(1.0419 1)" font-size="17.40" fill="#000">Day 20</text>
<text transform="translate(247.24 1034.00) scale(1.0501 1)" font-size="17.40" fill="#000">Day 21</text>
<path d="M489.50 1092.25L489.50 1104.00" stroke="#666" stroke-width="1.00"/>
<path d="M481.50 1092.50L497.50 1092.50" stroke="#666" stroke-width="1.00"/>
<rect x="473.73" y="1103.72" width="31.55" height="127.55" fill="#fff" stroke="#000" stroke-width="1.45"/>
<path d="M531.50 1100.75L531.50 1112.00" stroke="#666" stroke-width="1.00"/>
<path d="M523.50 1100.50L539.50 1100.50" stroke="#666" stroke-width="1.00"/>
<rect x="515.73" y="1111.72" width="31.55" height="119.55" fill="#000" stroke="#000" stroke-width="1.45"/>
<path d="M599.50 1078.75L599.50 1086.00" stroke="#666" stroke-width="1.00"/>
<path d="M591.62 1078.50L607.62 1078.50" stroke="#666" stroke-width="1.00"/>
<rect x="583.73" y="1085.72" width="31.55" height="145.55" fill="#fff" stroke="#000" stroke-width="1.45"/>
<path d="M641.50 1075.75L641.50 1082.00" stroke="#666" stroke-width="1.00"/>
<path d="M633.62 1075.50L649.62 1075.50" stroke="#666" stroke-width="1.00"/>
<rect x="625.73" y="1081.72" width="31.55" height="149.55" fill="#000" stroke="#000" stroke-width="1.45"/>
<path d="M709.50 1079.25L709.50 1087.00" stroke="#666" stroke-width="1.00"/>
<path d="M701.75 1079.50L717.75 1079.50" stroke="#666" stroke-width="1.00"/>
<rect x="693.73" y="1086.72" width="31.55" height="144.55" fill="#fff" stroke="#000" stroke-width="1.45"/>
<path d="M751.50 1076.75L751.50 1084.00" stroke="#666" stroke-width="1.00"/>
<path d="M743.75 1076.50L759.75 1076.50" stroke="#666" stroke-width="1.00"/>
<rect x="735.73" y="1083.72" width="31.55" height="147.55" fill="#000" stroke="#000" stroke-width="1.45"/>
<path d="M458.00 1034.30L458.00 1231.70" stroke="#000" stroke-width="1.90"/>
<path d="M456.55 1231.00L784.25 1231.00" stroke="#000" stroke-width="1.90"/>
<path d="M450.70 1231.00L457.50 1231.00" stroke="#000" stroke-width="1.90"/>
<text x="442.66" y="1235.25" font-size="12.50" font-weight="bold">0</text>
<path d="M450.70 1192.00L457.50 1192.00" stroke="#000" stroke-width="1.90"/>
<text x="442.51" y="1196.15" font-size="12.50" font-weight="bold">5</text>
<path d="M450.70 1153.00L457.50 1153.00" stroke="#000" stroke-width="1.90"/>
<text x="435.72" y="1157.05" font-size="12.50" font-weight="bold">10</text>
<path d="M450.70 1113.00L457.50 1113.00" stroke="#000" stroke-width="1.90"/>
<text x="435.57" y="1117.95" font-size="12.50" font-weight="bold">15</text>
<path d="M450.70 1074.00L457.50 1074.00" stroke="#000" stroke-width="1.90"/>
<text x="435.72" y="1078.85" font-size="12.50" font-weight="bold">20</text>
<path d="M450.70 1035.00L457.50 1035.00" stroke="#000" stroke-width="1.90"/>
<text x="435.57" y="1039.75" font-size="12.50" font-weight="bold">25</text>
<path d="M510.00 1230.75L510.00 1236.75" stroke="#000" stroke-width="1.90"/>
<path d="M620.00 1230.75L620.00 1236.75" stroke="#000" stroke-width="1.90"/>
<path d="M731.00 1230.75L731.00 1236.75" stroke="#000" stroke-width="1.90"/>
<text transform="translate(493.21 1256.00) scale(0.8821 1)" font-size="17.90" fill="#000">CTL</text>
<text transform="translate(605.55 1256.00) scale(0.8706 1)" font-size="17.90" fill="#000">SCZ</text>
<text transform="translate(709.44 1256.00) scale(1.0546 1)" font-size="17.90" fill="#000">MED</text>
<text transform="translate(418.60 1195.00) rotate(-90) scale(1.0004 1) translate(-1.52 0)" font-size="18.40" fill="#000">LSN length (µm)</text>
<path d="M873.50 1089.00L873.50 1093.00" stroke="#666" stroke-width="1.00"/>
<path d="M865.25 1089.50L881.25 1089.50" stroke="#666" stroke-width="1.00"/>
<rect x="857.73" y="1092.72" width="31.55" height="135.55" fill="#fff" stroke="#000" stroke-width="1.45"/>
<path d="M915.50 1085.75L915.50 1089.00" stroke="#666" stroke-width="1.00"/>
<path d="M907.12 1085.50L923.12 1085.50" stroke="#666" stroke-width="1.00"/>
<rect x="899.73" y="1088.72" width="31.55" height="139.55" fill="#000" stroke="#000" stroke-width="1.45"/>
<path d="M983.50 1073.25L983.50 1079.00" stroke="#666" stroke-width="1.00"/>
<path d="M975.00 1073.50L991.00 1073.50" stroke="#666" stroke-width="1.00"/>
<rect x="967.73" y="1078.72" width="30.55" height="149.55" fill="#fff" stroke="#000" stroke-width="1.45"/>
<path d="M1025.50 1071.75L1025.50 1077.00" stroke="#666" stroke-width="1.00"/>
<path d="M1017.00 1071.50L1033.00 1071.50" stroke="#666" stroke-width="1.00"/>
<rect x="1008.73" y="1076.72" width="32.55" height="151.55" fill="#000" stroke="#000" stroke-width="1.45"/>
<path d="M1092.50 1073.75L1092.50 1079.00" stroke="#666" stroke-width="1.00"/>
<path d="M1084.75 1073.50L1100.75 1073.50" stroke="#666" stroke-width="1.00"/>
<rect x="1076.72" y="1078.72" width="31.55" height="149.55" fill="#fff" stroke="#000" stroke-width="1.45"/>
<path d="M1134.50 1071.25L1134.50 1077.00" stroke="#666" stroke-width="1.00"/>
<path d="M1126.75 1071.50L1142.75 1071.50" stroke="#666" stroke-width="1.00"/>
<rect x="1118.72" y="1076.72" width="31.55" height="151.55" fill="#000" stroke="#000" stroke-width="1.45"/>
<path d="M841.00 1031.80L841.00 1228.95" stroke="#000" stroke-width="1.90"/>
<path d="M840.30 1228.00L1167.00 1228.00" stroke="#000" stroke-width="1.90"/>
<path d="M834.45 1228.00L841.25 1228.00" stroke="#000" stroke-width="1.90"/>
<text x="826.41" y="1232.50" font-size="12.50" font-weight="bold">0</text>
<path d="M834.45 1163.00L841.25 1163.00" stroke="#000" stroke-width="1.90"/>
<text x="826.38" y="1167.42" font-size="12.50" font-weight="bold">2</text>
<path d="M834.45 1098.00L841.25 1098.00" stroke="#000" stroke-width="1.90"/>
<text x="825.98" y="1102.33" font-size="12.50" font-weight="bold">4</text>
<path d="M834.45 1033.00L841.25 1033.00" stroke="#000" stroke-width="1.90"/>
<text x="826.35" y="1037.25" font-size="12.50" font-weight="bold">6</text>
<path d="M837.75 1195.00L841.25 1195.00" stroke="#000" stroke-width="1.61"/>
<path d="M837.75 1130.00L841.25 1130.00" stroke="#000" stroke-width="1.61"/>
<path d="M837.75 1065.00L841.25 1065.00" stroke="#000" stroke-width="1.61"/>
<path d="M894.00 1228.00L894.00 1234.00" stroke="#000" stroke-width="1.90"/>
<path d="M1004.00 1228.00L1004.00 1234.00" stroke="#000" stroke-width="1.90"/>
<path d="M1114.00 1228.00L1114.00 1234.00" stroke="#000" stroke-width="1.90"/>
<text transform="translate(879.46 1253.00) scale(0.8821 1)" font-size="17.90" fill="#000">CTL</text>
<text transform="translate(986.80 1253.00) scale(0.8706 1)" font-size="17.90" fill="#000">SCZ</text>
<text transform="translate(1091.19 1253.00) scale(1.0546 1)" font-size="17.90" fill="#000">MED</text>
<text transform="translate(811.10 1183.25) rotate(-90) scale(1.0514 1) translate(-0.09 0)" font-size="18.40" fill="#000"># of primary</text>
<path d="M1267.50 1095.75L1267.50 1111.00" stroke="#666" stroke-width="1.00"/>
<path d="M1259.00 1095.50L1275.00 1095.50" stroke="#666" stroke-width="1.00"/>
<rect x="1251.72" y="1110.72" width="30.55" height="118.55" fill="#fff" stroke="#000" stroke-width="1.45"/>
<path d="M1309.50 1110.25L1309.50 1125.00" stroke="#666" stroke-width="1.00"/>
<path d="M1301.00 1110.50L1317.00 1110.50" stroke="#666" stroke-width="1.00"/>
<rect x="1292.72" y="1124.72" width="32.55" height="104.55" fill="#000" stroke="#000" stroke-width="1.45"/>
<path d="M1376.50 1071.75L1376.50 1084.00" stroke="#666" stroke-width="1.00"/>
<path d="M1368.88 1071.50L1384.88 1071.50" stroke="#666" stroke-width="1.00"/>
<rect x="1360.72" y="1083.72" width="31.55" height="145.55" fill="#fff" stroke="#000" stroke-width="1.45"/>
<path d="M1418.50 1057.25L1418.50 1069.00" stroke="#666" stroke-width="1.00"/>
<path d="M1410.75 1057.50L1426.75 1057.50" stroke="#666" stroke-width="1.00"/>
<rect x="1402.72" y="1068.72" width="31.55" height="160.55" fill="#000" stroke="#000" stroke-width="1.45"/>
<path d="M1486.50 1073.00L1486.50 1086.00" stroke="#666" stroke-width="1.00"/>
<path d="M1478.62 1073.50L1494.62 1073.50" stroke="#666" stroke-width="1.00"/>
<rect x="1470.72" y="1085.72" width="31.55" height="143.55" fill="#fff" stroke="#000" stroke-width="1.45"/>
<path d="M1528.50 1058.50L1528.50 1071.00" stroke="#666" stroke-width="1.00"/>
<path d="M1520.50 1058.50L1536.50 1058.50" stroke="#666" stroke-width="1.00"/>
<rect x="1512.72" y="1070.72" width="31.55" height="158.55" fill="#000" stroke="#000" stroke-width="1.45"/>
<path d="M1235.00 1032.80L1235.00 1229.95" stroke="#000" stroke-width="1.90"/>
<path d="M1234.05 1229.00L1560.75 1229.00" stroke="#000" stroke-width="1.90"/>
<path d="M1228.20 1229.00L1235.00 1229.00" stroke="#000" stroke-width="1.90"/>
<text x="1220.16" y="1233.50" font-size="12.50" font-weight="bold">0</text>
<path d="M1228.20 1180.00L1235.00 1180.00" stroke="#000" stroke-width="1.90"/>
<text x="1220.13" y="1184.69" font-size="12.50" font-weight="bold">2</text>
<path d="M1228.20 1131.00L1235.00 1131.00" stroke="#000" stroke-width="1.90"/>
<text x="1219.73" y="1135.88" font-size="12.50" font-weight="bold">4</text>
<path d="M1228.20 1083.00L1235.00 1083.00" stroke="#000" stroke-width="1.90"/>
<text x="1220.10" y="1087.06" font-size="12.50" font-weight="bold">6</text>
<path d="M1228.20 1034.00L1235.00 1034.00" stroke="#000" stroke-width="1.90"/>
<text x="1220.04" y="1038.25" font-size="12.50" font-weight="bold">8</text>
<path d="M1231.50 1205.00L1235.00 1205.00" stroke="#000" stroke-width="1.61"/>
<path d="M1231.50 1156.00L1235.00 1156.00" stroke="#000" stroke-width="1.61"/>
<path d="M1231.50 1107.00L1235.00 1107.00" stroke="#000" stroke-width="1.61"/>
<path d="M1231.50 1058.00L1235.00 1058.00" stroke="#000" stroke-width="1.61"/>
<path d="M1288.00 1229.00L1288.00 1235.00" stroke="#000" stroke-width="1.90"/>
<path d="M1398.00 1229.00L1398.00 1235.00" stroke="#000" stroke-width="1.90"/>
<path d="M1507.00 1229.00L1507.00 1235.00" stroke="#000" stroke-width="1.90"/>
<text transform="translate(1272.46 1253.00) scale(0.8821 1)" font-size="17.90" fill="#000">CTL</text>
<text transform="translate(1384.30 1253.00) scale(0.8706 1)" font-size="17.90" fill="#000">SCZ</text>
<text transform="translate(1483.69 1253.00) scale(1.0546 1)" font-size="17.90" fill="#000">MED</text>
<text transform="translate(1194.85 1192.00) rotate(-90) scale(1.0160 1) translate(-0.09 0)" font-size="18.40" fill="#000"># of secondary</text>
<path d="M1654.50 1111.00L1654.50 1121.00" stroke="#666" stroke-width="1.00"/>
<path d="M1646.75 1111.50L1662.75 1111.50" stroke="#666" stroke-width="1.00"/>
<rect x="1638.72" y="1120.72" width="31.55" height="108.55" fill="#fff" stroke="#000" stroke-width="1.45"/>
<path d="M1696.50 1117.25L1696.50 1127.00" stroke="#666" stroke-width="1.00"/>
<path d="M1688.75 1117.50L1704.75 1117.50" stroke="#666" stroke-width="1.00"/>
<rect x="1680.72" y="1126.72" width="31.55" height="102.55" fill="#000" stroke="#000" stroke-width="1.45"/>
<path d="M1764.50 1092.75L1764.50 1101.00" stroke="#666" stroke-width="1.00"/>
<path d="M1756.50 1092.50L1772.50 1092.50" stroke="#666" stroke-width="1.00"/>
<rect x="1748.72" y="1100.72" width="31.55" height="128.55" fill="#fff" stroke="#000" stroke-width="1.45"/>
<path d="M1806.50 1081.00L1806.50 1089.00" stroke="#666" stroke-width="1.00"/>
<path d="M1798.38 1081.50L1814.38 1081.50" stroke="#666" stroke-width="1.00"/>
<rect x="1790.72" y="1088.72" width="31.55" height="140.55" fill="#000" stroke="#000" stroke-width="1.45"/>
<path d="M1874.50 1092.25L1874.50 1101.00" stroke="#666" stroke-width="1.00"/>
<path d="M1866.12 1092.50L1882.12 1092.50" stroke="#666" stroke-width="1.00"/>
<rect x="1858.72" y="1100.72" width="31.55" height="128.55" fill="#fff" stroke="#000" stroke-width="1.45"/>
<path d="M1916.50 1080.25L1916.50 1089.00" stroke="#666" stroke-width="1.00"/>
<path d="M1908.00 1080.50L1924.00 1080.50" stroke="#666" stroke-width="1.00"/>
<rect x="1899.72" y="1088.72" width="32.55" height="140.55" fill="#000" stroke="#000" stroke-width="1.45"/>
<path d="M1623.00 1032.80L1623.00 1229.95" stroke="#000" stroke-width="1.90"/>
<path d="M1621.80 1229.00L1949.00 1229.00" stroke="#000" stroke-width="1.90"/>
<path d="M1615.95 1229.00L1622.75 1229.00" stroke="#000" stroke-width="1.90"/>
<text x="1607.91" y="1233.50" font-size="12.50" font-weight="bold">0</text>
<path d="M1615.95 1164.00L1622.75 1164.00" stroke="#000" stroke-width="1.90"/>
<text x="1607.76" y="1168.42" font-size="12.50" font-weight="bold">5</text>
<path d="M1615.95 1099.00L1622.75 1099.00" stroke="#000" stroke-width="1.90"/>
<text x="1600.98" y="1103.33" font-size="12.50" font-weight="bold">10</text>
<path d="M1615.95 1034.00L1622.75 1034.00" stroke="#000" stroke-width="1.90"/>
<text x="1600.82" y="1038.25" font-size="12.50" font-weight="bold">15</text>
<path d="M1619.25 1196.00L1622.75 1196.00" stroke="#000" stroke-width="1.61"/>
<path d="M1619.25 1131.00L1622.75 1131.00" stroke="#000" stroke-width="1.61"/>
<path d="M1619.25 1066.00L1622.75 1066.00" stroke="#000" stroke-width="1.61"/>
<path d="M1675.00 1229.00L1675.00 1235.00" stroke="#000" stroke-width="1.90"/>
<path d="M1785.00 1229.00L1785.00 1235.00" stroke="#000" stroke-width="1.90"/>
<path d="M1895.00 1229.00L1895.00 1235.00" stroke="#000" stroke-width="1.90"/>
<text transform="translate(1660.21 1253.00) scale(0.8821 1)" font-size="17.90" fill="#000">CTL</text>
<text transform="translate(1767.55 1253.00) scale(0.8706 1)" font-size="17.90" fill="#000">SCZ</text>
<text transform="translate(1871.94 1253.00) scale(1.0546 1)" font-size="17.90" fill="#000">MED</text>
<text transform="translate(1592.60 1200.75) rotate(-90) scale(1.0378 1) translate(-0.09 0)" font-size="18.40" fill="#000"># of all neurites</text>
<path d="M1763.75 1069.00L1763.75 1062.50L1807.75 1062.50L1807.75 1069.00" fill="none" stroke="#6a6a6a" stroke-width="1.10"/>
<text x="1781.42" y="1061.22" font-size="16.60" font-weight="bold" stroke="#000" stroke-width="0.45" style="font-family:'DejaVu Sans','Liberation Sans',sans-serif">*</text>
<path d="M1873.75 1069.00L1873.75 1062.50L1916.25 1062.50L1916.25 1069.00" fill="none" stroke="#6a6a6a" stroke-width="1.10"/>
<text x="1890.67" y="1061.22" font-size="16.60" font-weight="bold" stroke="#000" stroke-width="0.45" style="font-family:'DejaVu Sans','Liberation Sans',sans-serif">*</text>
</svg>
</body></html>
